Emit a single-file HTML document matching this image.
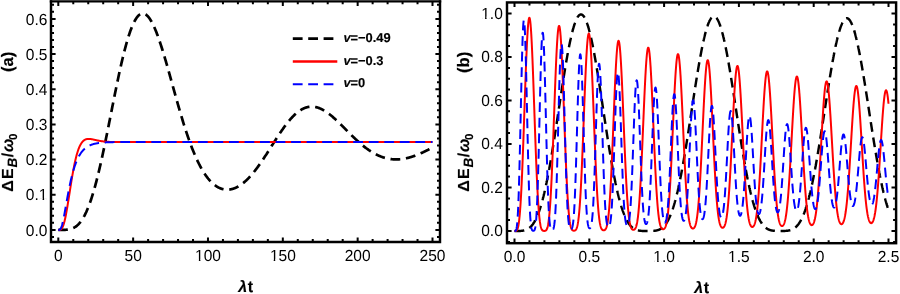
<!DOCTYPE html>
<html><head><meta charset="utf-8"><title>Figure</title>
<style>
html,body{margin:0;padding:0;background:#fff;}
body{width:900px;height:294px;overflow:hidden;}
svg{display:block;font-family:"Liberation Sans",sans-serif;will-change:transform;text-rendering:geometricPrecision;}
</style></head><body>
<svg width="900" height="294" viewBox="0 0 900 294">
<rect width="900" height="294" fill="#fff"/>
<defs><clipPath id="ca"><rect x="51" y="1.3" width="389" height="240.7"/></clipPath><clipPath id="cb"><rect x="507" y="2.45" width="389.1" height="240.75"/></clipPath></defs>
<g clip-path="url(#ca)" fill="none" stroke-linejoin="round"><path d="M58.30 229.90 L58.61 229.90 L58.92 229.90 L59.24 229.90 L59.55 229.90 L59.86 229.90 L60.17 229.90 L60.48 229.90 L60.80 229.90 L61.11 229.90 L61.42 229.90 L61.73 229.89 L62.05 229.89 L62.36 229.89 L62.67 229.88 L62.98 229.88 L63.29 229.87 L63.61 229.87 L63.92 229.86 L64.23 229.85 L64.54 229.84 L64.85 229.82 L65.17 229.81 L65.48 229.79 L65.79 229.77 L66.10 229.75 L66.41 229.72 L66.73 229.69 L67.04 229.66 L67.35 229.63 L67.66 229.59 L67.97 229.55 L68.29 229.50 L68.60 229.45 L68.91 229.40 L69.22 229.34 L69.54 229.27 L69.85 229.20 L70.16 229.13 L70.47 229.05 L70.78 228.96 L71.10 228.87 L71.41 228.77 L71.72 228.66 L72.03 228.55 L72.34 228.43 L72.66 228.30 L72.97 228.16 L73.28 228.02 L73.59 227.87 L73.90 227.71 L74.22 227.54 L74.53 227.36 L74.84 227.18 L75.15 226.98 L75.47 226.77 L75.78 226.56 L76.09 226.33 L76.40 226.09 L76.71 225.85 L77.03 225.59 L77.34 225.32 L77.65 225.04 L77.96 224.74 L78.27 224.44 L78.59 224.12 L78.90 223.79 L79.21 223.45 L79.52 223.10 L79.83 222.73 L80.15 222.35 L80.46 221.95 L80.77 221.54 L81.08 221.12 L81.39 220.69 L81.71 220.24 L82.02 219.77 L82.33 219.30 L82.64 218.80 L82.96 218.29 L83.27 217.77 L83.58 217.23 L83.89 216.68 L84.20 216.11 L84.52 215.53 L84.83 214.93 L85.14 214.31 L85.45 213.68 L85.76 213.03 L86.08 212.37 L86.39 211.69 L86.70 210.99 L87.01 210.28 L87.32 209.55 L87.64 208.81 L87.95 208.05 L88.26 207.27 L88.57 206.48 L88.89 205.67 L89.20 204.84 L89.51 204.00 L89.82 203.14 L90.13 202.26 L90.45 201.37 L90.76 200.46 L91.07 199.53 L91.38 198.59 L91.69 197.63 L92.01 196.66 L92.32 195.67 L92.63 194.66 L92.94 193.64 L93.25 192.60 L93.57 191.54 L93.88 190.47 L94.19 189.38 L94.50 188.28 L94.81 187.16 L95.13 186.03 L95.44 184.88 L95.75 183.72 L96.06 182.54 L96.38 181.35 L96.69 180.14 L97.00 178.92 L97.31 177.69 L97.62 176.44 L97.94 175.17 L98.25 173.90 L98.56 172.61 L98.87 171.30 L99.18 169.99 L99.50 168.66 L99.81 167.32 L100.12 165.97 L100.43 164.60 L100.74 163.23 L101.06 161.84 L101.37 160.44 L101.68 159.03 L101.99 157.61 L102.31 156.18 L102.62 154.74 L102.93 153.29 L103.24 151.83 L103.55 150.36 L103.87 148.89 L104.18 147.40 L104.49 145.91 L104.80 144.41 L105.11 142.90 L105.43 141.39 L105.74 139.87 L106.05 138.34 L106.36 136.81 L106.67 135.27 L106.99 133.73 L107.30 132.18 L107.61 130.62 L107.92 129.07 L108.23 127.51 L108.55 125.94 L108.86 124.38 L109.17 122.81 L109.48 121.23 L109.80 119.66 L110.11 118.09 L110.42 116.51 L110.73 114.93 L111.04 113.36 L111.36 111.78 L111.67 110.20 L111.98 108.63 L112.29 107.05 L112.60 105.48 L112.92 103.91 L113.23 102.35 L113.54 100.78 L113.85 99.22 L114.16 97.66 L114.48 96.11 L114.79 94.56 L115.10 93.02 L115.41 91.48 L115.73 89.95 L116.04 88.42 L116.35 86.90 L116.66 85.39 L116.97 83.88 L117.29 82.38 L117.60 80.89 L117.91 79.41 L118.22 77.94 L118.53 76.47 L118.85 75.02 L119.16 73.57 L119.47 72.14 L119.78 70.71 L120.09 69.30 L120.41 67.90 L120.72 66.51 L121.03 65.13 L121.34 63.77 L121.65 62.41 L121.97 61.07 L122.28 59.75 L122.59 58.44 L122.90 57.14 L123.22 55.85 L123.53 54.58 L123.84 53.33 L124.15 52.09 L124.46 50.87 L124.78 49.66 L125.09 48.47 L125.40 47.29 L125.71 46.13 L126.02 44.99 L126.34 43.87 L126.65 42.76 L126.96 41.67 L127.27 40.60 L127.58 39.54 L127.90 38.51 L128.21 37.49 L128.52 36.50 L128.83 35.52 L129.15 34.56 L129.46 33.62 L129.77 32.70 L130.08 31.80 L130.39 30.92 L130.71 30.06 L131.02 29.23 L131.33 28.41 L131.64 27.61 L131.95 26.83 L132.27 26.08 L132.58 25.34 L132.89 24.63 L133.20 23.94 L133.51 23.27 L133.83 22.62 L134.14 22.00 L134.45 21.39 L134.76 20.81 L135.07 20.25 L135.39 19.71 L135.70 19.20 L136.01 18.70 L136.32 18.23 L136.64 17.78 L136.95 17.36 L137.26 16.95 L137.57 16.57 L137.88 16.21 L138.20 15.87 L138.51 15.56 L138.82 15.27 L139.13 15.00 L139.44 14.75 L139.76 14.53 L140.07 14.33 L140.38 14.15 L140.69 13.99 L141.00 13.85 L141.32 13.74 L141.63 13.65 L141.94 13.58 L142.25 13.54 L142.57 13.51 L142.88 13.51 L143.19 13.53 L143.50 13.57 L143.81 13.63 L144.13 13.72 L144.44 13.82 L144.75 13.95 L145.06 14.10 L145.37 14.27 L145.69 14.46 L146.00 14.67 L146.31 14.90 L146.62 15.15 L146.93 15.42 L147.25 15.71 L147.56 16.02 L147.87 16.36 L148.18 16.71 L148.49 17.08 L148.81 17.47 L149.12 17.88 L149.43 18.30 L149.74 18.75 L150.06 19.21 L150.37 19.70 L150.68 20.20 L150.99 20.72 L151.30 21.25 L151.62 21.81 L151.93 22.38 L152.24 22.97 L152.55 23.57 L152.86 24.19 L153.18 24.83 L153.49 25.48 L153.80 26.15 L154.11 26.84 L154.42 27.54 L154.74 28.25 L155.05 28.98 L155.36 29.72 L155.67 30.48 L155.99 31.26 L156.30 32.04 L156.61 32.84 L156.92 33.65 L157.23 34.48 L157.55 35.32 L157.86 36.17 L158.17 37.03 L158.48 37.91 L158.79 38.79 L159.11 39.69 L159.42 40.60 L159.73 41.52 L160.04 42.45 L160.35 43.39 L160.67 44.34 L160.98 45.30 L161.29 46.27 L161.60 47.24 L161.92 48.23 L162.23 49.23 L162.54 50.23 L162.85 51.24 L163.16 52.26 L163.48 53.29 L163.79 54.32 L164.10 55.36 L164.41 56.41 L164.72 57.46 L165.04 58.52 L165.35 59.59 L165.66 60.66 L165.97 61.74 L166.28 62.82 L166.60 63.90 L166.91 64.99 L167.22 66.09 L167.53 67.19 L167.84 68.29 L168.16 69.40 L168.47 70.51 L168.78 71.62 L169.09 72.73 L169.41 73.85 L169.72 74.97 L170.03 76.09 L170.34 77.21 L170.65 78.34 L170.97 79.46 L171.28 80.59 L171.59 81.72 L171.90 82.84 L172.21 83.97 L172.53 85.10 L172.84 86.23 L173.15 87.35 L173.46 88.48 L173.77 89.61 L174.09 90.73 L174.40 91.85 L174.71 92.98 L175.02 94.10 L175.34 95.22 L175.65 96.33 L175.96 97.45 L176.27 98.56 L176.58 99.67 L176.90 100.77 L177.21 101.87 L177.52 102.97 L177.83 104.07 L178.14 105.16 L178.46 106.25 L178.77 107.34 L179.08 108.42 L179.39 109.49 L179.70 110.57 L180.02 111.63 L180.33 112.70 L180.64 113.75 L180.95 114.81 L181.26 115.86 L181.58 116.90 L181.89 117.94 L182.20 118.97 L182.51 119.99 L182.83 121.01 L183.14 122.03 L183.45 123.04 L183.76 124.04 L184.07 125.03 L184.39 126.02 L184.70 127.01 L185.01 127.98 L185.32 128.95 L185.63 129.92 L185.95 130.87 L186.26 131.82 L186.57 132.76 L186.88 133.70 L187.19 134.63 L187.51 135.55 L187.82 136.46 L188.13 137.37 L188.44 138.26 L188.76 139.15 L189.07 140.04 L189.38 140.91 L189.69 141.78 L190.00 142.64 L190.32 143.49 L190.63 144.33 L190.94 145.17 L191.25 146.00 L191.56 146.82 L191.88 147.63 L192.19 148.43 L192.50 149.23 L192.81 150.02 L193.12 150.80 L193.44 151.57 L193.75 152.33 L194.06 153.08 L194.37 153.83 L194.68 154.57 L195.00 155.30 L195.31 156.02 L195.62 156.73 L195.93 157.44 L196.25 158.13 L196.56 158.82 L196.87 159.50 L197.18 160.17 L197.49 160.83 L197.81 161.49 L198.12 162.13 L198.43 162.77 L198.74 163.40 L199.05 164.02 L199.37 164.64 L199.68 165.24 L199.99 165.84 L200.30 166.42 L200.61 167.00 L200.93 167.58 L201.24 168.14 L201.55 168.69 L201.86 169.24 L202.18 169.78 L202.49 170.31 L202.80 170.83 L203.11 171.35 L203.42 171.85 L203.74 172.35 L204.05 172.84 L204.36 173.33 L204.67 173.80 L204.98 174.27 L205.30 174.73 L205.61 175.18 L205.92 175.62 L206.23 176.06 L206.54 176.48 L206.86 176.91 L207.17 177.32 L207.48 177.72 L207.79 178.12 L208.10 178.51 L208.42 178.89 L208.73 179.27 L209.04 179.64 L209.35 180.00 L209.67 180.35 L209.98 180.70 L210.29 181.03 L210.60 181.37 L210.91 181.69 L211.23 182.01 L211.54 182.32 L211.85 182.62 L212.16 182.92 L212.47 183.21 L212.79 183.49 L213.10 183.76 L213.41 184.03 L213.72 184.29 L214.03 184.55 L214.35 184.80 L214.66 185.04 L214.97 185.27 L215.28 185.50 L215.60 185.73 L215.91 185.94 L216.22 186.15 L216.53 186.35 L216.84 186.55 L217.16 186.74 L217.47 186.92 L217.78 187.10 L218.09 187.27 L218.40 187.43 L218.72 187.59 L219.03 187.75 L219.34 187.89 L219.65 188.03 L219.96 188.17 L220.28 188.30 L220.59 188.42 L220.90 188.53 L221.21 188.64 L221.52 188.75 L221.84 188.85 L222.15 188.94 L222.46 189.03 L222.77 189.11 L223.09 189.19 L223.40 189.26 L223.71 189.32 L224.02 189.38 L224.33 189.43 L224.65 189.48 L224.96 189.52 L225.27 189.56 L225.58 189.59 L225.89 189.62 L226.21 189.64 L226.52 189.65 L226.83 189.66 L227.14 189.66 L227.45 189.66 L227.77 189.65 L228.08 189.64 L228.39 189.63 L228.70 189.60 L229.02 189.57 L229.33 189.54 L229.64 189.50 L229.95 189.46 L230.26 189.41 L230.58 189.36 L230.89 189.30 L231.20 189.23 L231.51 189.16 L231.82 189.09 L232.14 189.01 L232.45 188.93 L232.76 188.84 L233.07 188.74 L233.38 188.64 L233.70 188.54 L234.01 188.43 L234.32 188.31 L234.63 188.20 L234.94 188.07 L235.26 187.94 L235.57 187.81 L235.88 187.67 L236.19 187.53 L236.51 187.38 L236.82 187.22 L237.13 187.07 L237.44 186.90 L237.75 186.73 L238.07 186.56 L238.38 186.38 L238.69 186.20 L239.00 186.02 L239.31 185.82 L239.63 185.63 L239.94 185.43 L240.25 185.22 L240.56 185.01 L240.87 184.80 L241.19 184.58 L241.50 184.36 L241.81 184.13 L242.12 183.89 L242.44 183.66 L242.75 183.42 L243.06 183.17 L243.37 182.92 L243.68 182.66 L244.00 182.40 L244.31 182.14 L244.62 181.87 L244.93 181.60 L245.24 181.32 L245.56 181.04 L245.87 180.75 L246.18 180.46 L246.49 180.17 L246.80 179.87 L247.12 179.57 L247.43 179.26 L247.74 178.95 L248.05 178.64 L248.36 178.32 L248.68 177.99 L248.99 177.67 L249.30 177.34 L249.61 177.00 L249.93 176.66 L250.24 176.32 L250.55 175.97 L250.86 175.62 L251.17 175.27 L251.49 174.91 L251.80 174.55 L252.11 174.18 L252.42 173.81 L252.73 173.44 L253.05 173.06 L253.36 172.68 L253.67 172.30 L253.98 171.91 L254.29 171.52 L254.61 171.13 L254.92 170.73 L255.23 170.33 L255.54 169.93 L255.86 169.52 L256.17 169.11 L256.48 168.70 L256.79 168.28 L257.10 167.87 L257.42 167.44 L257.73 167.02 L258.04 166.59 L258.35 166.16 L258.66 165.73 L258.98 165.29 L259.29 164.85 L259.60 164.41 L259.91 163.97 L260.22 163.52 L260.54 163.07 L260.85 162.62 L261.16 162.17 L261.47 161.71 L261.78 161.25 L262.10 160.79 L262.41 160.33 L262.72 159.87 L263.03 159.40 L263.35 158.93 L263.66 158.47 L263.97 157.99 L264.28 157.52 L264.59 157.05 L264.91 156.57 L265.22 156.09 L265.53 155.61 L265.84 155.13 L266.15 154.65 L266.47 154.17 L266.78 153.68 L267.09 153.20 L267.40 152.71 L267.71 152.22 L268.03 151.73 L268.34 151.25 L268.65 150.76 L268.96 150.26 L269.28 149.77 L269.59 149.28 L269.90 148.79 L270.21 148.30 L270.52 147.80 L270.84 147.31 L271.15 146.82 L271.46 146.33 L271.77 145.83 L272.08 145.34 L272.40 144.85 L272.71 144.35 L273.02 143.86 L273.33 143.37 L273.64 142.88 L273.96 142.39 L274.27 141.90 L274.58 141.41 L274.89 140.92 L275.20 140.43 L275.52 139.94 L275.83 139.46 L276.14 138.97 L276.45 138.49 L276.77 138.00 L277.08 137.52 L277.39 137.04 L277.70 136.56 L278.01 136.09 L278.33 135.61 L278.64 135.14 L278.95 134.67 L279.26 134.20 L279.57 133.73 L279.89 133.26 L280.20 132.80 L280.51 132.34 L280.82 131.88 L281.13 131.42 L281.45 130.96 L281.76 130.51 L282.07 130.06 L282.38 129.61 L282.70 129.17 L283.01 128.72 L283.32 128.28 L283.63 127.85 L283.94 127.41 L284.26 126.98 L284.57 126.56 L284.88 126.13 L285.19 125.71 L285.50 125.29 L285.82 124.88 L286.13 124.47 L286.44 124.06 L286.75 123.65 L287.06 123.25 L287.38 122.85 L287.69 122.46 L288.00 122.07 L288.31 121.69 L288.62 121.30 L288.94 120.93 L289.25 120.55 L289.56 120.18 L289.87 119.82 L290.19 119.45 L290.50 119.10 L290.81 118.74 L291.12 118.39 L291.43 118.05 L291.75 117.71 L292.06 117.37 L292.37 117.04 L292.68 116.72 L292.99 116.40 L293.31 116.08 L293.62 115.77 L293.93 115.46 L294.24 115.15 L294.55 114.86 L294.87 114.56 L295.18 114.28 L295.49 113.99 L295.80 113.71 L296.12 113.44 L296.43 113.17 L296.74 112.91 L297.05 112.65 L297.36 112.40 L297.68 112.15 L297.99 111.91 L298.30 111.67 L298.61 111.44 L298.92 111.21 L299.24 110.99 L299.55 110.78 L299.86 110.56 L300.17 110.36 L300.48 110.16 L300.80 109.97 L301.11 109.78 L301.42 109.59 L301.73 109.41 L302.04 109.24 L302.36 109.08 L302.67 108.91 L302.98 108.76 L303.29 108.61 L303.61 108.46 L303.92 108.32 L304.23 108.19 L304.54 108.06 L304.85 107.94 L305.17 107.82 L305.48 107.71 L305.79 107.60 L306.10 107.50 L306.41 107.41 L306.73 107.32 L307.04 107.24 L307.35 107.16 L307.66 107.08 L307.97 107.02 L308.29 106.96 L308.60 106.90 L308.91 106.85 L309.22 106.80 L309.54 106.76 L309.85 106.73 L310.16 106.70 L310.47 106.68 L310.78 106.66 L311.10 106.65 L311.41 106.64 L311.72 106.64 L312.03 106.64 L312.34 106.65 L312.66 106.67 L312.97 106.68 L313.28 106.71 L313.59 106.74 L313.90 106.77 L314.22 106.81 L314.53 106.86 L314.84 106.91 L315.15 106.97 L315.46 107.03 L315.78 107.09 L316.09 107.16 L316.40 107.24 L316.71 107.32 L317.03 107.40 L317.34 107.49 L317.65 107.59 L317.96 107.69 L318.27 107.79 L318.59 107.90 L318.90 108.01 L319.21 108.13 L319.52 108.25 L319.83 108.38 L320.15 108.51 L320.46 108.65 L320.77 108.79 L321.08 108.93 L321.39 109.08 L321.71 109.23 L322.02 109.39 L322.33 109.55 L322.64 109.71 L322.96 109.88 L323.27 110.06 L323.58 110.23 L323.89 110.42 L324.20 110.60 L324.52 110.79 L324.83 110.98 L325.14 111.18 L325.45 111.38 L325.76 111.58 L326.08 111.79 L326.39 112.00 L326.70 112.21 L327.01 112.43 L327.32 112.65 L327.64 112.87 L327.95 113.10 L328.26 113.33 L328.57 113.56 L328.88 113.80 L329.20 114.03 L329.51 114.28 L329.82 114.52 L330.13 114.77 L330.45 115.02 L330.76 115.27 L331.07 115.53 L331.38 115.78 L331.69 116.04 L332.01 116.31 L332.32 116.57 L332.63 116.84 L332.94 117.11 L333.25 117.38 L333.57 117.66 L333.88 117.93 L334.19 118.21 L334.50 118.49 L334.81 118.77 L335.13 119.06 L335.44 119.34 L335.75 119.63 L336.06 119.92 L336.38 120.21 L336.69 120.51 L337.00 120.80 L337.31 121.10 L337.62 121.39 L337.94 121.69 L338.25 121.99 L338.56 122.29 L338.87 122.59 L339.18 122.90 L339.50 123.20 L339.81 123.51 L340.12 123.81 L340.43 124.12 L340.74 124.43 L341.06 124.74 L341.37 125.05 L341.68 125.36 L341.99 125.67 L342.31 125.98 L342.62 126.30 L342.93 126.61 L343.24 126.92 L343.55 127.23 L343.87 127.55 L344.18 127.86 L344.49 128.18 L344.80 128.49 L345.11 128.81 L345.43 129.12 L345.74 129.44 L346.05 129.75 L346.36 130.07 L346.67 130.38 L346.99 130.70 L347.30 131.01 L347.61 131.33 L347.92 131.64 L348.23 131.95 L348.55 132.27 L348.86 132.58 L349.17 132.89 L349.48 133.20 L349.80 133.52 L350.11 133.83 L350.42 134.14 L350.73 134.45 L351.04 134.75 L351.36 135.06 L351.67 135.37 L351.98 135.68 L352.29 135.98 L352.60 136.29 L352.92 136.59 L353.23 136.89 L353.54 137.19 L353.85 137.49 L354.16 137.79 L354.48 138.09 L354.79 138.39 L355.10 138.68 L355.41 138.98 L355.73 139.27 L356.04 139.56 L356.35 139.85 L356.66 140.14 L356.97 140.43 L357.29 140.72 L357.60 141.00 L357.91 141.29 L358.22 141.57 L358.53 141.85 L358.85 142.13 L359.16 142.40 L359.47 142.68 L359.78 142.95 L360.09 143.23 L360.41 143.50 L360.72 143.76 L361.03 144.03 L361.34 144.30 L361.65 144.56 L361.97 144.82 L362.28 145.08 L362.59 145.34 L362.90 145.59 L363.22 145.85 L363.53 146.10 L363.84 146.35 L364.15 146.60 L364.46 146.84 L364.78 147.09 L365.09 147.33 L365.40 147.57 L365.71 147.80 L366.02 148.04 L366.34 148.27 L366.65 148.50 L366.96 148.73 L367.27 148.96 L367.58 149.18 L367.90 149.41 L368.21 149.63 L368.52 149.84 L368.83 150.06 L369.15 150.27 L369.46 150.48 L369.77 150.69 L370.08 150.90 L370.39 151.10 L370.71 151.30 L371.02 151.50 L371.33 151.70 L371.64 151.89 L371.95 152.09 L372.27 152.28 L372.58 152.46 L372.89 152.65 L373.20 152.83 L373.51 153.01 L373.83 153.19 L374.14 153.36 L374.45 153.54 L374.76 153.71 L375.07 153.87 L375.39 154.04 L375.70 154.20 L376.01 154.36 L376.32 154.52 L376.64 154.68 L376.95 154.83 L377.26 154.98 L377.57 155.13 L377.88 155.27 L378.20 155.41 L378.51 155.55 L378.82 155.69 L379.13 155.83 L379.44 155.96 L379.76 156.09 L380.07 156.22 L380.38 156.34 L380.69 156.47 L381.00 156.59 L381.32 156.70 L381.63 156.82 L381.94 156.93 L382.25 157.04 L382.57 157.15 L382.88 157.25 L383.19 157.36 L383.50 157.46 L383.81 157.55 L384.13 157.65 L384.44 157.74 L384.75 157.83 L385.06 157.92 L385.37 158.00 L385.69 158.08 L386.00 158.16 L386.31 158.24 L386.62 158.32 L386.93 158.39 L387.25 158.46 L387.56 158.52 L387.87 158.59 L388.18 158.65 L388.49 158.71 L388.81 158.77 L389.12 158.82 L389.43 158.88 L389.74 158.93 L390.06 158.97 L390.37 159.02 L390.68 159.06 L390.99 159.10 L391.30 159.14 L391.62 159.17 L391.93 159.21 L392.24 159.24 L392.55 159.26 L392.86 159.29 L393.18 159.31 L393.49 159.33 L393.80 159.35 L394.11 159.37 L394.42 159.38 L394.74 159.39 L395.05 159.40 L395.36 159.41 L395.67 159.41 L395.99 159.42 L396.30 159.42 L396.61 159.41 L396.92 159.41 L397.23 159.40 L397.55 159.39 L397.86 159.38 L398.17 159.37 L398.48 159.35 L398.79 159.33 L399.11 159.31 L399.42 159.29 L399.73 159.27 L400.04 159.24 L400.35 159.21 L400.67 159.18 L400.98 159.15 L401.29 159.11 L401.60 159.07 L401.91 159.03 L402.23 158.99 L402.54 158.95 L402.85 158.90 L403.16 158.85 L403.48 158.80 L403.79 158.75 L404.10 158.70 L404.41 158.64 L404.72 158.58 L405.04 158.52 L405.35 158.46 L405.66 158.40 L405.97 158.33 L406.28 158.27 L406.60 158.20 L406.91 158.12 L407.22 158.05 L407.53 157.98 L407.84 157.90 L408.16 157.82 L408.47 157.74 L408.78 157.66 L409.09 157.57 L409.41 157.49 L409.72 157.40 L410.03 157.31 L410.34 157.22 L410.65 157.13 L410.97 157.03 L411.28 156.93 L411.59 156.84 L411.90 156.74 L412.21 156.64 L412.53 156.53 L412.84 156.43 L413.15 156.32 L413.46 156.22 L413.77 156.11 L414.09 156.00 L414.40 155.89 L414.71 155.77 L415.02 155.66 L415.33 155.54 L415.65 155.42 L415.96 155.30 L416.27 155.18 L416.58 155.06 L416.90 154.94 L417.21 154.81 L417.52 154.69 L417.83 154.56 L418.14 154.43 L418.46 154.30 L418.77 154.17 L419.08 154.04 L419.39 153.91 L419.70 153.77 L420.02 153.64 L420.33 153.50 L420.64 153.37 L420.95 153.23 L421.26 153.09 L421.58 152.95 L421.89 152.80 L422.20 152.66 L422.51 152.52 L422.83 152.37 L423.14 152.23 L423.45 152.08 L423.76 151.93 L424.07 151.79 L424.39 151.64 L424.70 151.49 L425.01 151.34 L425.32 151.18 L425.63 151.03 L425.95 150.88 L426.26 150.72 L426.57 150.57 L426.88 150.42 L427.19 150.26 L427.51 150.10 L427.82 149.95 L428.13 149.79 L428.44 149.63 L428.75 149.47 L429.07 149.31 L429.38 149.15 L429.69 148.99 L430.00 148.83 L430.32 148.67 L430.63 148.51 L430.94 148.35 L431.25 148.19 L431.56 148.02 L431.88 147.86 L432.19 147.70 L432.50 147.53" stroke="#000" stroke-width="2.7" stroke-dasharray="9.8 5.73" stroke-dashoffset="0.3"/><path d="M58.30 229.90 L58.61 229.90 L58.92 229.90 L59.24 229.89 L59.55 229.87 L59.86 229.82 L60.17 229.74 L60.48 229.62 L60.80 229.46 L61.11 229.23 L61.42 228.93 L61.73 228.56 L62.05 228.11 L62.36 227.57 L62.67 226.93 L62.98 226.21 L63.29 225.39 L63.61 224.47 L63.92 223.45 L64.23 222.34 L64.54 221.14 L64.85 219.84 L65.17 218.46 L65.48 217.00 L65.79 215.45 L66.10 213.84 L66.41 212.16 L66.73 210.41 L67.04 208.62 L67.35 206.77 L67.66 204.88 L67.97 202.96 L68.29 201.01 L68.60 199.04 L68.91 197.04 L69.22 195.04 L69.54 193.04 L69.85 191.03 L70.16 189.03 L70.47 187.05 L70.78 185.08 L71.10 183.13 L71.41 181.20 L71.72 179.30 L72.03 177.44 L72.34 175.61 L72.66 173.82 L72.97 172.07 L73.28 170.37 L73.59 168.70 L73.90 167.09 L74.22 165.53 L74.53 164.01 L74.84 162.54 L75.15 161.13 L75.47 159.77 L75.78 158.46 L76.09 157.20 L76.40 155.99 L76.71 154.84 L77.03 153.74 L77.34 152.68 L77.65 151.68 L77.96 150.73 L78.27 149.82 L78.59 148.96 L78.90 148.15 L79.21 147.39 L79.52 146.66 L79.83 145.98 L80.15 145.35 L80.46 144.75 L80.77 144.19 L81.08 143.67 L81.39 143.18 L81.71 142.73 L82.02 142.31 L82.33 141.92 L82.64 141.56 L82.96 141.24 L83.27 140.94 L83.58 140.66 L83.89 140.41 L84.20 140.19 L84.52 139.99 L84.83 139.80 L85.14 139.64 L85.45 139.50 L85.76 139.38 L86.08 139.27 L86.39 139.18 L86.70 139.10 L87.01 139.04 L87.32 138.99 L87.64 138.95 L87.95 138.93 L88.26 138.91 L88.57 138.90 L88.89 138.90 L89.20 138.92 L89.51 138.93 L89.82 138.96 L90.13 138.99 L90.45 139.02 L90.76 139.06 L91.07 139.11 L91.38 139.16 L91.69 139.21 L92.01 139.27 L92.32 139.33 L92.63 139.39 L92.94 139.45 L93.25 139.52 L93.57 139.59 L93.88 139.65 L94.19 139.72 L94.50 139.79 L94.81 139.86 L95.13 139.93 L95.44 140.00 L95.75 140.07 L96.06 140.14 L96.38 140.20 L96.69 140.27 L97.00 140.34 L97.31 140.40 L97.62 140.47 L97.94 140.53 L98.25 140.59 L98.56 140.65 L98.87 140.71 L99.18 140.77 L99.50 140.83 L99.81 140.88 L100.12 140.94 L100.43 140.99 L100.74 141.04 L101.06 141.09 L101.37 141.14 L101.68 141.18 L101.99 141.23 L102.31 141.27 L102.62 141.31 L102.93 141.35 L103.24 141.39 L103.55 141.43 L103.87 141.46 L104.18 141.49 L104.49 141.53 L104.80 141.56 L105.11 141.59 L105.43 141.62 L105.74 141.64 L106.05 141.67 L106.36 141.69 L106.67 141.72 L106.99 141.74 L107.30 141.76 L107.61 141.78 L107.92 141.80 L108.23 141.81 L108.55 141.83 L108.86 141.85 L109.17 141.86 L109.48 141.88 L109.80 141.89 L110.11 141.90 L110.42 141.91 L110.73 141.92 L111.04 141.93 L111.36 141.94 L111.67 141.95 L111.98 141.96 L112.29 141.97 L112.60 141.97 L112.92 141.98 L113.23 141.99 L113.54 141.99 L113.85 142.00 L114.16 142.00 L114.48 142.00 L114.79 142.01 L115.10 142.01 L115.41 142.01 L115.73 142.02 L116.04 142.02 L116.35 142.02 L116.66 142.02 L116.97 142.02 L117.29 142.03 L117.60 142.03 L117.91 142.03 L118.22 142.03 L118.53 142.03 L118.85 142.03 L119.16 142.03 L119.47 142.03 L119.78 142.03 L120.09 142.03 L120.41 142.03 L120.72 142.03 L121.03 142.03 L121.34 142.02 L121.65 142.02 L121.97 142.02 L122.28 142.02 L122.59 142.02 L122.90 142.02 L123.22 142.02 L123.53 142.02 L123.84 142.02 L124.15 142.02 L124.46 142.01 L124.78 142.01 L125.09 142.01 L125.40 142.01 L125.71 142.01 L126.02 142.01 L126.34 142.01 L126.65 142.01 L126.96 142.00 L127.27 142.00 L127.58 142.00 L127.90 142.00 L128.21 142.00 L128.52 142.00 L128.83 142.00 L129.15 142.00 L129.46 142.00 L129.77 142.00 L130.08 141.99 L130.39 141.99 L130.71 141.99 L131.02 141.99 L131.33 141.99 L131.64 141.99 L131.95 141.99 L132.27 141.99 L132.58 141.99 L132.89 141.99 L133.20 141.99 L133.51 141.99 L133.83 141.98 L134.14 141.98 L134.45 141.98 L134.76 141.98 L135.07 141.98 L135.39 141.98 L135.70 141.98 L136.01 141.98 L136.32 141.98 L136.64 141.98 L136.95 141.98 L137.26 141.98 L137.57 141.98 L137.88 141.98 L138.20 141.98 L138.51 141.98 L138.82 141.98 L139.13 141.98 L139.44 141.98 L139.76 141.98 L140.07 141.98 L140.38 141.98 L140.69 141.98 L141.00 141.98 L141.32 141.98 L141.63 141.98 L141.94 141.98 L142.25 141.98 L142.57 141.98 L142.88 141.98 L143.19 141.97 L143.50 141.97 L143.81 141.97 L144.13 141.97 L144.44 141.97 L144.75 141.97 L145.06 141.97 L145.37 141.97 L145.69 141.97 L146.00 141.97 L146.31 141.97 L146.62 141.97 L146.93 141.97 L147.25 141.97 L147.56 141.97 L147.87 141.97 L148.18 141.97 L148.49 141.97 L148.81 141.97 L149.12 141.97 L149.43 141.97 L149.74 141.97 L150.06 141.97 L150.37 141.97 L150.68 141.97 L150.99 141.97 L151.30 141.97 L151.62 141.97 L151.93 141.97 L152.24 141.97 L152.55 141.97 L152.86 141.97 L153.18 141.97 L153.49 141.97 L153.80 141.97 L154.11 141.97 L154.42 141.97 L154.74 141.97 L155.05 141.97 L155.36 141.97 L155.67 141.97 L155.99 141.97 L156.30 141.97 L156.61 141.97 L156.92 141.97 L157.23 141.97 L157.55 141.97 L157.86 141.97 L158.17 141.97 L158.48 141.97 L158.79 141.97 L159.11 141.97 L159.42 141.97 L159.73 141.97 L160.04 141.97 L160.35 141.97 L160.67 141.97 L160.98 141.97 L161.29 141.97 L161.60 141.97 L161.92 141.97 L162.23 141.97 L162.54 141.97 L162.85 141.97 L163.16 141.97 L163.48 141.97 L163.79 141.97 L164.10 141.97 L164.41 141.97 L164.72 141.97 L165.04 141.97 L165.35 141.97 L165.66 141.97 L165.97 141.97 L166.28 141.97 L166.60 141.97 L166.91 141.97 L167.22 141.97 L167.53 141.97 L167.84 141.97 L168.16 141.97 L168.47 141.97 L168.78 141.97 L169.09 141.97 L169.41 141.97 L169.72 141.97 L170.03 141.97 L170.34 141.97 L170.65 141.97 L170.97 141.97 L171.28 141.97 L171.59 141.97 L171.90 141.97 L172.21 141.97 L172.53 141.97 L172.84 141.97 L173.15 141.97 L173.46 141.98 L173.77 141.98 L174.09 141.98 L174.40 141.98 L174.71 141.98 L175.02 141.98 L175.34 141.98 L175.65 141.98 L175.96 141.98 L176.27 141.98 L176.58 141.98 L176.90 141.98 L177.21 141.98 L177.52 141.98 L177.83 141.98 L178.14 141.98 L178.46 141.98 L178.77 141.98 L179.08 141.98 L179.39 141.98 L179.70 141.98 L180.02 141.98 L180.33 141.98 L180.64 141.98 L180.95 141.98 L181.26 141.98 L181.58 141.98 L181.89 141.98 L182.20 141.98 L182.51 141.98 L182.83 141.98 L183.14 141.98 L183.45 141.98 L183.76 141.98 L184.07 141.98 L184.39 141.98 L184.70 141.98 L185.01 141.98 L185.32 141.98 L185.63 141.98 L185.95 141.98 L186.26 141.98 L186.57 141.98 L186.88 141.98 L187.19 141.98 L187.51 141.98 L187.82 141.98 L188.13 141.98 L188.44 141.98 L188.76 141.98 L189.07 141.98 L189.38 141.98 L189.69 141.98 L190.00 141.98 L190.32 141.98 L190.63 141.98 L190.94 141.98 L191.25 141.98 L191.56 141.98 L191.88 141.98 L192.19 141.98 L192.50 141.98 L192.81 141.98 L193.12 141.98 L193.44 141.98 L193.75 141.98 L194.06 141.98 L194.37 141.98 L194.68 141.98 L195.00 141.98 L195.31 141.98 L195.62 141.98 L195.93 141.98 L196.25 141.98 L196.56 141.98 L196.87 141.98 L197.18 141.98 L197.49 141.98 L197.81 141.98 L198.12 141.98 L198.43 141.98 L198.74 141.98 L199.05 141.98 L199.37 141.98 L199.68 141.98 L199.99 141.98 L200.30 141.98 L200.61 141.98 L200.93 141.98 L201.24 141.98 L201.55 141.98 L201.86 141.98 L202.18 141.98 L202.49 141.98 L202.80 141.98 L203.11 141.98 L203.42 141.98 L203.74 141.97 L204.05 141.97 L204.36 141.97 L204.67 141.97 L204.98 141.97 L205.30 141.97 L205.61 141.97 L205.92 141.97 L206.23 141.97 L206.54 141.97 L206.86 141.97 L207.17 141.97 L207.48 141.97 L207.79 141.97 L208.10 141.97 L208.42 141.97 L208.73 141.97 L209.04 141.97 L209.35 141.97 L209.67 141.97 L209.98 141.97 L210.29 141.97 L210.60 141.97 L210.91 141.97 L211.23 141.97 L211.54 141.97 L211.85 141.97 L212.16 141.97 L212.47 141.97 L212.79 141.97 L213.10 141.97 L213.41 141.97 L213.72 141.97 L214.03 141.97 L214.35 141.97 L214.66 141.97 L214.97 141.97 L215.28 141.97 L215.60 141.97 L215.91 141.97 L216.22 141.97 L216.53 141.97 L216.84 141.97 L217.16 141.97 L217.47 141.97 L217.78 141.97 L218.09 141.97 L218.40 141.97 L218.72 141.97 L219.03 141.97 L219.34 141.97 L219.65 141.97 L219.96 141.97 L220.28 141.97 L220.59 141.97 L220.90 141.97 L221.21 141.97 L221.52 141.97 L221.84 141.97 L222.15 141.97 L222.46 141.97 L222.77 141.97 L223.09 141.97 L223.40 141.97 L223.71 141.97 L224.02 141.97 L224.33 141.97 L224.65 141.97 L224.96 141.97 L225.27 141.97 L225.58 141.97 L225.89 141.97 L226.21 141.97 L226.52 141.97 L226.83 141.97 L227.14 141.97 L227.45 141.97 L227.77 141.97 L228.08 141.97 L228.39 141.97 L228.70 141.97 L229.02 141.97 L229.33 141.97 L229.64 141.97 L229.95 141.97 L230.26 141.97 L230.58 141.97 L230.89 141.97 L231.20 141.97 L231.51 141.97 L231.82 141.97 L232.14 141.97 L232.45 141.97 L232.76 141.97 L233.07 141.97 L233.38 141.97 L233.70 141.97 L234.01 141.97 L234.32 141.98 L234.63 141.98 L234.94 141.98 L235.26 141.98 L235.57 141.98 L235.88 141.98 L236.19 141.98 L236.51 141.98 L236.82 141.98 L237.13 141.98 L237.44 141.98 L237.75 141.98 L238.07 141.98 L238.38 141.98 L238.69 141.98 L239.00 141.98 L239.31 141.98 L239.63 141.98 L239.94 141.98 L240.25 141.98 L240.56 141.98 L240.87 141.98 L241.19 141.98 L241.50 141.98 L241.81 141.98 L242.12 141.98 L242.44 141.98 L242.75 141.98 L243.06 141.98 L243.37 141.98 L243.68 141.98 L244.00 141.98 L244.31 141.98 L244.62 141.98 L244.93 141.98 L245.24 141.98 L245.56 141.98 L245.87 141.98 L246.18 141.98 L246.49 141.98 L246.80 141.98 L247.12 141.98 L247.43 141.98 L247.74 141.98 L248.05 141.98 L248.36 141.98 L248.68 141.98 L248.99 141.98 L249.30 141.98 L249.61 141.98 L249.93 141.98 L250.24 141.98 L250.55 141.98 L250.86 141.98 L251.17 141.98 L251.49 141.98 L251.80 141.98 L252.11 141.98 L252.42 141.98 L252.73 141.98 L253.05 141.98 L253.36 141.98 L253.67 141.98 L253.98 141.98 L254.29 141.98 L254.61 141.98 L254.92 141.98 L255.23 141.98 L255.54 141.98 L255.86 141.98 L256.17 141.98 L256.48 141.98 L256.79 141.98 L257.10 141.98 L257.42 141.98 L257.73 141.98 L258.04 141.98 L258.35 141.98 L258.66 141.98 L258.98 141.98 L259.29 141.98 L259.60 141.98 L259.91 141.98 L260.22 141.98 L260.54 141.98 L260.85 141.98 L261.16 141.98 L261.47 141.98 L261.78 141.98 L262.10 141.98 L262.41 141.98 L262.72 141.98 L263.03 141.98 L263.35 141.98 L263.66 141.98 L263.97 141.98 L264.28 141.98 L264.59 141.97 L264.91 141.97 L265.22 141.97 L265.53 141.97 L265.84 141.97 L266.15 141.97 L266.47 141.97 L266.78 141.97 L267.09 141.97 L267.40 141.97 L267.71 141.97 L268.03 141.97 L268.34 141.97 L268.65 141.97 L268.96 141.97 L269.28 141.97 L269.59 141.97 L269.90 141.97 L270.21 141.97 L270.52 141.97 L270.84 141.97 L271.15 141.97 L271.46 141.97 L271.77 141.97 L272.08 141.97 L272.40 141.97 L272.71 141.97 L273.02 141.97 L273.33 141.97 L273.64 141.97 L273.96 141.97 L274.27 141.97 L274.58 141.97 L274.89 141.97 L275.20 141.97 L275.52 141.97 L275.83 141.97 L276.14 141.97 L276.45 141.97 L276.77 141.97 L277.08 141.97 L277.39 141.97 L277.70 141.97 L278.01 141.97 L278.33 141.97 L278.64 141.97 L278.95 141.97 L279.26 141.97 L279.57 141.97 L279.89 141.97 L280.20 141.97 L280.51 141.97 L280.82 141.97 L281.13 141.97 L281.45 141.97 L281.76 141.97 L282.07 141.97 L282.38 141.97 L282.70 141.97 L283.01 141.97 L283.32 141.97 L283.63 141.97 L283.94 141.97 L284.26 141.97 L284.57 141.97 L284.88 141.97 L285.19 141.97 L285.50 141.97 L285.82 141.97 L286.13 141.97 L286.44 141.97 L286.75 141.97 L287.06 141.97 L287.38 141.97 L287.69 141.97 L288.00 141.97 L288.31 141.97 L288.62 141.97 L288.94 141.97 L289.25 141.97 L289.56 141.97 L289.87 141.97 L290.19 141.97 L290.50 141.97 L290.81 141.97 L291.12 141.97 L291.43 141.97 L291.75 141.97 L292.06 141.97 L292.37 141.97 L292.68 141.97 L292.99 141.97 L293.31 141.97 L293.62 141.97 L293.93 141.97 L294.24 141.97 L294.55 141.97 L294.87 141.98 L295.18 141.98 L295.49 141.98 L295.80 141.98 L296.12 141.98 L296.43 141.98 L296.74 141.98 L297.05 141.98 L297.36 141.98 L297.68 141.98 L297.99 141.98 L298.30 141.98 L298.61 141.98 L298.92 141.98 L299.24 141.98 L299.55 141.98 L299.86 141.98 L300.17 141.98 L300.48 141.98 L300.80 141.98 L301.11 141.98 L301.42 141.98 L301.73 141.98 L302.04 141.98 L302.36 141.98 L302.67 141.98 L302.98 141.98 L303.29 141.98 L303.61 141.98 L303.92 141.98 L304.23 141.98 L304.54 141.98 L304.85 141.98 L305.17 141.98 L305.48 141.98 L305.79 141.98 L306.10 141.98 L306.41 141.98 L306.73 141.98 L307.04 141.98 L307.35 141.98 L307.66 141.98 L307.97 141.98 L308.29 141.98 L308.60 141.98 L308.91 141.98 L309.22 141.98 L309.54 141.98 L309.85 141.98 L310.16 141.98 L310.47 141.98 L310.78 141.98 L311.10 141.98 L311.41 141.98 L311.72 141.98 L312.03 141.98 L312.34 141.98 L312.66 141.98 L312.97 141.98 L313.28 141.98 L313.59 141.98 L313.90 141.98 L314.22 141.98 L314.53 141.98 L314.84 141.98 L315.15 141.98 L315.46 141.98 L315.78 141.98 L316.09 141.98 L316.40 141.98 L316.71 141.98 L317.03 141.98 L317.34 141.98 L317.65 141.98 L317.96 141.98 L318.27 141.98 L318.59 141.98 L318.90 141.98 L319.21 141.98 L319.52 141.98 L319.83 141.98 L320.15 141.98 L320.46 141.98 L320.77 141.98 L321.08 141.98 L321.39 141.98 L321.71 141.98 L322.02 141.98 L322.33 141.98 L322.64 141.98 L322.96 141.98 L323.27 141.98 L323.58 141.98 L323.89 141.98 L324.20 141.98 L324.52 141.98 L324.83 141.98 L325.14 141.98 L325.45 141.98 L325.76 141.98 L326.08 141.98 L326.39 141.98 L326.70 141.98 L327.01 141.98 L327.32 141.98 L327.64 141.98 L327.95 141.98 L328.26 141.97 L328.57 141.97 L328.88 141.97 L329.20 141.97 L329.51 141.97 L329.82 141.97 L330.13 141.97 L330.45 141.97 L330.76 141.97 L331.07 141.97 L331.38 141.97 L331.69 141.97 L332.01 141.97 L332.32 141.97 L332.63 141.97 L332.94 141.97 L333.25 141.97 L333.57 141.97 L333.88 141.97 L334.19 141.97 L334.50 141.97 L334.81 141.97 L335.13 141.97 L335.44 141.97 L335.75 141.97 L336.06 141.97 L336.38 141.98 L336.69 141.98 L337.00 141.98 L337.31 141.98 L337.62 141.98 L337.94 141.98 L338.25 141.98 L338.56 141.98 L338.87 141.98 L339.18 141.98 L339.50 141.98 L339.81 141.98 L340.12 141.98 L340.43 141.98 L340.74 141.98 L341.06 141.98 L341.37 141.98 L341.68 141.98 L341.99 141.98 L342.31 141.98 L342.62 141.98 L342.93 141.98 L343.24 141.98 L343.55 141.98 L343.87 141.98 L344.18 141.98 L344.49 141.98 L344.80 141.98 L345.11 141.98 L345.43 141.98 L345.74 141.98 L346.05 141.98 L346.36 141.98 L346.67 141.98 L346.99 141.98 L347.30 141.98 L347.61 141.98 L347.92 141.98 L348.23 141.98 L348.55 141.98 L348.86 141.98 L349.17 141.98 L349.48 141.98 L349.80 141.98 L350.11 141.98 L350.42 141.98 L350.73 141.98 L351.04 141.98 L351.36 141.98 L351.67 141.98 L351.98 141.98 L352.29 141.98 L352.60 141.98 L352.92 141.98 L353.23 141.98 L353.54 141.98 L353.85 141.98 L354.16 141.98 L354.48 141.98 L354.79 141.98 L355.10 141.98 L355.41 141.98 L355.73 141.98 L356.04 141.98 L356.35 141.98 L356.66 141.98 L356.97 141.98 L357.29 141.98 L357.60 141.98 L357.91 141.98 L358.22 141.98 L358.53 141.98 L358.85 141.98 L359.16 141.98 L359.47 141.98 L359.78 141.98 L360.09 141.98 L360.41 141.98 L360.72 141.98 L361.03 141.98 L361.34 141.98 L361.65 141.98 L361.97 141.98 L362.28 141.98 L362.59 141.98 L362.90 141.98 L363.22 141.98 L363.53 141.98 L363.84 141.98 L364.15 141.98 L364.46 141.98 L364.78 141.98 L365.09 141.98 L365.40 141.98 L365.71 141.98 L366.02 141.98 L366.34 141.98 L366.65 141.98 L366.96 141.98 L367.27 141.98 L367.58 141.98 L367.90 141.98 L368.21 141.98 L368.52 141.98 L368.83 141.98 L369.15 141.98 L369.46 141.98 L369.77 141.98 L370.08 141.98 L370.39 141.98 L370.71 141.98 L371.02 141.98 L371.33 141.98 L371.64 141.98 L371.95 141.98 L372.27 141.98 L372.58 141.98 L372.89 141.98 L373.20 141.98 L373.51 141.98 L373.83 141.98 L374.14 141.98 L374.45 141.98 L374.76 141.98 L375.07 141.98 L375.39 141.98 L375.70 141.98 L376.01 141.98 L376.32 141.98 L376.64 141.98 L376.95 141.98 L377.26 141.98 L377.57 141.98 L377.88 141.98 L378.20 141.98 L378.51 141.98 L378.82 141.98 L379.13 141.98 L379.44 141.98 L379.76 141.98 L380.07 141.98 L380.38 141.98 L380.69 141.98 L381.00 141.98 L381.32 141.98 L381.63 141.98 L381.94 141.98 L382.25 141.98 L382.57 141.98 L382.88 141.98 L383.19 141.98 L383.50 141.98 L383.81 141.98 L384.13 141.98 L384.44 141.98 L384.75 141.98 L385.06 141.98 L385.37 141.98 L385.69 141.98 L386.00 141.98 L386.31 141.98 L386.62 141.98 L386.93 141.98 L387.25 141.98 L387.56 141.98 L387.87 141.98 L388.18 141.98 L388.49 141.98 L388.81 141.98 L389.12 141.98 L389.43 141.98 L389.74 141.98 L390.06 141.98 L390.37 141.98 L390.68 141.98 L390.99 141.98 L391.30 141.98 L391.62 141.98 L391.93 141.98 L392.24 141.98 L392.55 141.98 L392.86 141.98 L393.18 141.98 L393.49 141.98 L393.80 141.98 L394.11 141.98 L394.42 141.98 L394.74 141.98 L395.05 141.98 L395.36 141.98 L395.67 141.98 L395.99 141.98 L396.30 141.98 L396.61 141.98 L396.92 141.98 L397.23 141.98 L397.55 141.98 L397.86 141.98 L398.17 141.98 L398.48 141.98 L398.79 141.98 L399.11 141.98 L399.42 141.98 L399.73 141.98 L400.04 141.98 L400.35 141.98 L400.67 141.98 L400.98 141.98 L401.29 141.98 L401.60 141.98 L401.91 141.98 L402.23 141.98 L402.54 141.98 L402.85 141.98 L403.16 141.98 L403.48 141.98 L403.79 141.98 L404.10 141.98 L404.41 141.98 L404.72 141.98 L405.04 141.98 L405.35 141.98 L405.66 141.98 L405.97 141.98 L406.28 141.98 L406.60 141.98 L406.91 141.98 L407.22 141.98 L407.53 141.98 L407.84 141.98 L408.16 141.98 L408.47 141.98 L408.78 141.98 L409.09 141.98 L409.41 141.98 L409.72 141.98 L410.03 141.98 L410.34 141.98 L410.65 141.98 L410.97 141.98 L411.28 141.98 L411.59 141.98 L411.90 141.98 L412.21 141.98 L412.53 141.98 L412.84 141.98 L413.15 141.98 L413.46 141.98 L413.77 141.98 L414.09 141.98 L414.40 141.98 L414.71 141.98 L415.02 141.98 L415.33 141.98 L415.65 141.98 L415.96 141.98 L416.27 141.98 L416.58 141.98 L416.90 141.98 L417.21 141.98 L417.52 141.98 L417.83 141.98 L418.14 141.98 L418.46 141.98 L418.77 141.98 L419.08 141.98 L419.39 141.98 L419.70 141.98 L420.02 141.98 L420.33 141.98 L420.64 141.98 L420.95 141.98 L421.26 141.98 L421.58 141.98 L421.89 141.98 L422.20 141.98 L422.51 141.98 L422.83 141.98 L423.14 141.98 L423.45 141.98 L423.76 141.98 L424.07 141.98 L424.39 141.98 L424.70 141.98 L425.01 141.98 L425.32 141.98 L425.63 141.98 L425.95 141.98 L426.26 141.98 L426.57 141.98 L426.88 141.98 L427.19 141.98 L427.51 141.98 L427.82 141.98 L428.13 141.98 L428.44 141.98 L428.75 141.98 L429.07 141.98 L429.38 141.98 L429.69 141.98 L430.00 141.98 L430.32 141.98 L430.63 141.98 L430.94 141.98 L431.25 141.98 L431.56 141.98 L431.88 141.98 L432.19 141.98 L432.50 141.98" stroke="#f00" stroke-width="2.0"/><path d="M58.30 229.90 L58.61 229.90 L58.92 229.89 L59.24 229.84 L59.55 229.74 L59.86 229.56 L60.17 229.27 L60.48 228.88 L60.80 228.35 L61.11 227.70 L61.42 226.92 L61.73 226.01 L62.05 224.98 L62.36 223.83 L62.67 222.58 L62.98 221.23 L63.29 219.80 L63.61 218.29 L63.92 216.72 L64.23 215.10 L64.54 213.43 L64.85 211.73 L65.17 210.00 L65.48 208.25 L65.79 206.49 L66.10 204.73 L66.41 202.97 L66.73 201.21 L67.04 199.47 L67.35 197.74 L67.66 196.03 L67.97 194.35 L68.29 192.69 L68.60 191.06 L68.91 189.46 L69.22 187.90 L69.54 186.36 L69.85 184.86 L70.16 183.40 L70.47 181.97 L70.78 180.58 L71.10 179.23 L71.41 177.91 L71.72 176.63 L72.03 175.39 L72.34 174.19 L72.66 173.02 L72.97 171.88 L73.28 170.78 L73.59 169.72 L73.90 168.69 L74.22 167.70 L74.53 166.73 L74.84 165.80 L75.15 164.91 L75.47 164.04 L75.78 163.20 L76.09 162.39 L76.40 161.61 L76.71 160.86 L77.03 160.13 L77.34 159.43 L77.65 158.75 L77.96 158.10 L78.27 157.48 L78.59 156.87 L78.90 156.29 L79.21 155.73 L79.52 155.19 L79.83 154.68 L80.15 154.18 L80.46 153.70 L80.77 153.23 L81.08 152.79 L81.39 152.36 L81.71 151.95 L82.02 151.55 L82.33 151.17 L82.64 150.81 L82.96 150.46 L83.27 150.12 L83.58 149.79 L83.89 149.48 L84.20 149.18 L84.52 148.89 L84.83 148.62 L85.14 148.35 L85.45 148.09 L85.76 147.85 L86.08 147.61 L86.39 147.39 L86.70 147.17 L87.01 146.96 L87.32 146.76 L87.64 146.57 L87.95 146.38 L88.26 146.20 L88.57 146.03 L88.89 145.87 L89.20 145.71 L89.51 145.56 L89.82 145.42 L90.13 145.28 L90.45 145.14 L90.76 145.01 L91.07 144.89 L91.38 144.77 L91.69 144.66 L92.01 144.55 L92.32 144.45 L92.63 144.35 L92.94 144.25 L93.25 144.16 L93.57 144.07 L93.88 143.98 L94.19 143.90 L94.50 143.82 L94.81 143.75 L95.13 143.68 L95.44 143.61 L95.75 143.54 L96.06 143.48 L96.38 143.42 L96.69 143.36 L97.00 143.30 L97.31 143.25 L97.62 143.20 L97.94 143.15 L98.25 143.10 L98.56 143.05 L98.87 143.01 L99.18 142.97 L99.50 142.93 L99.81 142.89 L100.12 142.85 L100.43 142.81 L100.74 142.78 L101.06 142.75 L101.37 142.72 L101.68 142.69 L101.99 142.66 L102.31 142.63 L102.62 142.60 L102.93 142.58 L103.24 142.55 L103.55 142.53 L103.87 142.51 L104.18 142.48 L104.49 142.46 L104.80 142.44 L105.11 142.42 L105.43 142.41 L105.74 142.39 L106.05 142.37 L106.36 142.36 L106.67 142.34 L106.99 142.33 L107.30 142.31 L107.61 142.30 L107.92 142.28 L108.23 142.27 L108.55 142.26 L108.86 142.25 L109.17 142.24 L109.48 142.23 L109.80 142.22 L110.11 142.21 L110.42 142.20 L110.73 142.19 L111.04 142.18 L111.36 142.17 L111.67 142.16 L111.98 142.15 L112.29 142.15 L112.60 142.14 L112.92 142.13 L113.23 142.13 L113.54 142.12 L113.85 142.12 L114.16 142.11 L114.48 142.10 L114.79 142.10 L115.10 142.09 L115.41 142.09 L115.73 142.08 L116.04 142.08 L116.35 142.08 L116.66 142.07 L116.97 142.07 L117.29 142.06 L117.60 142.06 L117.91 142.06 L118.22 142.05 L118.53 142.05 L118.85 142.05 L119.16 142.04 L119.47 142.04 L119.78 142.04 L120.09 142.04 L120.41 142.03 L120.72 142.03 L121.03 142.03 L121.34 142.03 L121.65 142.02 L121.97 142.02 L122.28 142.02 L122.59 142.02 L122.90 142.02 L123.22 142.02 L123.53 142.01 L123.84 142.01 L124.15 142.01 L124.46 142.01 L124.78 142.01 L125.09 142.01 L125.40 142.00 L125.71 142.00 L126.02 142.00 L126.34 142.00 L126.65 142.00 L126.96 142.00 L127.27 142.00 L127.58 142.00 L127.90 142.00 L128.21 142.00 L128.52 141.99 L128.83 141.99 L129.15 141.99 L129.46 141.99 L129.77 141.99 L130.08 141.99 L130.39 141.99 L130.71 141.99 L131.02 141.99 L131.33 141.99 L131.64 141.99 L131.95 141.99 L132.27 141.99 L132.58 141.99 L132.89 141.99 L133.20 141.99 L133.51 141.99 L133.83 141.98 L134.14 141.98 L134.45 141.98 L134.76 141.98 L135.07 141.98 L135.39 141.98 L135.70 141.98 L136.01 141.98 L136.32 141.98 L136.64 141.98 L136.95 141.98 L137.26 141.98 L137.57 141.98 L137.88 141.98 L138.20 141.98 L138.51 141.98 L138.82 141.98 L139.13 141.98 L139.44 141.98 L139.76 141.98 L140.07 141.98 L140.38 141.98 L140.69 141.98 L141.00 141.98 L141.32 141.98 L141.63 141.98 L141.94 141.98 L142.25 141.98 L142.57 141.98 L142.88 141.98 L143.19 141.98 L143.50 141.98 L143.81 141.98 L144.13 141.98 L144.44 141.98 L144.75 141.98 L145.06 141.98 L145.37 141.98 L145.69 141.98 L146.00 141.98 L146.31 141.98 L146.62 141.98 L146.93 141.98 L147.25 141.98 L147.56 141.98 L147.87 141.98 L148.18 141.98 L148.49 141.98 L148.81 141.98 L149.12 141.98 L149.43 141.98 L149.74 141.98 L150.06 141.98 L150.37 141.98 L150.68 141.98 L150.99 141.98 L151.30 141.98 L151.62 141.98 L151.93 141.98 L152.24 141.98 L152.55 141.98 L152.86 141.98 L153.18 141.98 L153.49 141.98 L153.80 141.98 L154.11 141.98 L154.42 141.98 L154.74 141.98 L155.05 141.98 L155.36 141.98 L155.67 141.98 L155.99 141.98 L156.30 141.98 L156.61 141.98 L156.92 141.98 L157.23 141.98 L157.55 141.98 L157.86 141.98 L158.17 141.98 L158.48 141.98 L158.79 141.98 L159.11 141.98 L159.42 141.98 L159.73 141.98 L160.04 141.98 L160.35 141.98 L160.67 141.98 L160.98 141.98 L161.29 141.98 L161.60 141.98 L161.92 141.98 L162.23 141.98 L162.54 141.98 L162.85 141.98 L163.16 141.98 L163.48 141.98 L163.79 141.98 L164.10 141.98 L164.41 141.98 L164.72 141.98 L165.04 141.98 L165.35 141.98 L165.66 141.98 L165.97 141.98 L166.28 141.98 L166.60 141.98 L166.91 141.98 L167.22 141.98 L167.53 141.98 L167.84 141.98 L168.16 141.98 L168.47 141.98 L168.78 141.98 L169.09 141.98 L169.41 141.98 L169.72 141.98 L170.03 141.98 L170.34 141.98 L170.65 141.98 L170.97 141.98 L171.28 141.98 L171.59 141.98 L171.90 141.98 L172.21 141.98 L172.53 141.98 L172.84 141.98 L173.15 141.98 L173.46 141.98 L173.77 141.98 L174.09 141.98 L174.40 141.98 L174.71 141.98 L175.02 141.98 L175.34 141.98 L175.65 141.98 L175.96 141.98 L176.27 141.98 L176.58 141.98 L176.90 141.98 L177.21 141.98 L177.52 141.98 L177.83 141.98 L178.14 141.98 L178.46 141.98 L178.77 141.98 L179.08 141.98 L179.39 141.98 L179.70 141.98 L180.02 141.98 L180.33 141.98 L180.64 141.98 L180.95 141.98 L181.26 141.98 L181.58 141.98 L181.89 141.98 L182.20 141.98 L182.51 141.98 L182.83 141.98 L183.14 141.98 L183.45 141.98 L183.76 141.98 L184.07 141.98 L184.39 141.98 L184.70 141.98 L185.01 141.98 L185.32 141.98 L185.63 141.98 L185.95 141.98 L186.26 141.98 L186.57 141.98 L186.88 141.98 L187.19 141.98 L187.51 141.98 L187.82 141.98 L188.13 141.98 L188.44 141.98 L188.76 141.98 L189.07 141.98 L189.38 141.98 L189.69 141.98 L190.00 141.98 L190.32 141.98 L190.63 141.98 L190.94 141.98 L191.25 141.98 L191.56 141.98 L191.88 141.98 L192.19 141.98 L192.50 141.98 L192.81 141.98 L193.12 141.98 L193.44 141.98 L193.75 141.98 L194.06 141.98 L194.37 141.98 L194.68 141.98 L195.00 141.98 L195.31 141.98 L195.62 141.98 L195.93 141.98 L196.25 141.98 L196.56 141.98 L196.87 141.98 L197.18 141.98 L197.49 141.98 L197.81 141.98 L198.12 141.98 L198.43 141.98 L198.74 141.98 L199.05 141.98 L199.37 141.98 L199.68 141.98 L199.99 141.98 L200.30 141.98 L200.61 141.98 L200.93 141.98 L201.24 141.98 L201.55 141.98 L201.86 141.98 L202.18 141.98 L202.49 141.98 L202.80 141.98 L203.11 141.98 L203.42 141.98 L203.74 141.98 L204.05 141.98 L204.36 141.98 L204.67 141.98 L204.98 141.98 L205.30 141.98 L205.61 141.98 L205.92 141.98 L206.23 141.98 L206.54 141.98 L206.86 141.98 L207.17 141.98 L207.48 141.98 L207.79 141.98 L208.10 141.98 L208.42 141.98 L208.73 141.98 L209.04 141.98 L209.35 141.98 L209.67 141.98 L209.98 141.98 L210.29 141.98 L210.60 141.98 L210.91 141.98 L211.23 141.98 L211.54 141.98 L211.85 141.98 L212.16 141.98 L212.47 141.98 L212.79 141.98 L213.10 141.98 L213.41 141.98 L213.72 141.98 L214.03 141.98 L214.35 141.98 L214.66 141.98 L214.97 141.98 L215.28 141.98 L215.60 141.98 L215.91 141.98 L216.22 141.98 L216.53 141.98 L216.84 141.98 L217.16 141.98 L217.47 141.98 L217.78 141.98 L218.09 141.98 L218.40 141.98 L218.72 141.98 L219.03 141.98 L219.34 141.98 L219.65 141.98 L219.96 141.98 L220.28 141.98 L220.59 141.98 L220.90 141.98 L221.21 141.98 L221.52 141.98 L221.84 141.98 L222.15 141.98 L222.46 141.98 L222.77 141.98 L223.09 141.98 L223.40 141.98 L223.71 141.98 L224.02 141.98 L224.33 141.98 L224.65 141.98 L224.96 141.98 L225.27 141.98 L225.58 141.98 L225.89 141.98 L226.21 141.98 L226.52 141.98 L226.83 141.98 L227.14 141.98 L227.45 141.98 L227.77 141.98 L228.08 141.98 L228.39 141.98 L228.70 141.98 L229.02 141.98 L229.33 141.98 L229.64 141.98 L229.95 141.98 L230.26 141.98 L230.58 141.98 L230.89 141.98 L231.20 141.98 L231.51 141.98 L231.82 141.98 L232.14 141.98 L232.45 141.98 L232.76 141.98 L233.07 141.98 L233.38 141.98 L233.70 141.98 L234.01 141.98 L234.32 141.98 L234.63 141.98 L234.94 141.98 L235.26 141.98 L235.57 141.98 L235.88 141.98 L236.19 141.98 L236.51 141.98 L236.82 141.98 L237.13 141.98 L237.44 141.98 L237.75 141.98 L238.07 141.98 L238.38 141.98 L238.69 141.98 L239.00 141.98 L239.31 141.98 L239.63 141.98 L239.94 141.98 L240.25 141.98 L240.56 141.98 L240.87 141.98 L241.19 141.98 L241.50 141.98 L241.81 141.98 L242.12 141.98 L242.44 141.98 L242.75 141.98 L243.06 141.98 L243.37 141.98 L243.68 141.98 L244.00 141.98 L244.31 141.98 L244.62 141.98 L244.93 141.98 L245.24 141.98 L245.56 141.98 L245.87 141.98 L246.18 141.98 L246.49 141.98 L246.80 141.98 L247.12 141.98 L247.43 141.98 L247.74 141.98 L248.05 141.98 L248.36 141.98 L248.68 141.98 L248.99 141.98 L249.30 141.98 L249.61 141.98 L249.93 141.98 L250.24 141.98 L250.55 141.98 L250.86 141.98 L251.17 141.98 L251.49 141.98 L251.80 141.98 L252.11 141.98 L252.42 141.98 L252.73 141.98 L253.05 141.98 L253.36 141.98 L253.67 141.98 L253.98 141.98 L254.29 141.98 L254.61 141.98 L254.92 141.98 L255.23 141.98 L255.54 141.98 L255.86 141.98 L256.17 141.98 L256.48 141.98 L256.79 141.98 L257.10 141.98 L257.42 141.98 L257.73 141.98 L258.04 141.98 L258.35 141.98 L258.66 141.98 L258.98 141.98 L259.29 141.98 L259.60 141.98 L259.91 141.98 L260.22 141.98 L260.54 141.98 L260.85 141.98 L261.16 141.98 L261.47 141.98 L261.78 141.98 L262.10 141.98 L262.41 141.98 L262.72 141.98 L263.03 141.98 L263.35 141.98 L263.66 141.98 L263.97 141.98 L264.28 141.98 L264.59 141.98 L264.91 141.98 L265.22 141.98 L265.53 141.98 L265.84 141.98 L266.15 141.98 L266.47 141.98 L266.78 141.98 L267.09 141.98 L267.40 141.98 L267.71 141.98 L268.03 141.98 L268.34 141.98 L268.65 141.98 L268.96 141.98 L269.28 141.98 L269.59 141.98 L269.90 141.98 L270.21 141.98 L270.52 141.98 L270.84 141.98 L271.15 141.98 L271.46 141.98 L271.77 141.98 L272.08 141.98 L272.40 141.98 L272.71 141.98 L273.02 141.98 L273.33 141.98 L273.64 141.98 L273.96 141.98 L274.27 141.98 L274.58 141.98 L274.89 141.98 L275.20 141.98 L275.52 141.98 L275.83 141.98 L276.14 141.98 L276.45 141.98 L276.77 141.98 L277.08 141.98 L277.39 141.98 L277.70 141.98 L278.01 141.98 L278.33 141.98 L278.64 141.98 L278.95 141.98 L279.26 141.98 L279.57 141.98 L279.89 141.98 L280.20 141.98 L280.51 141.98 L280.82 141.98 L281.13 141.98 L281.45 141.98 L281.76 141.98 L282.07 141.98 L282.38 141.98 L282.70 141.98 L283.01 141.98 L283.32 141.98 L283.63 141.98 L283.94 141.98 L284.26 141.98 L284.57 141.98 L284.88 141.98 L285.19 141.98 L285.50 141.98 L285.82 141.98 L286.13 141.98 L286.44 141.98 L286.75 141.98 L287.06 141.98 L287.38 141.98 L287.69 141.98 L288.00 141.98 L288.31 141.98 L288.62 141.98 L288.94 141.98 L289.25 141.98 L289.56 141.98 L289.87 141.98 L290.19 141.98 L290.50 141.98 L290.81 141.98 L291.12 141.98 L291.43 141.98 L291.75 141.98 L292.06 141.98 L292.37 141.98 L292.68 141.98 L292.99 141.98 L293.31 141.98 L293.62 141.98 L293.93 141.98 L294.24 141.98 L294.55 141.98 L294.87 141.98 L295.18 141.98 L295.49 141.98 L295.80 141.98 L296.12 141.98 L296.43 141.98 L296.74 141.98 L297.05 141.98 L297.36 141.98 L297.68 141.98 L297.99 141.98 L298.30 141.98 L298.61 141.98 L298.92 141.98 L299.24 141.98 L299.55 141.98 L299.86 141.98 L300.17 141.98 L300.48 141.98 L300.80 141.98 L301.11 141.98 L301.42 141.98 L301.73 141.98 L302.04 141.98 L302.36 141.98 L302.67 141.98 L302.98 141.98 L303.29 141.98 L303.61 141.98 L303.92 141.98 L304.23 141.98 L304.54 141.98 L304.85 141.98 L305.17 141.98 L305.48 141.98 L305.79 141.98 L306.10 141.98 L306.41 141.98 L306.73 141.98 L307.04 141.98 L307.35 141.98 L307.66 141.98 L307.97 141.98 L308.29 141.98 L308.60 141.98 L308.91 141.98 L309.22 141.98 L309.54 141.98 L309.85 141.98 L310.16 141.98 L310.47 141.98 L310.78 141.98 L311.10 141.98 L311.41 141.98 L311.72 141.98 L312.03 141.98 L312.34 141.98 L312.66 141.98 L312.97 141.98 L313.28 141.98 L313.59 141.98 L313.90 141.98 L314.22 141.98 L314.53 141.98 L314.84 141.98 L315.15 141.98 L315.46 141.98 L315.78 141.98 L316.09 141.98 L316.40 141.98 L316.71 141.98 L317.03 141.98 L317.34 141.98 L317.65 141.98 L317.96 141.98 L318.27 141.98 L318.59 141.98 L318.90 141.98 L319.21 141.98 L319.52 141.98 L319.83 141.98 L320.15 141.98 L320.46 141.98 L320.77 141.98 L321.08 141.98 L321.39 141.98 L321.71 141.98 L322.02 141.98 L322.33 141.98 L322.64 141.98 L322.96 141.98 L323.27 141.98 L323.58 141.98 L323.89 141.98 L324.20 141.98 L324.52 141.98 L324.83 141.98 L325.14 141.98 L325.45 141.98 L325.76 141.98 L326.08 141.98 L326.39 141.98 L326.70 141.98 L327.01 141.98 L327.32 141.98 L327.64 141.98 L327.95 141.98 L328.26 141.98 L328.57 141.98 L328.88 141.98 L329.20 141.98 L329.51 141.98 L329.82 141.98 L330.13 141.98 L330.45 141.98 L330.76 141.98 L331.07 141.98 L331.38 141.98 L331.69 141.98 L332.01 141.98 L332.32 141.98 L332.63 141.98 L332.94 141.98 L333.25 141.98 L333.57 141.98 L333.88 141.98 L334.19 141.98 L334.50 141.98 L334.81 141.98 L335.13 141.98 L335.44 141.98 L335.75 141.98 L336.06 141.98 L336.38 141.98 L336.69 141.98 L337.00 141.98 L337.31 141.98 L337.62 141.98 L337.94 141.98 L338.25 141.98 L338.56 141.98 L338.87 141.98 L339.18 141.98 L339.50 141.98 L339.81 141.98 L340.12 141.98 L340.43 141.98 L340.74 141.98 L341.06 141.98 L341.37 141.98 L341.68 141.98 L341.99 141.98 L342.31 141.98 L342.62 141.98 L342.93 141.98 L343.24 141.98 L343.55 141.98 L343.87 141.98 L344.18 141.98 L344.49 141.98 L344.80 141.98 L345.11 141.98 L345.43 141.98 L345.74 141.98 L346.05 141.98 L346.36 141.98 L346.67 141.98 L346.99 141.98 L347.30 141.98 L347.61 141.98 L347.92 141.98 L348.23 141.98 L348.55 141.98 L348.86 141.98 L349.17 141.98 L349.48 141.98 L349.80 141.98 L350.11 141.98 L350.42 141.98 L350.73 141.98 L351.04 141.98 L351.36 141.98 L351.67 141.98 L351.98 141.98 L352.29 141.98 L352.60 141.98 L352.92 141.98 L353.23 141.98 L353.54 141.98 L353.85 141.98 L354.16 141.98 L354.48 141.98 L354.79 141.98 L355.10 141.98 L355.41 141.98 L355.73 141.98 L356.04 141.98 L356.35 141.98 L356.66 141.98 L356.97 141.98 L357.29 141.98 L357.60 141.98 L357.91 141.98 L358.22 141.98 L358.53 141.98 L358.85 141.98 L359.16 141.98 L359.47 141.98 L359.78 141.98 L360.09 141.98 L360.41 141.98 L360.72 141.98 L361.03 141.98 L361.34 141.98 L361.65 141.98 L361.97 141.98 L362.28 141.98 L362.59 141.98 L362.90 141.98 L363.22 141.98 L363.53 141.98 L363.84 141.98 L364.15 141.98 L364.46 141.98 L364.78 141.98 L365.09 141.98 L365.40 141.98 L365.71 141.98 L366.02 141.98 L366.34 141.98 L366.65 141.98 L366.96 141.98 L367.27 141.98 L367.58 141.98 L367.90 141.98 L368.21 141.98 L368.52 141.98 L368.83 141.98 L369.15 141.98 L369.46 141.98 L369.77 141.98 L370.08 141.98 L370.39 141.98 L370.71 141.98 L371.02 141.98 L371.33 141.98 L371.64 141.98 L371.95 141.98 L372.27 141.98 L372.58 141.98 L372.89 141.98 L373.20 141.98 L373.51 141.98 L373.83 141.98 L374.14 141.98 L374.45 141.98 L374.76 141.98 L375.07 141.98 L375.39 141.98 L375.70 141.98 L376.01 141.98 L376.32 141.98 L376.64 141.98 L376.95 141.98 L377.26 141.98 L377.57 141.98 L377.88 141.98 L378.20 141.98 L378.51 141.98 L378.82 141.98 L379.13 141.98 L379.44 141.98 L379.76 141.98 L380.07 141.98 L380.38 141.98 L380.69 141.98 L381.00 141.98 L381.32 141.98 L381.63 141.98 L381.94 141.98 L382.25 141.98 L382.57 141.98 L382.88 141.98 L383.19 141.98 L383.50 141.98 L383.81 141.98 L384.13 141.98 L384.44 141.98 L384.75 141.98 L385.06 141.98 L385.37 141.98 L385.69 141.98 L386.00 141.98 L386.31 141.98 L386.62 141.98 L386.93 141.98 L387.25 141.98 L387.56 141.98 L387.87 141.98 L388.18 141.98 L388.49 141.98 L388.81 141.98 L389.12 141.98 L389.43 141.98 L389.74 141.98 L390.06 141.98 L390.37 141.98 L390.68 141.98 L390.99 141.98 L391.30 141.98 L391.62 141.98 L391.93 141.98 L392.24 141.98 L392.55 141.98 L392.86 141.98 L393.18 141.98 L393.49 141.98 L393.80 141.98 L394.11 141.98 L394.42 141.98 L394.74 141.98 L395.05 141.98 L395.36 141.98 L395.67 141.98 L395.99 141.98 L396.30 141.98 L396.61 141.98 L396.92 141.98 L397.23 141.98 L397.55 141.98 L397.86 141.98 L398.17 141.98 L398.48 141.98 L398.79 141.98 L399.11 141.98 L399.42 141.98 L399.73 141.98 L400.04 141.98 L400.35 141.98 L400.67 141.98 L400.98 141.98 L401.29 141.98 L401.60 141.98 L401.91 141.98 L402.23 141.98 L402.54 141.98 L402.85 141.98 L403.16 141.98 L403.48 141.98 L403.79 141.98 L404.10 141.98 L404.41 141.98 L404.72 141.98 L405.04 141.98 L405.35 141.98 L405.66 141.98 L405.97 141.98 L406.28 141.98 L406.60 141.98 L406.91 141.98 L407.22 141.98 L407.53 141.98 L407.84 141.98 L408.16 141.98 L408.47 141.98 L408.78 141.98 L409.09 141.98 L409.41 141.98 L409.72 141.98 L410.03 141.98 L410.34 141.98 L410.65 141.98 L410.97 141.98 L411.28 141.98 L411.59 141.98 L411.90 141.98 L412.21 141.98 L412.53 141.98 L412.84 141.98 L413.15 141.98 L413.46 141.98 L413.77 141.98 L414.09 141.98 L414.40 141.98 L414.71 141.98 L415.02 141.98 L415.33 141.98 L415.65 141.98 L415.96 141.98 L416.27 141.98 L416.58 141.98 L416.90 141.98 L417.21 141.98 L417.52 141.98 L417.83 141.98 L418.14 141.98 L418.46 141.98 L418.77 141.98 L419.08 141.98 L419.39 141.98 L419.70 141.98 L420.02 141.98 L420.33 141.98 L420.64 141.98 L420.95 141.98 L421.26 141.98 L421.58 141.98 L421.89 141.98 L422.20 141.98 L422.51 141.98 L422.83 141.98 L423.14 141.98 L423.45 141.98 L423.76 141.98 L424.07 141.98 L424.39 141.98 L424.70 141.98 L425.01 141.98 L425.32 141.98 L425.63 141.98 L425.95 141.98 L426.26 141.98 L426.57 141.98 L426.88 141.98 L427.19 141.98 L427.51 141.98 L427.82 141.98 L428.13 141.98 L428.44 141.98 L428.75 141.98 L429.07 141.98 L429.38 141.98 L429.69 141.98 L430.00 141.98 L430.32 141.98 L430.63 141.98 L430.94 141.98 L431.25 141.98 L431.56 141.98 L431.88 141.98 L432.19 141.98 L432.50 141.98" stroke="#00f" stroke-width="2.0" stroke-dasharray="9.8 5.73"/></g>
<g clip-path="url(#cb)" fill="none" stroke-linejoin="round"><path d="M514.50 231.00 L514.59 231.00 L514.69 231.00 L514.78 231.00 L514.87 231.00 L514.97 231.00 L515.06 231.00 L515.15 231.00 L515.25 231.00 L515.34 231.00 L515.44 231.00 L515.53 231.00 L515.62 231.00 L515.72 231.00 L515.81 231.00 L515.90 231.00 L516.00 231.00 L516.09 231.00 L516.18 231.00 L516.28 231.00 L516.37 231.00 L516.46 231.00 L516.56 231.00 L516.65 231.00 L516.74 231.00 L516.84 231.00 L516.93 231.00 L517.03 231.00 L517.12 231.00 L517.21 231.00 L517.31 231.00 L517.40 231.00 L517.49 230.99 L517.59 230.99 L517.68 230.99 L517.77 230.99 L517.87 230.99 L517.96 230.99 L518.05 230.99 L518.15 230.99 L518.24 230.99 L518.33 230.99 L518.43 230.98 L518.52 230.98 L518.62 230.98 L518.71 230.98 L518.80 230.98 L518.90 230.97 L518.99 230.97 L519.08 230.97 L519.18 230.97 L519.27 230.97 L519.36 230.96 L519.46 230.96 L519.55 230.96 L519.64 230.95 L519.74 230.95 L519.83 230.95 L519.92 230.94 L520.02 230.94 L520.11 230.93 L520.20 230.93 L520.30 230.92 L520.39 230.92 L520.49 230.91 L520.58 230.91 L520.67 230.90 L520.77 230.90 L520.86 230.89 L520.95 230.88 L521.05 230.88 L521.14 230.87 L521.23 230.86 L521.33 230.86 L521.42 230.85 L521.51 230.84 L521.61 230.83 L521.70 230.82 L521.79 230.81 L521.89 230.80 L521.98 230.79 L522.08 230.78 L522.17 230.77 L522.26 230.76 L522.36 230.75 L522.45 230.74 L522.54 230.72 L522.64 230.71 L522.73 230.70 L522.82 230.68 L522.92 230.67 L523.01 230.65 L523.10 230.64 L523.20 230.62 L523.29 230.61 L523.38 230.59 L523.48 230.57 L523.57 230.55 L523.67 230.54 L523.76 230.52 L523.85 230.50 L523.95 230.48 L524.04 230.46 L524.13 230.44 L524.23 230.41 L524.32 230.39 L524.41 230.37 L524.51 230.35 L524.60 230.32 L524.69 230.30 L524.79 230.27 L524.88 230.24 L524.97 230.22 L525.07 230.19 L525.16 230.16 L525.26 230.13 L525.35 230.10 L525.44 230.07 L525.54 230.04 L525.63 230.01 L525.72 229.97 L525.82 229.94 L525.91 229.91 L526.00 229.87 L526.10 229.83 L526.19 229.80 L526.28 229.76 L526.38 229.72 L526.47 229.68 L526.56 229.64 L526.66 229.60 L526.75 229.56 L526.85 229.51 L526.94 229.47 L527.03 229.42 L527.13 229.38 L527.22 229.33 L527.31 229.28 L527.41 229.23 L527.50 229.18 L527.59 229.13 L527.69 229.08 L527.78 229.03 L527.87 228.97 L527.97 228.92 L528.06 228.86 L528.15 228.80 L528.25 228.74 L528.34 228.68 L528.43 228.62 L528.53 228.56 L528.62 228.50 L528.72 228.43 L528.81 228.37 L528.90 228.30 L529.00 228.23 L529.09 228.16 L529.18 228.09 L529.28 228.02 L529.37 227.95 L529.46 227.88 L529.56 227.80 L529.65 227.72 L529.74 227.65 L529.84 227.57 L529.93 227.49 L530.02 227.40 L530.12 227.32 L530.21 227.24 L530.31 227.15 L530.40 227.06 L530.49 226.97 L530.59 226.88 L530.68 226.79 L530.77 226.70 L530.87 226.60 L530.96 226.51 L531.05 226.41 L531.15 226.31 L531.24 226.21 L531.33 226.11 L531.43 226.00 L531.52 225.90 L531.61 225.79 L531.71 225.68 L531.80 225.57 L531.90 225.46 L531.99 225.35 L532.08 225.23 L532.18 225.12 L532.27 225.00 L532.36 224.88 L532.46 224.76 L532.55 224.64 L532.64 224.51 L532.74 224.38 L532.83 224.26 L532.92 224.13 L533.02 224.00 L533.11 223.86 L533.20 223.73 L533.30 223.59 L533.39 223.45 L533.49 223.31 L533.58 223.17 L533.67 223.03 L533.77 222.88 L533.86 222.73 L533.95 222.58 L534.05 222.43 L534.14 222.28 L534.23 222.12 L534.33 221.97 L534.42 221.81 L534.51 221.65 L534.61 221.49 L534.70 221.32 L534.79 221.16 L534.89 220.99 L534.98 220.82 L535.08 220.65 L535.17 220.47 L535.26 220.30 L535.36 220.12 L535.45 219.94 L535.54 219.76 L535.64 219.57 L535.73 219.38 L535.82 219.20 L535.92 219.01 L536.01 218.81 L536.10 218.62 L536.20 218.42 L536.29 218.23 L536.38 218.02 L536.48 217.82 L536.57 217.62 L536.67 217.41 L536.76 217.20 L536.85 216.99 L536.95 216.78 L537.04 216.56 L537.13 216.34 L537.23 216.12 L537.32 215.90 L537.41 215.68 L537.51 215.45 L537.60 215.22 L537.69 214.99 L537.79 214.76 L537.88 214.53 L537.97 214.29 L538.07 214.05 L538.16 213.81 L538.25 213.56 L538.35 213.32 L538.44 213.07 L538.54 212.82 L538.63 212.57 L538.72 212.31 L538.82 212.05 L538.91 211.79 L539.00 211.53 L539.10 211.27 L539.19 211.00 L539.28 210.73 L539.38 210.46 L539.47 210.19 L539.56 209.91 L539.66 209.63 L539.75 209.35 L539.84 209.07 L539.94 208.79 L540.03 208.50 L540.13 208.21 L540.22 207.92 L540.31 207.62 L540.41 207.33 L540.50 207.03 L540.59 206.73 L540.69 206.42 L540.78 206.12 L540.87 205.81 L540.97 205.50 L541.06 205.18 L541.15 204.87 L541.25 204.55 L541.34 204.23 L541.43 203.91 L541.53 203.58 L541.62 203.26 L541.72 202.93 L541.81 202.59 L541.90 202.26 L542.00 201.92 L542.09 201.58 L542.18 201.24 L542.28 200.90 L542.37 200.55 L542.46 200.20 L542.56 199.85 L542.65 199.50 L542.74 199.14 L542.84 198.78 L542.93 198.42 L543.02 198.06 L543.12 197.69 L543.21 197.33 L543.31 196.96 L543.40 196.58 L543.49 196.21 L543.59 195.83 L543.68 195.45 L543.77 195.07 L543.87 194.68 L543.96 194.30 L544.05 193.91 L544.15 193.52 L544.24 193.12 L544.33 192.73 L544.43 192.33 L544.52 191.93 L544.61 191.53 L544.71 191.12 L544.80 190.71 L544.90 190.30 L544.99 189.89 L545.08 189.47 L545.18 189.06 L545.27 188.64 L545.36 188.22 L545.46 187.79 L545.55 187.37 L545.64 186.94 L545.74 186.51 L545.83 186.07 L545.92 185.64 L546.02 185.20 L546.11 184.76 L546.20 184.32 L546.30 183.87 L546.39 183.43 L546.48 182.98 L546.58 182.53 L546.67 182.07 L546.77 181.62 L546.86 181.16 L546.95 180.70 L547.05 180.24 L547.14 179.77 L547.23 179.31 L547.33 178.84 L547.42 178.37 L547.51 177.89 L547.61 177.42 L547.70 176.94 L547.79 176.46 L547.89 175.98 L547.98 175.50 L548.07 175.01 L548.17 174.52 L548.26 174.03 L548.36 173.54 L548.45 173.05 L548.54 172.55 L548.64 172.06 L548.73 171.56 L548.82 171.05 L548.92 170.55 L549.01 170.04 L549.10 169.54 L549.20 169.03 L549.29 168.51 L549.38 168.00 L549.48 167.48 L549.57 166.97 L549.66 166.45 L549.76 165.93 L549.85 165.40 L549.95 164.88 L550.04 164.35 L550.13 163.82 L550.23 163.29 L550.32 162.76 L550.41 162.23 L550.51 161.69 L550.60 161.15 L550.69 160.61 L550.79 160.07 L550.88 159.53 L550.97 158.98 L551.07 158.44 L551.16 157.89 L551.25 157.34 L551.35 156.79 L551.44 156.24 L551.54 155.68 L551.63 155.13 L551.72 154.57 L551.82 154.01 L551.91 153.45 L552.00 152.89 L552.10 152.32 L552.19 151.76 L552.28 151.19 L552.38 150.62 L552.47 150.05 L552.56 149.48 L552.66 148.91 L552.75 148.33 L552.84 147.76 L552.94 147.18 L553.03 146.60 L553.13 146.02 L553.22 145.44 L553.31 144.86 L553.41 144.28 L553.50 143.69 L553.59 143.11 L553.69 142.52 L553.78 141.93 L553.87 141.34 L553.97 140.75 L554.06 140.16 L554.15 139.57 L554.25 138.97 L554.34 138.38 L554.43 137.78 L554.53 137.19 L554.62 136.59 L554.72 135.99 L554.81 135.39 L554.90 134.79 L555.00 134.19 L555.09 133.58 L555.18 132.98 L555.28 132.38 L555.37 131.77 L555.46 131.16 L555.56 130.56 L555.65 129.95 L555.74 129.34 L555.84 128.73 L555.93 128.12 L556.02 127.51 L556.12 126.90 L556.21 126.29 L556.30 125.67 L556.40 125.06 L556.49 124.44 L556.59 123.83 L556.68 123.21 L556.77 122.60 L556.87 121.98 L556.96 121.37 L557.05 120.75 L557.15 120.13 L557.24 119.51 L557.33 118.89 L557.43 118.28 L557.52 117.66 L557.61 117.04 L557.71 116.42 L557.80 115.80 L557.89 115.18 L557.99 114.56 L558.08 113.94 L558.18 113.31 L558.27 112.69 L558.36 112.07 L558.46 111.45 L558.55 110.83 L558.64 110.21 L558.74 109.59 L558.83 108.97 L558.92 108.34 L559.02 107.72 L559.11 107.10 L559.20 106.48 L559.30 105.86 L559.39 105.24 L559.48 104.62 L559.58 104.00 L559.67 103.38 L559.77 102.75 L559.86 102.13 L559.95 101.52 L560.05 100.90 L560.14 100.28 L560.23 99.66 L560.33 99.04 L560.42 98.42 L560.51 97.80 L560.61 97.19 L560.70 96.57 L560.79 95.95 L560.89 95.34 L560.98 94.72 L561.07 94.11 L561.17 93.49 L561.26 92.88 L561.36 92.27 L561.45 91.66 L561.54 91.05 L561.64 90.44 L561.73 89.83 L561.82 89.22 L561.92 88.61 L562.01 88.00 L562.10 87.40 L562.20 86.79 L562.29 86.19 L562.38 85.58 L562.48 84.98 L562.57 84.38 L562.66 83.78 L562.76 83.18 L562.85 82.58 L562.95 81.98 L563.04 81.39 L563.13 80.79 L563.23 80.20 L563.32 79.60 L563.41 79.01 L563.51 78.42 L563.60 77.83 L563.69 77.24 L563.79 76.66 L563.88 76.07 L563.97 75.49 L564.07 74.91 L564.16 74.33 L564.25 73.75 L564.35 73.17 L564.44 72.59 L564.54 72.02 L564.63 71.44 L564.72 70.87 L564.82 70.30 L564.91 69.73 L565.00 69.17 L565.10 68.60 L565.19 68.04 L565.28 67.48 L565.38 66.91 L565.47 66.36 L565.56 65.80 L565.66 65.25 L565.75 64.69 L565.84 64.14 L565.94 63.59 L566.03 63.05 L566.12 62.50 L566.22 61.96 L566.31 61.42 L566.41 60.88 L566.50 60.34 L566.59 59.80 L566.69 59.27 L566.78 58.74 L566.87 58.21 L566.97 57.68 L567.06 57.16 L567.15 56.64 L567.25 56.12 L567.34 55.60 L567.43 55.08 L567.53 54.57 L567.62 54.06 L567.71 53.55 L567.81 53.05 L567.90 52.54 L568.00 52.04 L568.09 51.54 L568.18 51.05 L568.28 50.55 L568.37 50.06 L568.46 49.57 L568.56 49.09 L568.65 48.60 L568.74 48.12 L568.84 47.64 L568.93 47.17 L569.02 46.69 L569.12 46.22 L569.21 45.76 L569.30 45.29 L569.40 44.83 L569.49 44.37 L569.59 43.91 L569.68 43.46 L569.77 43.01 L569.87 42.56 L569.96 42.12 L570.05 41.67 L570.15 41.23 L570.24 40.80 L570.33 40.36 L570.43 39.93 L570.52 39.51 L570.61 39.08 L570.71 38.66 L570.80 38.24 L570.89 37.83 L570.99 37.41 L571.08 37.01 L571.18 36.60 L571.27 36.20 L571.36 35.80 L571.46 35.40 L571.55 35.01 L571.64 34.62 L571.74 34.23 L571.83 33.85 L571.92 33.47 L572.02 33.09 L572.11 32.72 L572.20 32.35 L572.30 31.98 L572.39 31.62 L572.48 31.26 L572.58 30.90 L572.67 30.55 L572.77 30.20 L572.86 29.85 L572.95 29.51 L573.05 29.17 L573.14 28.84 L573.23 28.50 L573.33 28.18 L573.42 27.85 L573.51 27.53 L573.61 27.21 L573.70 26.90 L573.79 26.59 L573.89 26.28 L573.98 25.98 L574.07 25.68 L574.17 25.38 L574.26 25.09 L574.35 24.80 L574.45 24.52 L574.54 24.24 L574.64 23.96 L574.73 23.68 L574.82 23.41 L574.92 23.15 L575.01 22.89 L575.10 22.63 L575.20 22.37 L575.29 22.12 L575.38 21.88 L575.48 21.63 L575.57 21.39 L575.66 21.16 L575.76 20.93 L575.85 20.70 L575.94 20.48 L576.04 20.26 L576.13 20.04 L576.23 19.83 L576.32 19.62 L576.41 19.42 L576.51 19.22 L576.60 19.02 L576.69 18.83 L576.79 18.64 L576.88 18.46 L576.97 18.28 L577.07 18.11 L577.16 17.93 L577.25 17.77 L577.35 17.60 L577.44 17.44 L577.53 17.29 L577.63 17.14 L577.72 16.99 L577.82 16.85 L577.91 16.71 L578.00 16.57 L578.10 16.44 L578.19 16.32 L578.28 16.19 L578.38 16.08 L578.47 15.96 L578.56 15.85 L578.66 15.75 L578.75 15.64 L578.84 15.55 L578.94 15.45 L579.03 15.36 L579.12 15.28 L579.22 15.20 L579.31 15.12 L579.41 15.05 L579.50 14.98 L579.59 14.92 L579.69 14.86 L579.78 14.80 L579.87 14.75 L579.97 14.70 L580.06 14.66 L580.15 14.62 L580.25 14.59 L580.34 14.56 L580.43 14.53 L580.53 14.51 L580.62 14.49 L580.71 14.48 L580.81 14.47 L580.90 14.46 L581.00 14.46 L581.09 14.47 L581.18 14.47 L581.28 14.49 L581.37 14.50 L581.46 14.52 L581.56 14.55 L581.65 14.58 L581.74 14.61 L581.84 14.65 L581.93 14.69 L582.02 14.73 L582.12 14.78 L582.21 14.84 L582.30 14.90 L582.40 14.96 L582.49 15.02 L582.59 15.10 L582.68 15.17 L582.77 15.25 L582.87 15.33 L582.96 15.42 L583.05 15.51 L583.15 15.61 L583.24 15.71 L583.33 15.81 L583.43 15.92 L583.52 16.03 L583.61 16.15 L583.71 16.27 L583.80 16.40 L583.89 16.52 L583.99 16.66 L584.08 16.80 L584.17 16.94 L584.27 17.08 L584.36 17.23 L584.46 17.39 L584.55 17.54 L584.64 17.71 L584.74 17.87 L584.83 18.04 L584.92 18.22 L585.02 18.39 L585.11 18.58 L585.20 18.76 L585.30 18.95 L585.39 19.15 L585.48 19.34 L585.58 19.55 L585.67 19.75 L585.76 19.96 L585.86 20.18 L585.95 20.39 L586.05 20.62 L586.14 20.84 L586.23 21.07 L586.33 21.30 L586.42 21.54 L586.51 21.78 L586.61 22.03 L586.70 22.28 L586.79 22.53 L586.89 22.79 L586.98 23.05 L587.07 23.31 L587.17 23.58 L587.26 23.85 L587.35 24.13 L587.45 24.41 L587.54 24.69 L587.64 24.98 L587.73 25.27 L587.82 25.56 L587.92 25.86 L588.01 26.16 L588.10 26.47 L588.20 26.78 L588.29 27.09 L588.38 27.40 L588.48 27.72 L588.57 28.05 L588.66 28.37 L588.76 28.70 L588.85 29.04 L588.94 29.38 L589.04 29.72 L589.13 30.06 L589.23 30.41 L589.32 30.76 L589.41 31.12 L589.51 31.47 L589.60 31.84 L589.69 32.20 L589.79 32.57 L589.88 32.94 L589.97 33.32 L590.07 33.69 L590.16 34.08 L590.25 34.46 L590.35 34.85 L590.44 35.24 L590.53 35.63 L590.63 36.03 L590.72 36.43 L590.82 36.84 L590.91 37.24 L591.00 37.65 L591.10 38.07 L591.19 38.48 L591.28 38.90 L591.38 39.33 L591.47 39.75 L591.56 40.18 L591.66 40.61 L591.75 41.05 L591.84 41.49 L591.94 41.93 L592.03 42.37 L592.12 42.82 L592.22 43.27 L592.31 43.72 L592.40 44.17 L592.50 44.63 L592.59 45.09 L592.69 45.55 L592.78 46.02 L592.87 46.49 L592.97 46.96 L593.06 47.43 L593.15 47.91 L593.25 48.39 L593.34 48.87 L593.43 49.36 L593.53 49.84 L593.62 50.33 L593.71 50.83 L593.81 51.32 L593.90 51.82 L593.99 52.32 L594.09 52.82 L594.18 53.32 L594.28 53.83 L594.37 54.34 L594.46 54.85 L594.56 55.36 L594.65 55.88 L594.74 56.40 L594.84 56.92 L594.93 57.44 L595.02 57.97 L595.12 58.49 L595.21 59.02 L595.30 59.55 L595.40 60.09 L595.49 60.62 L595.58 61.16 L595.68 61.70 L595.77 62.24 L595.87 62.78 L595.96 63.33 L596.05 63.88 L596.15 64.43 L596.24 64.98 L596.33 65.53 L596.43 66.09 L596.52 66.64 L596.61 67.20 L596.71 67.76 L596.80 68.32 L596.89 68.89 L596.99 69.45 L597.08 70.02 L597.17 70.59 L597.27 71.16 L597.36 71.73 L597.46 72.30 L597.55 72.88 L597.64 73.45 L597.74 74.03 L597.83 74.61 L597.92 75.19 L598.02 75.77 L598.11 76.36 L598.20 76.94 L598.30 77.53 L598.39 78.11 L598.48 78.70 L598.58 79.29 L598.67 79.88 L598.76 80.48 L598.86 81.07 L598.95 81.67 L599.05 82.26 L599.14 82.86 L599.23 83.46 L599.33 84.05 L599.42 84.65 L599.51 85.26 L599.61 85.86 L599.70 86.46 L599.79 87.06 L599.89 87.67 L599.98 88.27 L600.07 88.88 L600.17 89.49 L600.26 90.10 L600.35 90.71 L600.45 91.31 L600.54 91.93 L600.64 92.54 L600.73 93.15 L600.82 93.76 L600.92 94.37 L601.01 94.99 L601.10 95.60 L601.20 96.21 L601.29 96.83 L601.38 97.45 L601.48 98.06 L601.57 98.68 L601.66 99.29 L601.76 99.91 L601.85 100.53 L601.94 101.15 L602.04 101.77 L602.13 102.38 L602.22 103.00 L602.32 103.62 L602.41 104.24 L602.51 104.86 L602.60 105.48 L602.69 106.10 L602.79 106.72 L602.88 107.34 L602.97 107.96 L603.07 108.58 L603.16 109.20 L603.25 109.82 L603.35 110.44 L603.44 111.06 L603.53 111.68 L603.63 112.30 L603.72 112.92 L603.81 113.54 L603.91 114.16 L604.00 114.78 L604.10 115.40 L604.19 116.02 L604.28 116.63 L604.38 117.25 L604.47 117.87 L604.56 118.49 L604.66 119.10 L604.75 119.72 L604.84 120.34 L604.94 120.95 L605.03 121.57 L605.12 122.18 L605.22 122.80 L605.31 123.41 L605.40 124.03 L605.50 124.64 L605.59 125.25 L605.69 125.86 L605.78 126.47 L605.87 127.08 L605.97 127.69 L606.06 128.30 L606.15 128.91 L606.25 129.52 L606.34 130.13 L606.43 130.73 L606.53 131.34 L606.62 131.94 L606.71 132.54 L606.81 133.15 L606.90 133.75 L606.99 134.35 L607.09 134.95 L607.18 135.55 L607.28 136.15 L607.37 136.74 L607.46 137.34 L607.56 137.93 L607.65 138.53 L607.74 139.12 L607.84 139.71 L607.93 140.30 L608.02 140.89 L608.12 141.48 L608.21 142.07 L608.30 142.66 L608.40 143.24 L608.49 143.82 L608.58 144.41 L608.68 144.99 L608.77 145.57 L608.87 146.15 L608.96 146.72 L609.05 147.30 L609.15 147.87 L609.24 148.45 L609.33 149.02 L609.43 149.59 L609.52 150.16 L609.61 150.73 L609.71 151.29 L609.80 151.86 L609.89 152.42 L609.99 152.98 L610.08 153.54 L610.17 154.10 L610.27 154.66 L610.36 155.21 L610.45 155.77 L610.55 156.32 L610.64 156.87 L610.74 157.42 L610.83 157.97 L610.92 158.51 L611.02 159.05 L611.11 159.60 L611.20 160.14 L611.30 160.68 L611.39 161.21 L611.48 161.75 L611.58 162.28 L611.67 162.82 L611.76 163.35 L611.86 163.87 L611.95 164.40 L612.04 164.92 L612.14 165.45 L612.23 165.97 L612.33 166.49 L612.42 167.00 L612.51 167.52 L612.61 168.03 L612.70 168.55 L612.79 169.05 L612.89 169.56 L612.98 170.07 L613.07 170.57 L613.17 171.07 L613.26 171.57 L613.35 172.07 L613.45 172.57 L613.54 173.06 L613.63 173.55 L613.73 174.04 L613.82 174.53 L613.92 175.02 L614.01 175.50 L614.10 175.98 L614.20 176.46 L614.29 176.94 L614.38 177.41 L614.48 177.88 L614.57 178.36 L614.66 178.82 L614.76 179.29 L614.85 179.76 L614.94 180.22 L615.04 180.68 L615.13 181.14 L615.22 181.59 L615.32 182.04 L615.41 182.50 L615.51 182.95 L615.60 183.39 L615.69 183.84 L615.79 184.28 L615.88 184.72 L615.97 185.16 L616.07 185.59 L616.16 186.03 L616.25 186.46 L616.35 186.89 L616.44 187.31 L616.53 187.74 L616.63 188.16 L616.72 188.58 L616.81 189.00 L616.91 189.41 L617.00 189.83 L617.10 190.24 L617.19 190.65 L617.28 191.05 L617.38 191.46 L617.47 191.86 L617.56 192.26 L617.66 192.65 L617.75 193.05 L617.84 193.44 L617.94 193.83 L618.03 194.22 L618.12 194.60 L618.22 194.98 L618.31 195.36 L618.40 195.74 L618.50 196.12 L618.59 196.49 L618.69 196.86 L618.78 197.23 L618.87 197.60 L618.97 197.96 L619.06 198.32 L619.15 198.68 L619.25 199.04 L619.34 199.39 L619.43 199.75 L619.53 200.09 L619.62 200.44 L619.71 200.79 L619.81 201.13 L619.90 201.47 L619.99 201.81 L620.09 202.14 L620.18 202.48 L620.27 202.81 L620.37 203.14 L620.46 203.46 L620.56 203.79 L620.65 204.11 L620.74 204.43 L620.84 204.74 L620.93 205.06 L621.02 205.37 L621.12 205.68 L621.21 205.99 L621.30 206.29 L621.40 206.59 L621.49 206.89 L621.58 207.19 L621.68 207.49 L621.77 207.78 L621.86 208.07 L621.96 208.36 L622.05 208.65 L622.15 208.93 L622.24 209.21 L622.33 209.49 L622.43 209.77 L622.52 210.04 L622.61 210.32 L622.71 210.59 L622.80 210.85 L622.89 211.12 L622.99 211.38 L623.08 211.64 L623.17 211.90 L623.27 212.16 L623.36 212.41 L623.45 212.67 L623.55 212.92 L623.64 213.16 L623.74 213.41 L623.83 213.65 L623.92 213.89 L624.02 214.13 L624.11 214.37 L624.20 214.60 L624.30 214.84 L624.39 215.07 L624.48 215.29 L624.58 215.52 L624.67 215.74 L624.76 215.96 L624.86 216.18 L624.95 216.40 L625.04 216.62 L625.14 216.83 L625.23 217.04 L625.33 217.25 L625.42 217.45 L625.51 217.66 L625.61 217.86 L625.70 218.06 L625.79 218.26 L625.89 218.46 L625.98 218.65 L626.07 218.84 L626.17 219.03 L626.26 219.22 L626.35 219.41 L626.45 219.59 L626.54 219.77 L626.63 219.95 L626.73 220.13 L626.82 220.31 L626.92 220.48 L627.01 220.65 L627.10 220.82 L627.20 220.99 L627.29 221.16 L627.38 221.32 L627.48 221.48 L627.57 221.64 L627.66 221.80 L627.76 221.96 L627.85 222.11 L627.94 222.27 L628.04 222.42 L628.13 222.57 L628.22 222.72 L628.32 222.86 L628.41 223.01 L628.51 223.15 L628.60 223.29 L628.69 223.43 L628.79 223.56 L628.88 223.70 L628.97 223.83 L629.07 223.97 L629.16 224.10 L629.25 224.22 L629.35 224.35 L629.44 224.48 L629.53 224.60 L629.63 224.72 L629.72 224.84 L629.81 224.96 L629.91 225.08 L630.00 225.19 L630.09 225.30 L630.19 225.42 L630.28 225.53 L630.38 225.64 L630.47 225.74 L630.56 225.85 L630.66 225.95 L630.75 226.06 L630.84 226.16 L630.94 226.26 L631.03 226.36 L631.12 226.45 L631.22 226.55 L631.31 226.64 L631.40 226.73 L631.50 226.83 L631.59 226.92 L631.68 227.00 L631.78 227.09 L631.87 227.18 L631.97 227.26 L632.06 227.34 L632.15 227.42 L632.25 227.50 L632.34 227.58 L632.43 227.66 L632.53 227.74 L632.62 227.81 L632.71 227.89 L632.81 227.96 L632.90 228.03 L632.99 228.10 L633.09 228.17 L633.18 228.24 L633.27 228.30 L633.37 228.37 L633.46 228.43 L633.56 228.50 L633.65 228.56 L633.74 228.62 L633.84 228.68 L633.93 228.74 L634.02 228.79 L634.12 228.85 L634.21 228.91 L634.30 228.96 L634.40 229.01 L634.49 229.06 L634.58 229.12 L634.68 229.17 L634.77 229.22 L634.86 229.26 L634.96 229.31 L635.05 229.36 L635.15 229.40 L635.24 229.45 L635.33 229.49 L635.43 229.53 L635.52 229.57 L635.61 229.62 L635.71 229.66 L635.80 229.69 L635.89 229.73 L635.99 229.77 L636.08 229.81 L636.17 229.84 L636.27 229.88 L636.36 229.91 L636.45 229.94 L636.55 229.98 L636.64 230.01 L636.74 230.04 L636.83 230.07 L636.92 230.10 L637.02 230.13 L637.11 230.16 L637.20 230.18 L637.30 230.21 L637.39 230.24 L637.48 230.26 L637.58 230.29 L637.67 230.31 L637.76 230.34 L637.86 230.36 L637.95 230.38 L638.04 230.40 L638.14 230.42 L638.23 230.44 L638.32 230.46 L638.42 230.48 L638.51 230.50 L638.61 230.52 L638.70 230.54 L638.79 230.56 L638.89 230.57 L638.98 230.59 L639.07 230.61 L639.17 230.62 L639.26 230.64 L639.35 230.65 L639.45 230.66 L639.54 230.68 L639.63 230.69 L639.73 230.70 L639.82 230.72 L639.91 230.73 L640.01 230.74 L640.10 230.75 L640.20 230.76 L640.29 230.77 L640.38 230.78 L640.48 230.79 L640.57 230.80 L640.66 230.81 L640.76 230.82 L640.85 230.83 L640.94 230.83 L641.04 230.84 L641.13 230.85 L641.22 230.86 L641.32 230.86 L641.41 230.87 L641.50 230.88 L641.60 230.88 L641.69 230.89 L641.79 230.90 L641.88 230.90 L641.97 230.91 L642.07 230.91 L642.16 230.92 L642.25 230.92 L642.35 230.92 L642.44 230.93 L642.53 230.93 L642.63 230.94 L642.72 230.94 L642.81 230.94 L642.91 230.95 L643.00 230.95 L643.09 230.95 L643.19 230.96 L643.28 230.96 L643.38 230.96 L643.47 230.96 L643.56 230.96 L643.66 230.97 L643.75 230.97 L643.84 230.97 L643.94 230.97 L644.03 230.97 L644.12 230.98 L644.22 230.98 L644.31 230.98 L644.40 230.98 L644.50 230.98 L644.59 230.98 L644.68 230.98 L644.78 230.98 L644.87 230.99 L644.97 230.99 L645.06 230.99 L645.15 230.99 L645.25 230.99 L645.34 230.99 L645.43 230.99 L645.53 230.99 L645.62 230.99 L645.71 230.99 L645.81 230.99 L645.90 230.99 L645.99 230.99 L646.09 230.99 L646.18 230.99 L646.27 230.99 L646.37 230.99 L646.46 230.99 L646.56 230.99 L646.65 231.00 L646.74 231.00 L646.84 231.00 L646.93 231.00 L647.02 231.00 L647.12 231.00 L647.21 231.00 L647.30 231.00 L647.40 231.00 L647.49 231.00 L647.58 231.00 L647.68 231.00 L647.77 231.00 L647.86 231.00 L647.96 231.00 L648.05 231.00 L648.14 231.00 L648.24 231.00 L648.33 230.99 L648.43 230.99 L648.52 230.99 L648.61 230.99 L648.71 230.99 L648.80 230.99 L648.89 230.99 L648.99 230.99 L649.08 230.99 L649.17 230.99 L649.27 230.99 L649.36 230.99 L649.45 230.99 L649.55 230.99 L649.64 230.99 L649.73 230.99 L649.83 230.99 L649.92 230.99 L650.02 230.99 L650.11 230.98 L650.20 230.98 L650.30 230.98 L650.39 230.98 L650.48 230.98 L650.58 230.98 L650.67 230.98 L650.76 230.98 L650.86 230.97 L650.95 230.97 L651.04 230.97 L651.14 230.97 L651.23 230.97 L651.32 230.96 L651.42 230.96 L651.51 230.96 L651.61 230.96 L651.70 230.95 L651.79 230.95 L651.89 230.95 L651.98 230.95 L652.07 230.94 L652.17 230.94 L652.26 230.94 L652.35 230.93 L652.45 230.93 L652.54 230.92 L652.63 230.92 L652.73 230.91 L652.82 230.91 L652.91 230.90 L653.01 230.90 L653.10 230.89 L653.20 230.89 L653.29 230.88 L653.38 230.88 L653.48 230.87 L653.57 230.86 L653.66 230.86 L653.76 230.85 L653.85 230.84 L653.94 230.83 L654.04 230.82 L654.13 230.82 L654.22 230.81 L654.32 230.80 L654.41 230.79 L654.50 230.78 L654.60 230.77 L654.69 230.76 L654.79 230.75 L654.88 230.74 L654.97 230.72 L655.07 230.71 L655.16 230.70 L655.25 230.69 L655.35 230.67 L655.44 230.66 L655.53 230.65 L655.63 230.63 L655.72 230.62 L655.81 230.60 L655.91 230.59 L656.00 230.57 L656.09 230.55 L656.19 230.53 L656.28 230.52 L656.37 230.50 L656.47 230.48 L656.56 230.46 L656.66 230.44 L656.75 230.42 L656.84 230.40 L656.94 230.38 L657.03 230.35 L657.12 230.33 L657.22 230.31 L657.31 230.28 L657.40 230.26 L657.50 230.23 L657.59 230.21 L657.68 230.18 L657.78 230.15 L657.87 230.12 L657.96 230.09 L658.06 230.06 L658.15 230.03 L658.25 230.00 L658.34 229.97 L658.43 229.94 L658.53 229.90 L658.62 229.87 L658.71 229.83 L658.81 229.80 L658.90 229.76 L658.99 229.72 L659.09 229.69 L659.18 229.65 L659.27 229.61 L659.37 229.57 L659.46 229.52 L659.55 229.48 L659.65 229.44 L659.74 229.39 L659.84 229.35 L659.93 229.30 L660.02 229.25 L660.12 229.21 L660.21 229.16 L660.30 229.11 L660.40 229.06 L660.49 229.00 L660.58 228.95 L660.68 228.90 L660.77 228.84 L660.86 228.78 L660.96 228.73 L661.05 228.67 L661.14 228.61 L661.24 228.55 L661.33 228.48 L661.43 228.42 L661.52 228.36 L661.61 228.29 L661.71 228.23 L661.80 228.16 L661.89 228.09 L661.99 228.02 L662.08 227.95 L662.17 227.87 L662.27 227.80 L662.36 227.73 L662.45 227.65 L662.55 227.57 L662.64 227.49 L662.73 227.41 L662.83 227.33 L662.92 227.25 L663.02 227.16 L663.11 227.08 L663.20 226.99 L663.30 226.90 L663.39 226.81 L663.48 226.72 L663.58 226.63 L663.67 226.54 L663.76 226.44 L663.86 226.34 L663.95 226.24 L664.04 226.14 L664.14 226.04 L664.23 225.94 L664.32 225.84 L664.42 225.73 L664.51 225.62 L664.61 225.51 L664.70 225.40 L664.79 225.29 L664.89 225.18 L664.98 225.06 L665.07 224.95 L665.17 224.83 L665.26 224.71 L665.35 224.59 L665.45 224.46 L665.54 224.34 L665.63 224.21 L665.73 224.08 L665.82 223.95 L665.91 223.82 L666.01 223.69 L666.10 223.55 L666.19 223.42 L666.29 223.28 L666.38 223.14 L666.48 222.99 L666.57 222.85 L666.66 222.71 L666.76 222.56 L666.85 222.41 L666.94 222.26 L667.04 222.10 L667.13 221.95 L667.22 221.79 L667.32 221.63 L667.41 221.47 L667.50 221.31 L667.60 221.15 L667.69 220.98 L667.78 220.81 L667.88 220.64 L667.97 220.47 L668.07 220.30 L668.16 220.12 L668.25 219.94 L668.35 219.76 L668.44 219.58 L668.53 219.40 L668.63 219.21 L668.72 219.03 L668.81 218.84 L668.91 218.64 L669.00 218.45 L669.09 218.26 L669.19 218.06 L669.28 217.86 L669.37 217.66 L669.47 217.45 L669.56 217.25 L669.66 217.04 L669.75 216.83 L669.84 216.61 L669.94 216.40 L670.03 216.18 L670.12 215.97 L670.22 215.74 L670.31 215.52 L670.40 215.30 L670.50 215.07 L670.59 214.84 L670.68 214.61 L670.78 214.37 L670.87 214.14 L670.96 213.90 L671.06 213.66 L671.15 213.42 L671.25 213.17 L671.34 212.93 L671.43 212.68 L671.53 212.42 L671.62 212.17 L671.71 211.92 L671.81 211.66 L671.90 211.40 L671.99 211.13 L672.09 210.87 L672.18 210.60 L672.27 210.33 L672.37 210.06 L672.46 209.79 L672.55 209.51 L672.65 209.23 L672.74 208.95 L672.84 208.67 L672.93 208.38 L673.02 208.10 L673.12 207.81 L673.21 207.51 L673.30 207.22 L673.40 206.92 L673.49 206.62 L673.58 206.32 L673.68 206.02 L673.77 205.71 L673.86 205.40 L673.96 205.09 L674.05 204.78 L674.14 204.46 L674.24 204.15 L674.33 203.83 L674.42 203.50 L674.52 203.18 L674.61 202.85 L674.71 202.52 L674.80 202.19 L674.89 201.86 L674.99 201.52 L675.08 201.18 L675.17 200.84 L675.27 200.50 L675.36 200.15 L675.45 199.80 L675.55 199.45 L675.64 199.10 L675.73 198.74 L675.83 198.39 L675.92 198.03 L676.01 197.66 L676.11 197.30 L676.20 196.93 L676.30 196.56 L676.39 196.19 L676.48 195.82 L676.58 195.44 L676.67 195.06 L676.76 194.68 L676.86 194.30 L676.95 193.91 L677.04 193.53 L677.14 193.14 L677.23 192.74 L677.32 192.35 L677.42 191.95 L677.51 191.55 L677.60 191.15 L677.70 190.75 L677.79 190.34 L677.89 189.93 L677.98 189.52 L678.07 189.11 L678.17 188.69 L678.26 188.27 L678.35 187.85 L678.45 187.43 L678.54 187.01 L678.63 186.58 L678.73 186.15 L678.82 185.72 L678.91 185.29 L679.01 184.85 L679.10 184.41 L679.19 183.97 L679.29 183.53 L679.38 183.09 L679.48 182.64 L679.57 182.19 L679.66 181.74 L679.76 181.29 L679.85 180.83 L679.94 180.38 L680.04 179.92 L680.13 179.45 L680.22 178.99 L680.32 178.52 L680.41 178.06 L680.50 177.59 L680.60 177.11 L680.69 176.64 L680.78 176.16 L680.88 175.68 L680.97 175.20 L681.07 174.72 L681.16 174.24 L681.25 173.75 L681.35 173.26 L681.44 172.77 L681.53 172.28 L681.63 171.78 L681.72 171.29 L681.81 170.79 L681.91 170.29 L682.00 169.79 L682.09 169.28 L682.19 168.78 L682.28 168.27 L682.37 167.76 L682.47 167.25 L682.56 166.73 L682.66 166.22 L682.75 165.70 L682.84 165.18 L682.94 164.66 L683.03 164.13 L683.12 163.61 L683.22 163.08 L683.31 162.56 L683.40 162.03 L683.50 161.49 L683.59 160.96 L683.68 160.43 L683.78 159.89 L683.87 159.35 L683.96 158.81 L684.06 158.27 L684.15 157.72 L684.24 157.18 L684.34 156.63 L684.43 156.08 L684.53 155.53 L684.62 154.98 L684.71 154.43 L684.81 153.88 L684.90 153.32 L684.99 152.76 L685.09 152.20 L685.18 151.64 L685.27 151.08 L685.37 150.52 L685.46 149.95 L685.55 149.39 L685.65 148.82 L685.74 148.25 L685.83 147.68 L685.93 147.11 L686.02 146.54 L686.12 145.96 L686.21 145.39 L686.30 144.81 L686.40 144.23 L686.49 143.65 L686.58 143.07 L686.68 142.49 L686.77 141.91 L686.86 141.32 L686.96 140.74 L687.05 140.15 L687.14 139.57 L687.24 138.98 L687.33 138.39 L687.42 137.80 L687.52 137.21 L687.61 136.62 L687.71 136.02 L687.80 135.43 L687.89 134.83 L687.99 134.24 L688.08 133.64 L688.17 133.04 L688.27 132.45 L688.36 131.85 L688.45 131.25 L688.55 130.65 L688.64 130.04 L688.73 129.44 L688.83 128.84 L688.92 128.23 L689.01 127.63 L689.11 127.03 L689.20 126.42 L689.30 125.81 L689.39 125.21 L689.48 124.60 L689.58 123.99 L689.67 123.38 L689.76 122.77 L689.86 122.16 L689.95 121.55 L690.04 120.94 L690.14 120.33 L690.23 119.72 L690.32 119.11 L690.42 118.50 L690.51 117.89 L690.60 117.27 L690.70 116.66 L690.79 116.05 L690.89 115.43 L690.98 114.82 L691.07 114.21 L691.17 113.59 L691.26 112.98 L691.35 112.37 L691.45 111.75 L691.54 111.14 L691.63 110.52 L691.73 109.91 L691.82 109.29 L691.91 108.68 L692.01 108.07 L692.10 107.45 L692.19 106.84 L692.29 106.22 L692.38 105.61 L692.47 105.00 L692.57 104.38 L692.66 103.77 L692.76 103.16 L692.85 102.55 L692.94 101.93 L693.04 101.32 L693.13 100.71 L693.22 100.10 L693.32 99.49 L693.41 98.88 L693.50 98.27 L693.60 97.66 L693.69 97.05 L693.78 96.44 L693.88 95.83 L693.97 95.23 L694.06 94.62 L694.16 94.01 L694.25 93.41 L694.35 92.80 L694.44 92.20 L694.53 91.60 L694.63 90.99 L694.72 90.39 L694.81 89.79 L694.91 89.19 L695.00 88.59 L695.09 87.99 L695.19 87.40 L695.28 86.80 L695.37 86.20 L695.47 85.61 L695.56 85.02 L695.65 84.42 L695.75 83.83 L695.84 83.24 L695.94 82.65 L696.03 82.06 L696.12 81.48 L696.22 80.89 L696.31 80.31 L696.40 79.72 L696.50 79.14 L696.59 78.56 L696.68 77.98 L696.78 77.40 L696.87 76.82 L696.96 76.25 L697.06 75.67 L697.15 75.10 L697.24 74.53 L697.34 73.96 L697.43 73.39 L697.53 72.82 L697.62 72.26 L697.71 71.70 L697.81 71.13 L697.90 70.57 L697.99 70.01 L698.09 69.46 L698.18 68.90 L698.27 68.35 L698.37 67.80 L698.46 67.25 L698.55 66.70 L698.65 66.15 L698.74 65.61 L698.83 65.06 L698.93 64.52 L699.02 63.98 L699.12 63.45 L699.21 62.91 L699.30 62.38 L699.40 61.85 L699.49 61.32 L699.58 60.79 L699.68 60.27 L699.77 59.74 L699.86 59.22 L699.96 58.70 L700.05 58.19 L700.14 57.67 L700.24 57.16 L700.33 56.65 L700.42 56.14 L700.52 55.64 L700.61 55.14 L700.71 54.64 L700.80 54.14 L700.89 53.64 L700.99 53.15 L701.08 52.66 L701.17 52.17 L701.27 51.68 L701.36 51.20 L701.45 50.72 L701.55 50.24 L701.64 49.76 L701.73 49.29 L701.83 48.82 L701.92 48.35 L702.01 47.89 L702.11 47.43 L702.20 46.97 L702.29 46.51 L702.39 46.05 L702.48 45.60 L702.58 45.15 L702.67 44.71 L702.76 44.26 L702.86 43.82 L702.95 43.39 L703.04 42.95 L703.14 42.52 L703.23 42.09 L703.32 41.66 L703.42 41.24 L703.51 40.82 L703.60 40.40 L703.70 39.99 L703.79 39.58 L703.88 39.17 L703.98 38.77 L704.07 38.36 L704.17 37.97 L704.26 37.57 L704.35 37.18 L704.45 36.79 L704.54 36.40 L704.63 36.02 L704.73 35.64 L704.82 35.26 L704.91 34.89 L705.01 34.52 L705.10 34.16 L705.19 33.79 L705.29 33.43 L705.38 33.08 L705.47 32.72 L705.57 32.37 L705.66 32.03 L705.76 31.68 L705.85 31.35 L705.94 31.01 L706.04 30.68 L706.13 30.35 L706.22 30.02 L706.32 29.70 L706.41 29.38 L706.50 29.07 L706.60 28.76 L706.69 28.45 L706.78 28.14 L706.88 27.84 L706.97 27.55 L707.06 27.25 L707.16 26.96 L707.25 26.68 L707.35 26.39 L707.44 26.12 L707.53 25.84 L707.63 25.57 L707.72 25.30 L707.81 25.04 L707.91 24.78 L708.00 24.52 L708.09 24.27 L708.19 24.02 L708.28 23.78 L708.37 23.53 L708.47 23.30 L708.56 23.06 L708.65 22.83 L708.75 22.61 L708.84 22.39 L708.94 22.17 L709.03 21.95 L709.12 21.74 L709.22 21.54 L709.31 21.33 L709.40 21.14 L709.50 20.94 L709.59 20.75 L709.68 20.56 L709.78 20.38 L709.87 20.20 L709.96 20.03 L710.06 19.86 L710.15 19.69 L710.24 19.53 L710.34 19.37 L710.43 19.21 L710.53 19.06 L710.62 18.92 L710.71 18.77 L710.81 18.64 L710.90 18.50 L710.99 18.37 L711.09 18.24 L711.18 18.12 L711.27 18.00 L711.37 17.89 L711.46 17.78 L711.55 17.67 L711.65 17.57 L711.74 17.47 L711.83 17.38 L711.93 17.29 L712.02 17.21 L712.11 17.13 L712.21 17.05 L712.30 16.98 L712.40 16.91 L712.49 16.84 L712.58 16.78 L712.68 16.72 L712.77 16.67 L712.86 16.62 L712.96 16.58 L713.05 16.54 L713.14 16.51 L713.24 16.47 L713.33 16.45 L713.42 16.42 L713.52 16.40 L713.61 16.39 L713.70 16.38 L713.80 16.37 L713.89 16.37 L713.99 16.37 L714.08 16.38 L714.17 16.39 L714.27 16.40 L714.36 16.42 L714.45 16.44 L714.55 16.47 L714.64 16.50 L714.73 16.54 L714.83 16.58 L714.92 16.62 L715.01 16.67 L715.11 16.72 L715.20 16.78 L715.29 16.84 L715.39 16.90 L715.48 16.97 L715.58 17.04 L715.67 17.12 L715.76 17.20 L715.86 17.28 L715.95 17.37 L716.04 17.46 L716.14 17.56 L716.23 17.66 L716.32 17.77 L716.42 17.88 L716.51 17.99 L716.60 18.11 L716.70 18.23 L716.79 18.36 L716.88 18.49 L716.98 18.62 L717.07 18.76 L717.17 18.90 L717.26 19.05 L717.35 19.20 L717.45 19.35 L717.54 19.51 L717.63 19.67 L717.73 19.84 L717.82 20.01 L717.91 20.18 L718.01 20.36 L718.10 20.54 L718.19 20.73 L718.29 20.92 L718.38 21.11 L718.47 21.31 L718.57 21.51 L718.66 21.72 L718.76 21.93 L718.85 22.14 L718.94 22.36 L719.04 22.58 L719.13 22.81 L719.22 23.04 L719.32 23.27 L719.41 23.51 L719.50 23.75 L719.60 23.99 L719.69 24.24 L719.78 24.49 L719.88 24.75 L719.97 25.01 L720.06 25.27 L720.16 25.54 L720.25 25.81 L720.34 26.08 L720.44 26.36 L720.53 26.64 L720.63 26.93 L720.72 27.22 L720.81 27.51 L720.91 27.80 L721.00 28.10 L721.09 28.41 L721.19 28.71 L721.28 29.03 L721.37 29.34 L721.47 29.66 L721.56 29.98 L721.65 30.30 L721.75 30.63 L721.84 30.96 L721.93 31.30 L722.03 31.64 L722.12 31.98 L722.22 32.33 L722.31 32.67 L722.40 33.03 L722.50 33.38 L722.59 33.74 L722.68 34.10 L722.78 34.47 L722.87 34.84 L722.96 35.21 L723.06 35.59 L723.15 35.96 L723.24 36.35 L723.34 36.73 L723.43 37.12 L723.52 37.51 L723.62 37.91 L723.71 38.30 L723.81 38.70 L723.90 39.11 L723.99 39.52 L724.09 39.93 L724.18 40.34 L724.27 40.75 L724.37 41.17 L724.46 41.60 L724.55 42.02 L724.65 42.45 L724.74 42.88 L724.83 43.31 L724.93 43.75 L725.02 44.19 L725.11 44.63 L725.21 45.08 L725.30 45.53 L725.40 45.98 L725.49 46.43 L725.58 46.89 L725.68 47.35 L725.77 47.81 L725.86 48.27 L725.96 48.74 L726.05 49.21 L726.14 49.68 L726.24 50.15 L726.33 50.63 L726.42 51.11 L726.52 51.59 L726.61 52.08 L726.70 52.57 L726.80 53.06 L726.89 53.55 L726.99 54.04 L727.08 54.54 L727.17 55.04 L727.27 55.54 L727.36 56.05 L727.45 56.55 L727.55 57.06 L727.64 57.57 L727.73 58.08 L727.83 58.60 L727.92 59.12 L728.01 59.64 L728.11 60.16 L728.20 60.68 L728.29 61.21 L728.39 61.74 L728.48 62.27 L728.58 62.80 L728.67 63.33 L728.76 63.87 L728.86 64.41 L728.95 64.95 L729.04 65.49 L729.14 66.03 L729.23 66.58 L729.32 67.12 L729.42 67.67 L729.51 68.22 L729.60 68.78 L729.70 69.33 L729.79 69.89 L729.88 70.44 L729.98 71.00 L730.07 71.56 L730.16 72.13 L730.26 72.69 L730.35 73.26 L730.45 73.82 L730.54 74.39 L730.63 74.96 L730.73 75.53 L730.82 76.11 L730.91 76.68 L731.01 77.26 L731.10 77.83 L731.19 78.41 L731.29 78.99 L731.38 79.57 L731.47 80.15 L731.57 80.74 L731.66 81.32 L731.75 81.91 L731.85 82.49 L731.94 83.08 L732.04 83.67 L732.13 84.26 L732.22 84.85 L732.32 85.45 L732.41 86.04 L732.50 86.63 L732.60 87.23 L732.69 87.82 L732.78 88.42 L732.88 89.02 L732.97 89.62 L733.06 90.22 L733.16 90.82 L733.25 91.42 L733.34 92.02 L733.44 92.62 L733.53 93.23 L733.63 93.83 L733.72 94.44 L733.81 95.04 L733.91 95.65 L734.00 96.25 L734.09 96.86 L734.19 97.47 L734.28 98.08 L734.37 98.68 L734.47 99.29 L734.56 99.90 L734.65 100.51 L734.75 101.12 L734.84 101.73 L734.93 102.34 L735.03 102.95 L735.12 103.57 L735.22 104.18 L735.31 104.79 L735.40 105.40 L735.50 106.01 L735.59 106.63 L735.68 107.24 L735.78 107.85 L735.87 108.46 L735.96 109.08 L736.06 109.69 L736.15 110.30 L736.24 110.91 L736.34 111.53 L736.43 112.14 L736.52 112.75 L736.62 113.36 L736.71 113.98 L736.81 114.59 L736.90 115.20 L736.99 115.81 L737.09 116.42 L737.18 117.04 L737.27 117.65 L737.37 118.26 L737.46 118.87 L737.55 119.48 L737.65 120.09 L737.74 120.70 L737.83 121.31 L737.93 121.92 L738.02 122.52 L738.11 123.13 L738.21 123.74 L738.30 124.34 L738.39 124.95 L738.49 125.56 L738.58 126.16 L738.68 126.77 L738.77 127.37 L738.86 127.97 L738.96 128.57 L739.05 129.18 L739.14 129.78 L739.24 130.38 L739.33 130.98 L739.42 131.58 L739.52 132.17 L739.61 132.77 L739.70 133.37 L739.80 133.96 L739.89 134.56 L739.98 135.15 L740.08 135.74 L740.17 136.34 L740.27 136.93 L740.36 137.52 L740.45 138.11 L740.55 138.69 L740.64 139.28 L740.73 139.87 L740.83 140.45 L740.92 141.03 L741.01 141.62 L741.11 142.20 L741.20 142.78 L741.29 143.36 L741.39 143.93 L741.48 144.51 L741.57 145.09 L741.67 145.66 L741.76 146.23 L741.86 146.81 L741.95 147.38 L742.04 147.94 L742.14 148.51 L742.23 149.08 L742.32 149.64 L742.42 150.21 L742.51 150.77 L742.60 151.33 L742.70 151.89 L742.79 152.45 L742.88 153.00 L742.98 153.56 L743.07 154.11 L743.16 154.66 L743.26 155.21 L743.35 155.76 L743.45 156.31 L743.54 156.86 L743.63 157.40 L743.73 157.94 L743.82 158.48 L743.91 159.02 L744.01 159.56 L744.10 160.10 L744.19 160.63 L744.29 161.16 L744.38 161.69 L744.47 162.22 L744.57 162.75 L744.66 163.28 L744.75 163.80 L744.85 164.32 L744.94 164.84 L745.04 165.36 L745.13 165.88 L745.22 166.39 L745.32 166.90 L745.41 167.42 L745.50 167.93 L745.60 168.43 L745.69 168.94 L745.78 169.44 L745.88 169.94 L745.97 170.44 L746.06 170.94 L746.16 171.44 L746.25 171.93 L746.34 172.42 L746.44 172.91 L746.53 173.40 L746.63 173.89 L746.72 174.37 L746.81 174.85 L746.91 175.33 L747.00 175.81 L747.09 176.29 L747.19 176.76 L747.28 177.23 L747.37 177.70 L747.47 178.17 L747.56 178.63 L747.65 179.10 L747.75 179.56 L747.84 180.02 L747.93 180.47 L748.03 180.93 L748.12 181.38 L748.21 181.83 L748.31 182.28 L748.40 182.73 L748.50 183.17 L748.59 183.61 L748.68 184.05 L748.78 184.49 L748.87 184.93 L748.96 185.36 L749.06 185.79 L749.15 186.22 L749.24 186.64 L749.34 187.07 L749.43 187.49 L749.52 187.91 L749.62 188.33 L749.71 188.74 L749.80 189.16 L749.90 189.57 L749.99 189.98 L750.09 190.38 L750.18 190.79 L750.27 191.19 L750.37 191.59 L750.46 191.98 L750.55 192.38 L750.65 192.77 L750.74 193.16 L750.83 193.55 L750.93 193.93 L751.02 194.32 L751.11 194.70 L751.21 195.08 L751.30 195.45 L751.39 195.83 L751.49 196.20 L751.58 196.57 L751.68 196.94 L751.77 197.30 L751.86 197.66 L751.96 198.02 L752.05 198.38 L752.14 198.74 L752.24 199.09 L752.33 199.44 L752.42 199.79 L752.52 200.13 L752.61 200.48 L752.70 200.82 L752.80 201.16 L752.89 201.50 L752.98 201.83 L753.08 202.16 L753.17 202.49 L753.27 202.82 L753.36 203.14 L753.45 203.47 L753.55 203.79 L753.64 204.11 L753.73 204.42 L753.83 204.74 L753.92 205.05 L754.01 205.36 L754.11 205.66 L754.20 205.97 L754.29 206.27 L754.39 206.57 L754.48 206.87 L754.57 207.16 L754.67 207.46 L754.76 207.75 L754.86 208.03 L754.95 208.32 L755.04 208.60 L755.14 208.89 L755.23 209.16 L755.32 209.44 L755.42 209.72 L755.51 209.99 L755.60 210.26 L755.70 210.53 L755.79 210.79 L755.88 211.06 L755.98 211.32 L756.07 211.58 L756.16 211.83 L756.26 212.09 L756.35 212.34 L756.44 212.59 L756.54 212.84 L756.63 213.08 L756.73 213.33 L756.82 213.57 L756.91 213.81 L757.01 214.04 L757.10 214.28 L757.19 214.51 L757.29 214.74 L757.38 214.97 L757.47 215.20 L757.57 215.42 L757.66 215.64 L757.75 215.86 L757.85 216.08 L757.94 216.30 L758.03 216.51 L758.13 216.72 L758.22 216.93 L758.32 217.14 L758.41 217.34 L758.50 217.55 L758.60 217.75 L758.69 217.95 L758.78 218.14 L758.88 218.34 L758.97 218.53 L759.06 218.72 L759.16 218.91 L759.25 219.10 L759.34 219.28 L759.44 219.46 L759.53 219.65 L759.62 219.82 L759.72 220.00 L759.81 220.18 L759.91 220.35 L760.00 220.52 L760.09 220.69 L760.19 220.86 L760.28 221.02 L760.37 221.19 L760.47 221.35 L760.56 221.51 L760.65 221.67 L760.75 221.82 L760.84 221.98 L760.93 222.13 L761.03 222.28 L761.12 222.43 L761.21 222.58 L761.31 222.72 L761.40 222.87 L761.50 223.01 L761.59 223.15 L761.68 223.29 L761.78 223.42 L761.87 223.56 L761.96 223.69 L762.06 223.82 L762.15 223.95 L762.24 224.08 L762.34 224.21 L762.43 224.33 L762.52 224.46 L762.62 224.58 L762.71 224.70 L762.80 224.82 L762.90 224.93 L762.99 225.05 L763.09 225.16 L763.18 225.28 L763.27 225.39 L763.37 225.50 L763.46 225.60 L763.55 225.71 L763.65 225.81 L763.74 225.92 L763.83 226.02 L763.93 226.12 L764.02 226.22 L764.11 226.31 L764.21 226.41 L764.30 226.50 L764.39 226.60 L764.49 226.69 L764.58 226.78 L764.68 226.87 L764.77 226.95 L764.86 227.04 L764.96 227.12 L765.05 227.21 L765.14 227.29 L765.24 227.37 L765.33 227.45 L765.42 227.53 L765.52 227.61 L765.61 227.68 L765.70 227.76 L765.80 227.83 L765.89 227.90 L765.98 227.97 L766.08 228.04 L766.17 228.11 L766.26 228.18 L766.36 228.24 L766.45 228.31 L766.55 228.37 L766.64 228.43 L766.73 228.49 L766.83 228.56 L766.92 228.61 L767.01 228.67 L767.11 228.73 L767.20 228.79 L767.29 228.84 L767.39 228.90 L767.48 228.95 L767.57 229.00 L767.67 229.05 L767.76 229.10 L767.85 229.15 L767.95 229.20 L768.04 229.25 L768.14 229.29 L768.23 229.34 L768.32 229.38 L768.42 229.42 L768.51 229.47 L768.60 229.51 L768.70 229.55 L768.79 229.59 L768.88 229.63 L768.98 229.67 L769.07 229.71 L769.16 229.74 L769.26 229.78 L769.35 229.81 L769.44 229.85 L769.54 229.88 L769.63 229.91 L769.73 229.95 L769.82 229.98 L769.91 230.01 L770.01 230.04 L770.10 230.07 L770.19 230.10 L770.29 230.12 L770.38 230.15 L770.47 230.18 L770.57 230.20 L770.66 230.23 L770.75 230.25 L770.85 230.28 L770.94 230.30 L771.03 230.32 L771.13 230.35 L771.22 230.37 L771.32 230.39 L771.41 230.41 L771.50 230.43 L771.60 230.45 L771.69 230.47 L771.78 230.48 L771.88 230.50 L771.97 230.52 L772.06 230.54 L772.16 230.55 L772.25 230.57 L772.34 230.59 L772.44 230.60 L772.53 230.61 L772.62 230.63 L772.72 230.64 L772.81 230.66 L772.91 230.67 L773.00 230.68 L773.09 230.69 L773.19 230.71 L773.28 230.72 L773.37 230.73 L773.47 230.74 L773.56 230.75 L773.65 230.76 L773.75 230.77 L773.84 230.78 L773.93 230.79 L774.03 230.80 L774.12 230.80 L774.21 230.81 L774.31 230.82 L774.40 230.83 L774.49 230.83 L774.59 230.84 L774.68 230.85 L774.78 230.85 L774.87 230.86 L774.96 230.87 L775.06 230.87 L775.15 230.88 L775.24 230.88 L775.34 230.89 L775.43 230.89 L775.52 230.90 L775.62 230.90 L775.71 230.91 L775.80 230.91 L775.90 230.92 L775.99 230.92 L776.08 230.92 L776.18 230.93 L776.27 230.93 L776.37 230.93 L776.46 230.94 L776.55 230.94 L776.65 230.94 L776.74 230.94 L776.83 230.95 L776.93 230.95 L777.02 230.95 L777.11 230.95 L777.21 230.96 L777.30 230.96 L777.39 230.96 L777.49 230.96 L777.58 230.96 L777.67 230.96 L777.77 230.97 L777.86 230.97 L777.96 230.97 L778.05 230.97 L778.14 230.97 L778.24 230.97 L778.33 230.97 L778.42 230.97 L778.52 230.98 L778.61 230.98 L778.70 230.98 L778.80 230.98 L778.89 230.98 L778.98 230.98 L779.08 230.98 L779.17 230.98 L779.26 230.98 L779.36 230.98 L779.45 230.98 L779.55 230.98 L779.64 230.98 L779.73 230.98 L779.83 230.98 L779.92 230.98 L780.01 230.98 L780.11 230.98 L780.20 230.98 L780.29 230.98 L780.39 230.98 L780.48 230.98 L780.57 230.98 L780.67 230.98 L780.76 230.98 L780.85 230.98 L780.95 230.98 L781.04 230.98 L781.14 230.98 L781.23 230.98 L781.32 230.98 L781.42 230.98 L781.51 230.98 L781.60 230.98 L781.70 230.98 L781.79 230.98 L781.88 230.98 L781.98 230.98 L782.07 230.98 L782.16 230.98 L782.26 230.97 L782.35 230.97 L782.44 230.97 L782.54 230.97 L782.63 230.97 L782.73 230.97 L782.82 230.97 L782.91 230.97 L783.01 230.97 L783.10 230.96 L783.19 230.96 L783.29 230.96 L783.38 230.96 L783.47 230.96 L783.57 230.95 L783.66 230.95 L783.75 230.95 L783.85 230.95 L783.94 230.95 L784.03 230.94 L784.13 230.94 L784.22 230.94 L784.31 230.93 L784.41 230.93 L784.50 230.93 L784.60 230.92 L784.69 230.92 L784.78 230.92 L784.88 230.91 L784.97 230.91 L785.06 230.91 L785.16 230.90 L785.25 230.90 L785.34 230.89 L785.44 230.89 L785.53 230.88 L785.62 230.88 L785.72 230.87 L785.81 230.86 L785.90 230.86 L786.00 230.85 L786.09 230.84 L786.19 230.84 L786.28 230.83 L786.37 230.82 L786.47 230.82 L786.56 230.81 L786.65 230.80 L786.75 230.79 L786.84 230.78 L786.93 230.77 L787.03 230.76 L787.12 230.75 L787.21 230.74 L787.31 230.73 L787.40 230.72 L787.49 230.71 L787.59 230.70 L787.68 230.69 L787.78 230.68 L787.87 230.66 L787.96 230.65 L788.06 230.64 L788.15 230.62 L788.24 230.61 L788.34 230.59 L788.43 230.58 L788.52 230.56 L788.62 230.55 L788.71 230.53 L788.80 230.51 L788.90 230.49 L788.99 230.48 L789.08 230.46 L789.18 230.44 L789.27 230.42 L789.37 230.40 L789.46 230.38 L789.55 230.36 L789.65 230.33 L789.74 230.31 L789.83 230.29 L789.93 230.27 L790.02 230.24 L790.11 230.22 L790.21 230.19 L790.30 230.16 L790.39 230.14 L790.49 230.11 L790.58 230.08 L790.67 230.05 L790.77 230.02 L790.86 229.99 L790.96 229.96 L791.05 229.93 L791.14 229.90 L791.24 229.87 L791.33 229.83 L791.42 229.80 L791.52 229.76 L791.61 229.72 L791.70 229.69 L791.80 229.65 L791.89 229.61 L791.98 229.57 L792.08 229.53 L792.17 229.49 L792.26 229.45 L792.36 229.41 L792.45 229.36 L792.55 229.32 L792.64 229.27 L792.73 229.22 L792.83 229.18 L792.92 229.13 L793.01 229.08 L793.11 229.03 L793.20 228.98 L793.29 228.92 L793.39 228.87 L793.48 228.82 L793.57 228.76 L793.67 228.70 L793.76 228.65 L793.85 228.59 L793.95 228.53 L794.04 228.47 L794.13 228.41 L794.23 228.34 L794.32 228.28 L794.42 228.21 L794.51 228.15 L794.60 228.08 L794.70 228.01 L794.79 227.94 L794.88 227.87 L794.98 227.80 L795.07 227.72 L795.16 227.65 L795.26 227.57 L795.35 227.50 L795.44 227.42 L795.54 227.34 L795.63 227.26 L795.72 227.17 L795.82 227.09 L795.91 227.01 L796.01 226.92 L796.10 226.83 L796.19 226.74 L796.29 226.65 L796.38 226.56 L796.47 226.47 L796.57 226.37 L796.66 226.28 L796.75 226.18 L796.85 226.08 L796.94 225.98 L797.03 225.88 L797.13 225.77 L797.22 225.67 L797.31 225.56 L797.41 225.45 L797.50 225.34 L797.60 225.23 L797.69 225.12 L797.78 225.01 L797.88 224.89 L797.97 224.77 L798.06 224.66 L798.16 224.53 L798.25 224.41 L798.34 224.29 L798.44 224.16 L798.53 224.04 L798.62 223.91 L798.72 223.78 L798.81 223.65 L798.90 223.51 L799.00 223.38 L799.09 223.24 L799.19 223.10 L799.28 222.96 L799.37 222.82 L799.47 222.67 L799.56 222.53 L799.65 222.38 L799.75 222.23 L799.84 222.08 L799.93 221.93 L800.03 221.77 L800.12 221.62 L800.21 221.46 L800.31 221.30 L800.40 221.14 L800.49 220.97 L800.59 220.81 L800.68 220.64 L800.78 220.47 L800.87 220.30 L800.96 220.12 L801.06 219.95 L801.15 219.77 L801.24 219.59 L801.34 219.41 L801.43 219.23 L801.52 219.04 L801.62 218.85 L801.71 218.67 L801.80 218.47 L801.90 218.28 L801.99 218.09 L802.08 217.89 L802.18 217.69 L802.27 217.49 L802.36 217.29 L802.46 217.08 L802.55 216.87 L802.65 216.66 L802.74 216.45 L802.83 216.24 L802.93 216.02 L803.02 215.81 L803.11 215.59 L803.21 215.36 L803.30 215.14 L803.39 214.91 L803.49 214.68 L803.58 214.45 L803.67 214.22 L803.77 213.99 L803.86 213.75 L803.95 213.51 L804.05 213.27 L804.14 213.03 L804.24 212.78 L804.33 212.53 L804.42 212.28 L804.52 212.03 L804.61 211.78 L804.70 211.52 L804.80 211.26 L804.89 211.00 L804.98 210.74 L805.08 210.47 L805.17 210.20 L805.26 209.93 L805.36 209.66 L805.45 209.39 L805.54 209.11 L805.64 208.83 L805.73 208.55 L805.83 208.27 L805.92 207.98 L806.01 207.69 L806.11 207.40 L806.20 207.11 L806.29 206.82 L806.39 206.52 L806.48 206.22 L806.57 205.92 L806.67 205.62 L806.76 205.31 L806.85 205.00 L806.95 204.69 L807.04 204.38 L807.13 204.06 L807.23 203.74 L807.32 203.42 L807.42 203.10 L807.51 202.78 L807.60 202.45 L807.70 202.12 L807.79 201.79 L807.88 201.46 L807.98 201.12 L808.07 200.78 L808.16 200.44 L808.26 200.10 L808.35 199.75 L808.44 199.41 L808.54 199.06 L808.63 198.70 L808.72 198.35 L808.82 197.99 L808.91 197.63 L809.01 197.27 L809.10 196.91 L809.19 196.54 L809.29 196.17 L809.38 195.80 L809.47 195.43 L809.57 195.06 L809.66 194.68 L809.75 194.30 L809.85 193.92 L809.94 193.53 L810.03 193.15 L810.13 192.76 L810.22 192.37 L810.31 191.97 L810.41 191.58 L810.50 191.18 L810.60 190.78 L810.69 190.38 L810.78 189.97 L810.88 189.56 L810.97 189.16 L811.06 188.74 L811.16 188.33 L811.25 187.91 L811.34 187.50 L811.44 187.08 L811.53 186.65 L811.62 186.23 L811.72 185.80 L811.81 185.37 L811.90 184.94 L812.00 184.51 L812.09 184.07 L812.18 183.63 L812.28 183.19 L812.37 182.75 L812.47 182.31 L812.56 181.86 L812.65 181.41 L812.75 180.96 L812.84 180.51 L812.93 180.06 L813.03 179.60 L813.12 179.14 L813.21 178.68 L813.31 178.21 L813.40 177.75 L813.49 177.28 L813.59 176.81 L813.68 176.34 L813.77 175.87 L813.87 175.39 L813.96 174.92 L814.06 174.44 L814.15 173.95 L814.24 173.47 L814.34 172.99 L814.43 172.50 L814.52 172.01 L814.62 171.52 L814.71 171.02 L814.80 170.53 L814.90 170.03 L814.99 169.53 L815.08 169.03 L815.18 168.53 L815.27 168.02 L815.36 167.52 L815.46 167.01 L815.55 166.50 L815.65 165.99 L815.74 165.47 L815.83 164.96 L815.93 164.44 L816.02 163.92 L816.11 163.40 L816.21 162.88 L816.30 162.36 L816.39 161.83 L816.49 161.30 L816.58 160.77 L816.67 160.24 L816.77 159.71 L816.86 159.18 L816.95 158.64 L817.05 158.10 L817.14 157.56 L817.24 157.02 L817.33 156.48 L817.42 155.94 L817.52 155.39 L817.61 154.84 L817.70 154.30 L817.80 153.75 L817.89 153.20 L817.98 152.64 L818.08 152.09 L818.17 151.53 L818.26 150.98 L818.36 150.42 L818.45 149.86 L818.54 149.30 L818.64 148.73 L818.73 148.17 L818.83 147.61 L818.92 147.04 L819.01 146.47 L819.11 145.90 L819.20 145.33 L819.29 144.76 L819.39 144.19 L819.48 143.62 L819.57 143.04 L819.67 142.47 L819.76 141.89 L819.85 141.31 L819.95 140.73 L820.04 140.15 L820.13 139.57 L820.23 138.99 L820.32 138.40 L820.41 137.82 L820.51 137.23 L820.60 136.65 L820.70 136.06 L820.79 135.47 L820.88 134.88 L820.98 134.29 L821.07 133.70 L821.16 133.11 L821.26 132.52 L821.35 131.93 L821.44 131.33 L821.54 130.74 L821.63 130.14 L821.72 129.55 L821.82 128.95 L821.91 128.35 L822.00 127.75 L822.10 127.16 L822.19 126.56 L822.29 125.96 L822.38 125.36 L822.47 124.76 L822.57 124.15 L822.66 123.55 L822.75 122.95 L822.85 122.35 L822.94 121.74 L823.03 121.14 L823.13 120.54 L823.22 119.93 L823.31 119.33 L823.41 118.72 L823.50 118.12 L823.59 117.51 L823.69 116.90 L823.78 116.30 L823.88 115.69 L823.97 115.09 L824.06 114.48 L824.16 113.87 L824.25 113.27 L824.34 112.66 L824.44 112.05 L824.53 111.45 L824.62 110.84 L824.72 110.23 L824.81 109.62 L824.90 109.02 L825.00 108.41 L825.09 107.80 L825.18 107.20 L825.28 106.59 L825.37 105.98 L825.47 105.38 L825.56 104.77 L825.65 104.17 L825.75 103.56 L825.84 102.96 L825.93 102.35 L826.03 101.75 L826.12 101.14 L826.21 100.54 L826.31 99.94 L826.40 99.33 L826.49 98.73 L826.59 98.13 L826.68 97.53 L826.77 96.93 L826.87 96.33 L826.96 95.73 L827.06 95.13 L827.15 94.53 L827.24 93.93 L827.34 93.34 L827.43 92.74 L827.52 92.15 L827.62 91.55 L827.71 90.96 L827.80 90.36 L827.90 89.77 L827.99 89.18 L828.08 88.59 L828.18 88.00 L828.27 87.41 L828.36 86.82 L828.46 86.24 L828.55 85.65 L828.65 85.07 L828.74 84.48 L828.83 83.90 L828.93 83.32 L829.02 82.74 L829.11 82.16 L829.21 81.58 L829.30 81.00 L829.39 80.43 L829.49 79.85 L829.58 79.28 L829.67 78.71 L829.77 78.14 L829.86 77.57 L829.95 77.00 L830.05 76.44 L830.14 75.87 L830.23 75.31 L830.33 74.75 L830.42 74.19 L830.52 73.63 L830.61 73.07 L830.70 72.51 L830.80 71.96 L830.89 71.41 L830.98 70.86 L831.08 70.31 L831.17 69.76 L831.26 69.22 L831.36 68.67 L831.45 68.13 L831.54 67.59 L831.64 67.05 L831.73 66.51 L831.82 65.98 L831.92 65.45 L832.01 64.91 L832.11 64.39 L832.20 63.86 L832.29 63.33 L832.39 62.81 L832.48 62.29 L832.57 61.77 L832.67 61.25 L832.76 60.74 L832.85 60.23 L832.95 59.71 L833.04 59.21 L833.13 58.70 L833.23 58.20 L833.32 57.69 L833.41 57.19 L833.51 56.70 L833.60 56.20 L833.70 55.71 L833.79 55.22 L833.88 54.73 L833.98 54.25 L834.07 53.76 L834.16 53.28 L834.26 52.80 L834.35 52.33 L834.44 51.86 L834.54 51.38 L834.63 50.92 L834.72 50.45 L834.82 49.99 L834.91 49.53 L835.00 49.07 L835.10 48.62 L835.19 48.16 L835.29 47.71 L835.38 47.27 L835.47 46.82 L835.57 46.38 L835.66 45.94 L835.75 45.51 L835.85 45.07 L835.94 44.64 L836.03 44.22 L836.13 43.79 L836.22 43.37 L836.31 42.95 L836.41 42.54 L836.50 42.12 L836.59 41.71 L836.69 41.31 L836.78 40.90 L836.88 40.50 L836.97 40.10 L837.06 39.71 L837.16 39.32 L837.25 38.93 L837.34 38.54 L837.44 38.16 L837.53 37.78 L837.62 37.41 L837.72 37.04 L837.81 36.67 L837.90 36.30 L838.00 35.94 L838.09 35.58 L838.18 35.22 L838.28 34.87 L838.37 34.52 L838.46 34.17 L838.56 33.83 L838.65 33.49 L838.75 33.15 L838.84 32.82 L838.93 32.49 L839.03 32.17 L839.12 31.84 L839.21 31.52 L839.31 31.21 L839.40 30.90 L839.49 30.59 L839.59 30.28 L839.68 29.98 L839.77 29.68 L839.87 29.39 L839.96 29.10 L840.05 28.81 L840.15 28.53 L840.24 28.25 L840.34 27.97 L840.43 27.70 L840.52 27.43 L840.62 27.16 L840.71 26.90 L840.80 26.64 L840.90 26.39 L840.99 26.14 L841.08 25.89 L841.18 25.65 L841.27 25.41 L841.36 25.17 L841.46 24.94 L841.55 24.71 L841.64 24.49 L841.74 24.27 L841.83 24.05 L841.93 23.84 L842.02 23.63 L842.11 23.43 L842.21 23.22 L842.30 23.03 L842.39 22.83 L842.49 22.64 L842.58 22.46 L842.67 22.28 L842.77 22.10 L842.86 21.93 L842.95 21.76 L843.05 21.59 L843.14 21.43 L843.23 21.27 L843.33 21.11 L843.42 20.96 L843.52 20.82 L843.61 20.68 L843.70 20.54 L843.80 20.40 L843.89 20.27 L843.98 20.15 L844.08 20.03 L844.17 19.91 L844.26 19.79 L844.36 19.68 L844.45 19.58 L844.54 19.48 L844.64 19.38 L844.73 19.28 L844.82 19.19 L844.92 19.11 L845.01 19.03 L845.11 18.95 L845.20 18.88 L845.29 18.81 L845.39 18.74 L845.48 18.68 L845.57 18.62 L845.67 18.57 L845.76 18.52 L845.85 18.48 L845.95 18.43 L846.04 18.40 L846.13 18.37 L846.23 18.34 L846.32 18.31 L846.41 18.29 L846.51 18.28 L846.60 18.26 L846.70 18.26 L846.79 18.25 L846.88 18.25 L846.98 18.26 L847.07 18.27 L847.16 18.28 L847.26 18.30 L847.35 18.32 L847.44 18.34 L847.54 18.37 L847.63 18.40 L847.72 18.44 L847.82 18.48 L847.91 18.53 L848.00 18.58 L848.10 18.63 L848.19 18.69 L848.28 18.75 L848.38 18.82 L848.47 18.89 L848.57 18.96 L848.66 19.04 L848.75 19.12 L848.85 19.21 L848.94 19.30 L849.03 19.39 L849.13 19.49 L849.22 19.59 L849.31 19.70 L849.41 19.81 L849.50 19.93 L849.59 20.04 L849.69 20.17 L849.78 20.29 L849.87 20.42 L849.97 20.56 L850.06 20.70 L850.16 20.84 L850.25 20.99 L850.34 21.14 L850.44 21.29 L850.53 21.45 L850.62 21.61 L850.72 21.78 L850.81 21.95 L850.90 22.13 L851.00 22.30 L851.09 22.49 L851.18 22.67 L851.28 22.86 L851.37 23.06 L851.46 23.25 L851.56 23.46 L851.65 23.66 L851.75 23.87 L851.84 24.08 L851.93 24.30 L852.03 24.52 L852.12 24.75 L852.21 24.97 L852.31 25.21 L852.40 25.44 L852.49 25.68 L852.59 25.93 L852.68 26.17 L852.77 26.42 L852.87 26.68 L852.96 26.94 L853.05 27.20 L853.15 27.47 L853.24 27.73 L853.34 28.01 L853.43 28.28 L853.52 28.57 L853.62 28.85 L853.71 29.14 L853.80 29.43 L853.90 29.72 L853.99 30.02 L854.08 30.32 L854.18 30.63 L854.27 30.94 L854.36 31.25 L854.46 31.56 L854.55 31.88 L854.64 32.21 L854.74 32.53 L854.83 32.86 L854.93 33.20 L855.02 33.53 L855.11 33.87 L855.21 34.22 L855.30 34.56 L855.39 34.91 L855.49 35.26 L855.58 35.62 L855.67 35.98 L855.77 36.34 L855.86 36.71 L855.95 37.08 L856.05 37.45 L856.14 37.83 L856.23 38.21 L856.33 38.59 L856.42 38.97 L856.52 39.36 L856.61 39.75 L856.70 40.15 L856.80 40.55 L856.89 40.95 L856.98 41.35 L857.08 41.76 L857.17 42.17 L857.26 42.58 L857.36 42.99 L857.45 43.41 L857.54 43.83 L857.64 44.26 L857.73 44.69 L857.82 45.12 L857.92 45.55 L858.01 45.98 L858.10 46.42 L858.20 46.86 L858.29 47.31 L858.39 47.75 L858.48 48.20 L858.57 48.66 L858.67 49.11 L858.76 49.57 L858.85 50.03 L858.95 50.49 L859.04 50.96 L859.13 51.42 L859.23 51.89 L859.32 52.37 L859.41 52.84 L859.51 53.32 L859.60 53.80 L859.69 54.28 L859.79 54.77 L859.88 55.26 L859.98 55.75 L860.07 56.24 L860.16 56.73 L860.26 57.23 L860.35 57.73 L860.44 58.23 L860.54 58.73 L860.63 59.24 L860.72 59.75 L860.82 60.26 L860.91 60.77 L861.00 61.28 L861.10 61.80 L861.19 62.32 L861.28 62.84 L861.38 63.36 L861.47 63.89 L861.57 64.41 L861.66 64.94 L861.75 65.47 L861.85 66.00 L861.94 66.54 L862.03 67.07 L862.13 67.61 L862.22 68.15 L862.31 68.69 L862.41 69.24 L862.50 69.78 L862.59 70.33 L862.69 70.88 L862.78 71.43 L862.87 71.98 L862.97 72.53 L863.06 73.09 L863.16 73.64 L863.25 74.20 L863.34 74.76 L863.44 75.32 L863.53 75.88 L863.62 76.45 L863.72 77.01 L863.81 77.58 L863.90 78.15 L864.00 78.72 L864.09 79.29 L864.18 79.86 L864.28 80.43 L864.37 81.01 L864.46 81.58 L864.56 82.16 L864.65 82.74 L864.75 83.32 L864.84 83.90 L864.93 84.48 L865.03 85.06 L865.12 85.64 L865.21 86.23 L865.31 86.81 L865.40 87.40 L865.49 87.99 L865.59 88.58 L865.68 89.17 L865.77 89.76 L865.87 90.35 L865.96 90.94 L866.05 91.53 L866.15 92.13 L866.24 92.72 L866.33 93.32 L866.43 93.91 L866.52 94.51 L866.62 95.11 L866.71 95.70 L866.80 96.30 L866.90 96.90 L866.99 97.50 L867.08 98.10 L867.18 98.70 L867.27 99.30 L867.36 99.90 L867.46 100.50 L867.55 101.11 L867.64 101.71 L867.74 102.31 L867.83 102.92 L867.92 103.52 L868.02 104.12 L868.11 104.73 L868.21 105.33 L868.30 105.94 L868.39 106.54 L868.49 107.15 L868.58 107.75 L868.67 108.36 L868.77 108.96 L868.86 109.57 L868.95 110.17 L869.05 110.78 L869.14 111.38 L869.23 111.99 L869.33 112.60 L869.42 113.20 L869.51 113.81 L869.61 114.41 L869.70 115.02 L869.80 115.62 L869.89 116.23 L869.98 116.83 L870.08 117.44 L870.17 118.04 L870.26 118.64 L870.36 119.25 L870.45 119.85 L870.54 120.45 L870.64 121.06 L870.73 121.66 L870.82 122.26 L870.92 122.86 L871.01 123.46 L871.10 124.06 L871.20 124.66 L871.29 125.26 L871.39 125.86 L871.48 126.46 L871.57 127.06 L871.67 127.65 L871.76 128.25 L871.85 128.85 L871.95 129.44 L872.04 130.04 L872.13 130.63 L872.23 131.22 L872.32 131.82 L872.41 132.41 L872.51 133.00 L872.60 133.59 L872.69 134.18 L872.79 134.77 L872.88 135.35 L872.98 135.94 L873.07 136.53 L873.16 137.11 L873.26 137.69 L873.35 138.28 L873.44 138.86 L873.54 139.44 L873.63 140.02 L873.72 140.60 L873.82 141.18 L873.91 141.75 L874.00 142.33 L874.10 142.90 L874.19 143.47 L874.28 144.05 L874.38 144.62 L874.47 145.19 L874.57 145.76 L874.66 146.32 L874.75 146.89 L874.85 147.45 L874.94 148.02 L875.03 148.58 L875.13 149.14 L875.22 149.70 L875.31 150.26 L875.41 150.82 L875.50 151.37 L875.59 151.92 L875.69 152.48 L875.78 153.03 L875.87 153.58 L875.97 154.13 L876.06 154.67 L876.15 155.22 L876.25 155.76 L876.34 156.30 L876.44 156.85 L876.53 157.38 L876.62 157.92 L876.72 158.46 L876.81 158.99 L876.90 159.53 L877.00 160.06 L877.09 160.59 L877.18 161.11 L877.28 161.64 L877.37 162.16 L877.46 162.69 L877.56 163.21 L877.65 163.73 L877.74 164.25 L877.84 164.76 L877.93 165.28 L878.03 165.79 L878.12 166.30 L878.21 166.81 L878.31 167.31 L878.40 167.82 L878.49 168.32 L878.59 168.82 L878.68 169.32 L878.77 169.82 L878.87 170.32 L878.96 170.81 L879.05 171.30 L879.15 171.79 L879.24 172.28 L879.33 172.77 L879.43 173.25 L879.52 173.73 L879.62 174.21 L879.71 174.69 L879.80 175.17 L879.90 175.64 L879.99 176.12 L880.08 176.59 L880.18 177.05 L880.27 177.52 L880.36 177.98 L880.46 178.45 L880.55 178.91 L880.64 179.36 L880.74 179.82 L880.83 180.27 L880.92 180.73 L881.02 181.18 L881.11 181.62 L881.21 182.07 L881.30 182.51 L881.39 182.95 L881.49 183.39 L881.58 183.83 L881.67 184.26 L881.77 184.70 L881.86 185.13 L881.95 185.55 L882.05 185.98 L882.14 186.40 L882.23 186.83 L882.33 187.25 L882.42 187.66 L882.51 188.08 L882.61 188.49 L882.70 188.90 L882.80 189.31 L882.89 189.72 L882.98 190.12 L883.08 190.52 L883.17 190.92 L883.26 191.32 L883.36 191.71 L883.45 192.11 L883.54 192.50 L883.64 192.88 L883.73 193.27 L883.82 193.65 L883.92 194.04 L884.01 194.42 L884.10 194.79 L884.20 195.17 L884.29 195.54 L884.38 195.91 L884.48 196.28 L884.57 196.64 L884.67 197.01 L884.76 197.37 L884.85 197.73 L884.95 198.08 L885.04 198.44 L885.13 198.79 L885.23 199.14 L885.32 199.48 L885.41 199.83 L885.51 200.17 L885.60 200.51 L885.69 200.85 L885.79 201.19 L885.88 201.52 L885.97 201.85 L886.07 202.18 L886.16 202.51 L886.26 202.83 L886.35 203.15 L886.44 203.47 L886.54 203.79 L886.63 204.10 L886.72 204.42 L886.82 204.73 L886.91 205.04 L887.00 205.34 L887.10 205.65 L887.19 205.95 L887.28 206.25 L887.38 206.54 L887.47 206.84 L887.56 207.13 L887.66 207.42 L887.75 207.71 L887.85 207.99 L887.94 208.28 L888.03 208.56 L888.13 208.84 L888.22 209.12 L888.31 209.39 L888.41 209.66 L888.50 209.93" stroke="#000" stroke-width="2.45" stroke-dasharray="9.8 5.73" stroke-dashoffset="0.0"/><path d="M514.50 231.00 L514.59 231.00 L514.69 231.00 L514.78 231.00 L514.87 231.00 L514.97 231.00 L515.06 231.00 L515.15 231.00 L515.25 230.99 L515.34 230.99 L515.44 230.98 L515.53 230.97 L515.62 230.96 L515.72 230.94 L515.81 230.92 L515.90 230.90 L516.00 230.87 L516.09 230.83 L516.18 230.79 L516.28 230.74 L516.37 230.68 L516.46 230.61 L516.56 230.53 L516.65 230.44 L516.74 230.34 L516.84 230.22 L516.93 230.10 L517.03 229.95 L517.12 229.79 L517.21 229.62 L517.31 229.42 L517.40 229.21 L517.49 228.97 L517.59 228.72 L517.68 228.44 L517.77 228.14 L517.87 227.82 L517.96 227.46 L518.05 227.09 L518.15 226.68 L518.24 226.24 L518.33 225.78 L518.43 225.28 L518.52 224.76 L518.62 224.19 L518.71 223.60 L518.80 222.97 L518.90 222.30 L518.99 221.60 L519.08 220.86 L519.18 220.08 L519.27 219.26 L519.36 218.40 L519.46 217.50 L519.55 216.55 L519.64 215.57 L519.74 214.54 L519.83 213.47 L519.92 212.35 L520.02 211.19 L520.11 209.98 L520.20 208.73 L520.30 207.43 L520.39 206.09 L520.49 204.69 L520.58 203.26 L520.67 201.77 L520.77 200.24 L520.86 198.66 L520.95 197.03 L521.05 195.36 L521.14 193.64 L521.23 191.88 L521.33 190.07 L521.42 188.21 L521.51 186.31 L521.61 184.37 L521.70 182.38 L521.79 180.34 L521.89 178.27 L521.98 176.15 L522.08 173.99 L522.17 171.80 L522.26 169.56 L522.36 167.28 L522.45 164.97 L522.54 162.62 L522.64 160.24 L522.73 157.83 L522.82 155.38 L522.92 152.90 L523.01 150.39 L523.10 147.86 L523.20 145.30 L523.29 142.71 L523.38 140.11 L523.48 137.48 L523.57 134.83 L523.67 132.17 L523.76 129.49 L523.85 126.79 L523.95 124.09 L524.04 121.37 L524.13 118.65 L524.23 115.92 L524.32 113.19 L524.41 110.45 L524.51 107.72 L524.60 104.99 L524.69 102.26 L524.79 99.54 L524.88 96.83 L524.97 94.14 L525.07 91.45 L525.16 88.78 L525.26 86.14 L525.35 83.51 L525.44 80.90 L525.54 78.32 L525.63 75.76 L525.72 73.24 L525.82 70.74 L525.91 68.29 L526.00 65.86 L526.10 63.48 L526.19 61.13 L526.28 58.83 L526.38 56.57 L526.47 54.36 L526.56 52.19 L526.66 50.08 L526.75 48.02 L526.85 46.01 L526.94 44.06 L527.03 42.17 L527.13 40.34 L527.22 38.56 L527.31 36.85 L527.41 35.21 L527.50 33.63 L527.59 32.12 L527.69 30.68 L527.78 29.31 L527.87 28.01 L527.97 26.79 L528.06 25.63 L528.15 24.56 L528.25 23.56 L528.34 22.63 L528.43 21.79 L528.53 21.02 L528.62 20.33 L528.72 19.73 L528.81 19.20 L528.90 18.75 L529.00 18.39 L529.09 18.11 L529.18 17.91 L529.28 17.79 L529.37 17.76 L529.46 17.81 L529.56 17.94 L529.65 18.15 L529.74 18.44 L529.84 18.82 L529.93 19.28 L530.02 19.82 L530.12 20.44 L530.21 21.14 L530.31 21.91 L530.40 22.77 L530.49 23.70 L530.59 24.72 L530.68 25.80 L530.77 26.96 L530.87 28.19 L530.96 29.50 L531.05 30.88 L531.15 32.32 L531.24 33.84 L531.33 35.42 L531.43 37.07 L531.52 38.78 L531.61 40.55 L531.71 42.38 L531.80 44.27 L531.90 46.22 L531.99 48.22 L532.08 50.28 L532.18 52.38 L532.27 54.54 L532.36 56.74 L532.46 58.99 L532.55 61.29 L532.64 63.62 L532.74 65.99 L532.83 68.40 L532.92 70.85 L533.02 73.32 L533.11 75.83 L533.20 78.37 L533.30 80.93 L533.39 83.52 L533.49 86.13 L533.58 88.75 L533.67 91.40 L533.77 94.06 L533.86 96.73 L533.95 99.42 L534.05 102.11 L534.14 104.81 L534.23 107.51 L534.33 110.22 L534.42 112.92 L534.51 115.62 L534.61 118.32 L534.70 121.02 L534.79 123.70 L534.89 126.38 L534.98 129.04 L535.08 131.69 L535.17 134.33 L535.26 136.94 L535.36 139.54 L535.45 142.12 L535.54 144.67 L535.64 147.20 L535.73 149.70 L535.82 152.18 L535.92 154.63 L536.01 157.05 L536.10 159.44 L536.20 161.79 L536.29 164.11 L536.38 166.40 L536.48 168.64 L536.57 170.86 L536.67 173.03 L536.76 175.16 L536.85 177.26 L536.95 179.31 L537.04 181.33 L537.13 183.30 L537.23 185.22 L537.32 187.11 L537.41 188.95 L537.51 190.74 L537.60 192.49 L537.69 194.20 L537.79 195.86 L537.88 197.48 L537.97 199.05 L538.07 200.57 L538.16 202.05 L538.25 203.49 L538.35 204.87 L538.44 206.22 L538.54 207.52 L538.63 208.77 L538.72 209.98 L538.82 211.15 L538.91 212.27 L539.00 213.35 L539.10 214.39 L539.19 215.38 L539.28 216.34 L539.38 217.25 L539.47 218.12 L539.56 218.96 L539.66 219.76 L539.75 220.51 L539.84 221.24 L539.94 221.92 L540.03 222.57 L540.13 223.19 L540.22 223.77 L540.31 224.32 L540.41 224.84 L540.50 225.33 L540.59 225.79 L540.69 226.23 L540.78 226.63 L540.87 227.01 L540.97 227.36 L541.06 227.69 L541.15 228.00 L541.25 228.28 L541.34 228.54 L541.43 228.79 L541.53 229.01 L541.62 229.22 L541.72 229.40 L541.81 229.58 L541.90 229.73 L542.00 229.87 L542.09 230.00 L542.18 230.12 L542.28 230.22 L542.37 230.32 L542.46 230.40 L542.56 230.48 L542.65 230.54 L542.74 230.60 L542.84 230.65 L542.93 230.70 L543.02 230.74 L543.12 230.77 L543.21 230.80 L543.31 230.82 L543.40 230.84 L543.49 230.86 L543.59 230.88 L543.68 230.89 L543.77 230.90 L543.87 230.91 L543.96 230.91 L544.05 230.91 L544.15 230.92 L544.24 230.92 L544.33 230.92 L544.43 230.91 L544.52 230.91 L544.61 230.90 L544.71 230.89 L544.80 230.88 L544.90 230.87 L544.99 230.86 L545.08 230.84 L545.18 230.82 L545.27 230.79 L545.36 230.76 L545.46 230.72 L545.55 230.68 L545.64 230.64 L545.74 230.58 L545.83 230.52 L545.92 230.45 L546.02 230.38 L546.11 230.29 L546.20 230.19 L546.30 230.09 L546.39 229.97 L546.48 229.84 L546.58 229.69 L546.67 229.53 L546.77 229.35 L546.86 229.16 L546.95 228.95 L547.05 228.73 L547.14 228.48 L547.23 228.22 L547.33 227.93 L547.42 227.62 L547.51 227.29 L547.61 226.93 L547.70 226.55 L547.79 226.14 L547.89 225.71 L547.98 225.24 L548.07 224.75 L548.17 224.23 L548.26 223.68 L548.36 223.09 L548.45 222.48 L548.54 221.82 L548.64 221.14 L548.73 220.42 L548.82 219.66 L548.92 218.87 L549.01 218.04 L549.10 217.17 L549.20 216.26 L549.29 215.32 L549.38 214.33 L549.48 213.30 L549.57 212.23 L549.66 211.12 L549.76 209.97 L549.85 208.77 L549.95 207.53 L550.04 206.25 L550.13 204.93 L550.23 203.56 L550.32 202.15 L550.41 200.69 L550.51 199.19 L550.60 197.65 L550.69 196.06 L550.79 194.43 L550.88 192.76 L550.97 191.04 L551.07 189.29 L551.16 187.49 L551.25 185.64 L551.35 183.76 L551.44 181.84 L551.54 179.87 L551.63 177.87 L551.72 175.83 L551.82 173.75 L551.91 171.63 L552.00 169.48 L552.10 167.30 L552.19 165.08 L552.28 162.82 L552.38 160.54 L552.47 158.22 L552.56 155.88 L552.66 153.51 L552.75 151.11 L552.84 148.69 L552.94 146.24 L553.03 143.78 L553.13 141.29 L553.22 138.78 L553.31 136.26 L553.41 133.72 L553.50 131.17 L553.59 128.61 L553.69 126.03 L553.78 123.45 L553.87 120.87 L553.97 118.27 L554.06 115.68 L554.15 113.09 L554.25 110.49 L554.34 107.90 L554.43 105.32 L554.53 102.75 L554.62 100.18 L554.72 97.63 L554.81 95.09 L554.90 92.56 L555.00 90.06 L555.09 87.57 L555.18 85.11 L555.28 82.67 L555.37 80.26 L555.46 77.88 L555.56 75.53 L555.65 73.21 L555.74 70.92 L555.84 68.67 L555.93 66.46 L556.02 64.30 L556.12 62.17 L556.21 60.09 L556.30 58.05 L556.40 56.06 L556.49 54.13 L556.59 52.24 L556.68 50.41 L556.77 48.63 L556.87 46.91 L556.96 45.25 L557.05 43.65 L557.15 42.11 L557.24 40.63 L557.33 39.22 L557.43 37.87 L557.52 36.59 L557.61 35.37 L557.71 34.23 L557.80 33.15 L557.89 32.15 L557.99 31.22 L558.08 30.36 L558.18 29.58 L558.27 28.87 L558.36 28.23 L558.46 27.67 L558.55 27.19 L558.64 26.78 L558.74 26.45 L558.83 26.20 L558.92 26.02 L559.02 25.93 L559.11 25.91 L559.20 25.96 L559.30 26.10 L559.39 26.31 L559.48 26.60 L559.58 26.97 L559.67 27.42 L559.77 27.94 L559.86 28.53 L559.95 29.21 L560.05 29.95 L560.14 30.77 L560.23 31.66 L560.33 32.63 L560.42 33.66 L560.51 34.77 L560.61 35.94 L560.70 37.19 L560.79 38.50 L560.89 39.87 L560.98 41.31 L561.07 42.81 L561.17 44.37 L561.26 46.00 L561.36 47.68 L561.45 49.42 L561.54 51.21 L561.64 53.06 L561.73 54.96 L561.82 56.91 L561.92 58.90 L562.01 60.95 L562.10 63.04 L562.20 65.17 L562.29 67.34 L562.38 69.55 L562.48 71.80 L562.57 74.08 L562.66 76.40 L562.76 78.75 L562.85 81.12 L562.95 83.53 L563.04 85.95 L563.13 88.41 L563.23 90.88 L563.32 93.37 L563.41 95.87 L563.51 98.40 L563.60 100.93 L563.69 103.48 L563.79 106.03 L563.88 108.59 L563.97 111.15 L564.07 113.72 L564.16 116.29 L564.25 118.85 L564.35 121.41 L564.44 123.97 L564.54 126.52 L564.63 129.06 L564.72 131.59 L564.82 134.11 L564.91 136.61 L565.00 139.10 L565.10 141.57 L565.19 144.02 L565.28 146.46 L565.38 148.86 L565.47 151.25 L565.56 153.61 L565.66 155.94 L565.75 158.25 L565.84 160.53 L565.94 162.77 L566.03 164.99 L566.12 167.17 L566.22 169.32 L566.31 171.44 L566.41 173.52 L566.50 175.56 L566.59 177.57 L566.69 179.53 L566.78 181.46 L566.87 183.36 L566.97 185.21 L567.06 187.02 L567.15 188.79 L567.25 190.52 L567.34 192.20 L567.43 193.85 L567.53 195.45 L567.62 197.01 L567.71 198.53 L567.81 200.01 L567.90 201.45 L568.00 202.84 L568.09 204.19 L568.18 205.49 L568.28 206.76 L568.37 207.98 L568.46 209.17 L568.56 210.31 L568.65 211.41 L568.74 212.47 L568.84 213.49 L568.93 214.47 L569.02 215.41 L569.12 216.32 L569.21 217.19 L569.30 218.02 L569.40 218.81 L569.49 219.57 L569.59 220.29 L569.68 220.98 L569.77 221.64 L569.87 222.26 L569.96 222.85 L570.05 223.42 L570.15 223.95 L570.24 224.45 L570.33 224.93 L570.43 225.38 L570.52 225.80 L570.61 226.19 L570.71 226.57 L570.80 226.92 L570.89 227.24 L570.99 227.55 L571.08 227.83 L571.18 228.10 L571.27 228.34 L571.36 228.57 L571.46 228.78 L571.55 228.97 L571.64 229.15 L571.74 229.32 L571.83 229.47 L571.92 229.61 L572.02 229.73 L572.11 229.85 L572.20 229.95 L572.30 230.05 L572.39 230.13 L572.48 230.21 L572.58 230.28 L572.67 230.34 L572.77 230.40 L572.86 230.45 L572.95 230.49 L573.05 230.53 L573.14 230.56 L573.23 230.59 L573.33 230.61 L573.42 230.63 L573.51 230.65 L573.61 230.66 L573.70 230.67 L573.79 230.68 L573.89 230.68 L573.98 230.68 L574.07 230.68 L574.17 230.67 L574.26 230.67 L574.35 230.65 L574.45 230.64 L574.54 230.62 L574.64 230.60 L574.73 230.57 L574.82 230.54 L574.92 230.50 L575.01 230.46 L575.10 230.42 L575.20 230.36 L575.29 230.30 L575.38 230.24 L575.48 230.16 L575.57 230.08 L575.66 229.99 L575.76 229.89 L575.85 229.78 L575.94 229.66 L576.04 229.52 L576.13 229.38 L576.23 229.22 L576.32 229.05 L576.41 228.86 L576.51 228.65 L576.60 228.43 L576.69 228.20 L576.79 227.94 L576.88 227.67 L576.97 227.37 L577.07 227.06 L577.16 226.72 L577.25 226.36 L577.35 225.98 L577.44 225.57 L577.53 225.14 L577.63 224.68 L577.72 224.19 L577.82 223.68 L577.91 223.13 L578.00 222.56 L578.10 221.96 L578.19 221.32 L578.28 220.66 L578.38 219.96 L578.47 219.22 L578.56 218.46 L578.66 217.66 L578.75 216.82 L578.84 215.94 L578.94 215.03 L579.03 214.08 L579.12 213.10 L579.22 212.07 L579.31 211.01 L579.41 209.91 L579.50 208.77 L579.59 207.58 L579.69 206.36 L579.78 205.10 L579.87 203.80 L579.97 202.45 L580.06 201.07 L580.15 199.64 L580.25 198.18 L580.34 196.67 L580.43 195.13 L580.53 193.54 L580.62 191.91 L580.71 190.24 L580.81 188.54 L580.90 186.79 L581.00 185.01 L581.09 183.19 L581.18 181.33 L581.28 179.43 L581.37 177.50 L581.46 175.53 L581.56 173.53 L581.65 171.49 L581.74 169.42 L581.84 167.32 L581.93 165.19 L582.02 163.03 L582.12 160.84 L582.21 158.62 L582.30 156.38 L582.40 154.11 L582.49 151.82 L582.59 149.50 L582.68 147.16 L582.77 144.81 L582.87 142.44 L582.96 140.05 L583.05 137.64 L583.15 135.22 L583.24 132.79 L583.33 130.35 L583.43 127.91 L583.52 125.45 L583.61 122.99 L583.71 120.53 L583.80 118.07 L583.89 115.61 L583.99 113.15 L584.08 110.69 L584.17 108.24 L584.27 105.80 L584.36 103.37 L584.46 100.96 L584.55 98.55 L584.64 96.17 L584.74 93.80 L584.83 91.45 L584.92 89.12 L585.02 86.82 L585.11 84.54 L585.20 82.29 L585.30 80.07 L585.39 77.88 L585.48 75.73 L585.58 73.61 L585.67 71.53 L585.76 69.48 L585.86 67.48 L585.95 65.52 L586.05 63.61 L586.14 61.74 L586.23 59.92 L586.33 58.14 L586.42 56.42 L586.51 54.75 L586.61 53.14 L586.70 51.58 L586.79 50.08 L586.89 48.63 L586.98 47.25 L587.07 45.92 L587.17 44.66 L587.26 43.46 L587.35 42.33 L587.45 41.26 L587.54 40.26 L587.64 39.32 L587.73 38.46 L587.82 37.66 L587.92 36.93 L588.01 36.27 L588.10 35.68 L588.20 35.17 L588.29 34.72 L588.38 34.35 L588.48 34.05 L588.57 33.83 L588.66 33.68 L588.76 33.60 L588.85 33.59 L588.94 33.66 L589.04 33.80 L589.13 34.01 L589.23 34.30 L589.32 34.66 L589.41 35.09 L589.51 35.59 L589.60 36.16 L589.69 36.81 L589.79 37.52 L589.88 38.31 L589.97 39.16 L590.07 40.08 L590.16 41.07 L590.25 42.12 L590.35 43.24 L590.44 44.42 L590.53 45.67 L590.63 46.98 L590.72 48.35 L590.82 49.77 L590.91 51.26 L591.00 52.80 L591.10 54.39 L591.19 56.04 L591.28 57.75 L591.38 59.50 L591.47 61.30 L591.56 63.15 L591.66 65.04 L591.75 66.98 L591.84 68.96 L591.94 70.98 L592.03 73.04 L592.12 75.14 L592.22 77.27 L592.31 79.43 L592.40 81.63 L592.50 83.86 L592.59 86.11 L592.69 88.39 L592.78 90.69 L592.87 93.01 L592.97 95.35 L593.06 97.72 L593.15 100.09 L593.25 102.49 L593.34 104.89 L593.43 107.30 L593.53 109.72 L593.62 112.15 L593.71 114.59 L593.81 117.02 L593.90 119.46 L593.99 121.89 L594.09 124.33 L594.18 126.76 L594.28 129.18 L594.37 131.59 L594.46 134.00 L594.56 136.39 L594.65 138.77 L594.74 141.14 L594.84 143.49 L594.93 145.82 L595.02 148.14 L595.12 150.43 L595.21 152.70 L595.30 154.95 L595.40 157.18 L595.49 159.38 L595.58 161.55 L595.68 163.70 L595.77 165.81 L595.87 167.90 L595.96 169.95 L596.05 171.98 L596.15 173.97 L596.24 175.92 L596.33 177.85 L596.43 179.73 L596.52 181.59 L596.61 183.40 L596.71 185.18 L596.80 186.92 L596.89 188.62 L596.99 190.29 L597.08 191.91 L597.17 193.50 L597.27 195.05 L597.36 196.56 L597.46 198.03 L597.55 199.46 L597.64 200.85 L597.74 202.20 L597.83 203.51 L597.92 204.78 L598.02 206.01 L598.11 207.21 L598.20 208.36 L598.30 209.48 L598.39 210.56 L598.48 211.60 L598.58 212.60 L598.67 213.57 L598.76 214.49 L598.86 215.39 L598.95 216.25 L599.05 217.07 L599.14 217.86 L599.23 218.62 L599.33 219.34 L599.42 220.03 L599.51 220.69 L599.61 221.32 L599.70 221.92 L599.79 222.49 L599.89 223.03 L599.98 223.54 L600.07 224.03 L600.17 224.49 L600.26 224.92 L600.35 225.33 L600.45 225.72 L600.54 226.09 L600.64 226.43 L600.73 226.75 L600.82 227.06 L600.92 227.34 L601.01 227.60 L601.10 227.85 L601.20 228.08 L601.29 228.29 L601.38 228.49 L601.48 228.68 L601.57 228.85 L601.66 229.01 L601.76 229.15 L601.85 229.28 L601.94 229.41 L602.04 229.52 L602.13 229.62 L602.22 229.71 L602.32 229.80 L602.41 229.87 L602.51 229.94 L602.60 230.01 L602.69 230.06 L602.79 230.11 L602.88 230.15 L602.97 230.19 L603.07 230.22 L603.16 230.25 L603.25 230.27 L603.35 230.29 L603.44 230.30 L603.53 230.31 L603.63 230.31 L603.72 230.31 L603.81 230.31 L603.91 230.30 L604.00 230.29 L604.10 230.27 L604.19 230.25 L604.28 230.22 L604.38 230.19 L604.47 230.15 L604.56 230.11 L604.66 230.06 L604.75 230.01 L604.84 229.94 L604.94 229.88 L605.03 229.80 L605.12 229.72 L605.22 229.62 L605.31 229.52 L605.40 229.41 L605.50 229.29 L605.59 229.16 L605.69 229.01 L605.78 228.86 L605.87 228.69 L605.97 228.50 L606.06 228.31 L606.15 228.09 L606.25 227.87 L606.34 227.62 L606.43 227.36 L606.53 227.08 L606.62 226.78 L606.71 226.46 L606.81 226.12 L606.90 225.76 L606.99 225.38 L607.09 224.97 L607.18 224.54 L607.28 224.09 L607.37 223.61 L607.46 223.10 L607.56 222.57 L607.65 222.01 L607.74 221.42 L607.84 220.80 L607.93 220.15 L608.02 219.47 L608.12 218.76 L608.21 218.02 L608.30 217.25 L608.40 216.44 L608.49 215.60 L608.58 214.72 L608.68 213.81 L608.77 212.86 L608.87 211.88 L608.96 210.86 L609.05 209.81 L609.15 208.72 L609.24 207.59 L609.33 206.42 L609.43 205.22 L609.52 203.98 L609.61 202.70 L609.71 201.38 L609.80 200.02 L609.89 198.63 L609.99 197.20 L610.08 195.73 L610.17 194.22 L610.27 192.68 L610.36 191.10 L610.45 189.48 L610.55 187.82 L610.64 186.13 L610.74 184.40 L610.83 182.64 L610.92 180.85 L611.02 179.02 L611.11 177.15 L611.20 175.26 L611.30 173.33 L611.39 171.37 L611.48 169.38 L611.58 167.36 L611.67 165.31 L611.76 163.24 L611.86 161.14 L611.95 159.02 L612.04 156.87 L612.14 154.70 L612.23 152.50 L612.33 150.29 L612.42 148.06 L612.51 145.81 L612.61 143.55 L612.70 141.27 L612.79 138.97 L612.89 136.67 L612.98 134.36 L613.07 132.03 L613.17 129.71 L613.26 127.37 L613.35 125.03 L613.45 122.70 L613.54 120.36 L613.63 118.02 L613.73 115.69 L613.82 113.36 L613.92 111.04 L614.01 108.72 L614.10 106.42 L614.20 104.13 L614.29 101.86 L614.38 99.60 L614.48 97.36 L614.57 95.14 L614.66 92.94 L614.76 90.76 L614.85 88.61 L614.94 86.48 L615.04 84.39 L615.13 82.32 L615.22 80.29 L615.32 78.29 L615.41 76.33 L615.51 74.41 L615.60 72.52 L615.69 70.67 L615.79 68.87 L615.88 67.11 L615.97 65.40 L616.07 63.73 L616.16 62.12 L616.25 60.55 L616.35 59.03 L616.44 57.57 L616.53 56.16 L616.63 54.80 L616.72 53.51 L616.81 52.27 L616.91 51.09 L617.00 49.97 L617.10 48.91 L617.19 47.91 L617.28 46.97 L617.38 46.10 L617.47 45.29 L617.56 44.55 L617.66 43.87 L617.75 43.26 L617.84 42.72 L617.94 42.25 L618.03 41.84 L618.12 41.50 L618.22 41.23 L618.31 41.03 L618.40 40.89 L618.50 40.83 L618.59 40.84 L618.69 40.91 L618.78 41.06 L618.87 41.27 L618.97 41.55 L619.06 41.90 L619.15 42.32 L619.25 42.80 L619.34 43.36 L619.43 43.98 L619.53 44.66 L619.62 45.41 L619.71 46.23 L619.81 47.11 L619.90 48.05 L619.99 49.05 L620.09 50.12 L620.18 51.25 L620.27 52.43 L620.37 53.67 L620.46 54.98 L620.56 56.33 L620.65 57.74 L620.74 59.21 L620.84 60.72 L620.93 62.29 L621.02 63.90 L621.12 65.57 L621.21 67.28 L621.30 69.03 L621.40 70.83 L621.49 72.67 L621.58 74.55 L621.68 76.46 L621.77 78.42 L621.86 80.40 L621.96 82.42 L622.05 84.48 L622.15 86.56 L622.24 88.67 L622.33 90.81 L622.43 92.97 L622.52 95.15 L622.61 97.35 L622.71 99.58 L622.80 101.82 L622.89 104.07 L622.99 106.34 L623.08 108.62 L623.17 110.91 L623.27 113.21 L623.36 115.51 L623.45 117.82 L623.55 120.14 L623.64 122.45 L623.74 124.77 L623.83 127.08 L623.92 129.38 L624.02 131.69 L624.11 133.98 L624.20 136.27 L624.30 138.55 L624.39 140.81 L624.48 143.06 L624.58 145.30 L624.67 147.52 L624.76 149.73 L624.86 151.91 L624.95 154.08 L625.04 156.22 L625.14 158.34 L625.23 160.44 L625.33 162.52 L625.42 164.56 L625.51 166.59 L625.61 168.58 L625.70 170.55 L625.79 172.48 L625.89 174.39 L625.98 176.26 L626.07 178.10 L626.17 179.91 L626.26 181.69 L626.35 183.43 L626.45 185.14 L626.54 186.81 L626.63 188.45 L626.73 190.06 L626.82 191.62 L626.92 193.15 L627.01 194.65 L627.10 196.11 L627.20 197.53 L627.29 198.91 L627.38 200.26 L627.48 201.57 L627.57 202.84 L627.66 204.08 L627.76 205.28 L627.85 206.44 L627.94 207.57 L628.04 208.66 L628.13 209.71 L628.22 210.73 L628.32 211.71 L628.41 212.66 L628.51 213.58 L628.60 214.46 L628.69 215.31 L628.79 216.12 L628.88 216.91 L628.97 217.66 L629.07 218.38 L629.16 219.07 L629.25 219.73 L629.35 220.36 L629.44 220.96 L629.53 221.54 L629.63 222.08 L629.72 222.60 L629.81 223.10 L629.91 223.57 L630.00 224.02 L630.09 224.44 L630.19 224.84 L630.28 225.22 L630.38 225.58 L630.47 225.91 L630.56 226.23 L630.66 226.53 L630.75 226.81 L630.84 227.07 L630.94 227.32 L631.03 227.55 L631.12 227.76 L631.22 227.96 L631.31 228.15 L631.40 228.32 L631.50 228.48 L631.59 228.63 L631.68 228.77 L631.78 228.90 L631.87 229.01 L631.97 229.12 L632.06 229.22 L632.15 229.31 L632.25 229.39 L632.34 229.46 L632.43 229.52 L632.53 229.58 L632.62 229.63 L632.71 229.68 L632.81 229.72 L632.90 229.75 L632.99 229.77 L633.09 229.80 L633.18 229.81 L633.27 229.82 L633.37 229.83 L633.46 229.82 L633.56 229.82 L633.65 229.81 L633.74 229.79 L633.84 229.77 L633.93 229.74 L634.02 229.70 L634.12 229.66 L634.21 229.62 L634.30 229.56 L634.40 229.50 L634.49 229.44 L634.58 229.36 L634.68 229.28 L634.77 229.19 L634.86 229.09 L634.96 228.98 L635.05 228.86 L635.15 228.73 L635.24 228.59 L635.33 228.44 L635.43 228.27 L635.52 228.10 L635.61 227.91 L635.71 227.70 L635.80 227.49 L635.89 227.25 L635.99 227.00 L636.08 226.74 L636.17 226.45 L636.27 226.15 L636.36 225.83 L636.45 225.49 L636.55 225.13 L636.64 224.75 L636.74 224.35 L636.83 223.92 L636.92 223.47 L637.02 223.00 L637.11 222.51 L637.20 221.98 L637.30 221.44 L637.39 220.86 L637.48 220.26 L637.58 219.63 L637.67 218.97 L637.76 218.28 L637.86 217.56 L637.95 216.81 L638.04 216.04 L638.14 215.22 L638.23 214.38 L638.32 213.51 L638.42 212.60 L638.51 211.66 L638.61 210.68 L638.70 209.67 L638.79 208.63 L638.89 207.55 L638.98 206.44 L639.07 205.29 L639.17 204.10 L639.26 202.88 L639.35 201.63 L639.45 200.34 L639.54 199.01 L639.63 197.65 L639.73 196.25 L639.82 194.82 L639.91 193.36 L640.01 191.85 L640.10 190.32 L640.20 188.75 L640.29 187.14 L640.38 185.50 L640.48 183.83 L640.57 182.13 L640.66 180.39 L640.76 178.63 L640.85 176.83 L640.94 175.00 L641.04 173.15 L641.13 171.26 L641.22 169.35 L641.32 167.41 L641.41 165.45 L641.50 163.46 L641.60 161.44 L641.69 159.41 L641.79 157.35 L641.88 155.27 L641.97 153.18 L642.07 151.06 L642.16 148.93 L642.25 146.78 L642.35 144.62 L642.44 142.45 L642.53 140.26 L642.63 138.07 L642.72 135.86 L642.81 133.65 L642.91 131.44 L643.00 129.22 L643.09 126.99 L643.19 124.77 L643.28 122.55 L643.38 120.33 L643.47 118.12 L643.56 115.91 L643.66 113.71 L643.75 111.51 L643.84 109.33 L643.94 107.16 L644.03 105.01 L644.12 102.87 L644.22 100.75 L644.31 98.65 L644.40 96.57 L644.50 94.51 L644.59 92.48 L644.68 90.47 L644.78 88.49 L644.87 86.55 L644.97 84.63 L645.06 82.74 L645.15 80.89 L645.25 79.08 L645.34 77.30 L645.43 75.56 L645.53 73.87 L645.62 72.21 L645.71 70.60 L645.81 69.03 L645.90 67.51 L645.99 66.04 L646.09 64.61 L646.18 63.24 L646.27 61.92 L646.37 60.65 L646.46 59.43 L646.56 58.27 L646.65 57.16 L646.74 56.11 L646.84 55.12 L646.93 54.19 L647.02 53.32 L647.12 52.50 L647.21 51.75 L647.30 51.06 L647.40 50.43 L647.49 49.87 L647.58 49.37 L647.68 48.93 L647.77 48.56 L647.86 48.25 L647.96 48.00 L648.05 47.82 L648.14 47.71 L648.24 47.66 L648.33 47.68 L648.43 47.76 L648.52 47.90 L648.61 48.12 L648.71 48.39 L648.80 48.73 L648.89 49.14 L648.99 49.61 L649.08 50.14 L649.17 50.73 L649.27 51.39 L649.36 52.11 L649.45 52.89 L649.55 53.73 L649.64 54.63 L649.73 55.59 L649.83 56.60 L649.92 57.68 L650.02 58.80 L650.11 59.99 L650.20 61.22 L650.30 62.51 L650.39 63.86 L650.48 65.25 L650.58 66.69 L650.67 68.17 L650.76 69.71 L650.86 71.29 L650.95 72.91 L651.04 74.58 L651.14 76.28 L651.23 78.03 L651.32 79.81 L651.42 81.63 L651.51 83.48 L651.61 85.37 L651.70 87.28 L651.79 89.23 L651.89 91.21 L651.98 93.21 L652.07 95.23 L652.17 97.28 L652.26 99.36 L652.35 101.45 L652.45 103.56 L652.54 105.68 L652.63 107.82 L652.73 109.98 L652.82 112.14 L652.91 114.31 L653.01 116.50 L653.10 118.69 L653.20 120.88 L653.29 123.08 L653.38 125.27 L653.48 127.47 L653.57 129.67 L653.66 131.86 L653.76 134.05 L653.85 136.24 L653.94 138.41 L654.04 140.58 L654.13 142.73 L654.22 144.88 L654.32 147.01 L654.41 149.12 L654.50 151.22 L654.60 153.31 L654.69 155.37 L654.79 157.42 L654.88 159.44 L654.97 161.44 L655.07 163.42 L655.16 165.38 L655.25 167.31 L655.35 169.22 L655.44 171.10 L655.53 172.95 L655.63 174.78 L655.72 176.57 L655.81 178.34 L655.91 180.07 L656.00 181.78 L656.09 183.45 L656.19 185.09 L656.28 186.70 L656.37 188.28 L656.47 189.82 L656.56 191.33 L656.66 192.81 L656.75 194.25 L656.84 195.66 L656.94 197.03 L657.03 198.37 L657.12 199.68 L657.22 200.95 L657.31 202.18 L657.40 203.38 L657.50 204.55 L657.59 205.68 L657.68 206.78 L657.78 207.85 L657.87 208.88 L657.96 209.87 L658.06 210.84 L658.15 211.77 L658.25 212.67 L658.34 213.54 L658.43 214.38 L658.53 215.18 L658.62 215.96 L658.71 216.70 L658.81 217.42 L658.90 218.10 L658.99 218.76 L659.09 219.39 L659.18 220.00 L659.27 220.57 L659.37 221.12 L659.46 221.65 L659.55 222.15 L659.65 222.63 L659.74 223.08 L659.84 223.51 L659.93 223.92 L660.02 224.31 L660.12 224.68 L660.21 225.03 L660.30 225.36 L660.40 225.67 L660.49 225.96 L660.58 226.24 L660.68 226.50 L660.77 226.74 L660.86 226.97 L660.96 227.19 L661.05 227.39 L661.14 227.57 L661.24 227.75 L661.33 227.91 L661.43 228.06 L661.52 228.20 L661.61 228.33 L661.71 228.44 L661.80 228.55 L661.89 228.65 L661.99 228.74 L662.08 228.82 L662.17 228.90 L662.27 228.96 L662.36 229.02 L662.45 229.07 L662.55 229.11 L662.64 229.15 L662.73 229.18 L662.83 229.20 L662.92 229.22 L663.02 229.23 L663.11 229.23 L663.20 229.23 L663.30 229.22 L663.39 229.21 L663.48 229.19 L663.58 229.16 L663.67 229.13 L663.76 229.09 L663.86 229.04 L663.95 228.98 L664.04 228.92 L664.14 228.85 L664.23 228.77 L664.32 228.68 L664.42 228.59 L664.51 228.48 L664.61 228.37 L664.70 228.24 L664.79 228.11 L664.89 227.96 L664.98 227.81 L665.07 227.64 L665.17 227.46 L665.26 227.26 L665.35 227.06 L665.45 226.83 L665.54 226.60 L665.63 226.34 L665.73 226.08 L665.82 225.79 L665.91 225.49 L666.01 225.17 L666.10 224.83 L666.19 224.47 L666.29 224.10 L666.38 223.70 L666.48 223.28 L666.57 222.84 L666.66 222.37 L666.76 221.89 L666.85 221.38 L666.94 220.84 L667.04 220.28 L667.13 219.69 L667.22 219.08 L667.32 218.44 L667.41 217.78 L667.50 217.08 L667.60 216.36 L667.69 215.61 L667.78 214.83 L667.88 214.02 L667.97 213.18 L668.07 212.30 L668.16 211.40 L668.25 210.47 L668.35 209.50 L668.44 208.50 L668.53 207.47 L668.63 206.40 L668.72 205.31 L668.81 204.18 L668.91 203.02 L669.00 201.82 L669.09 200.59 L669.19 199.33 L669.28 198.03 L669.37 196.70 L669.47 195.34 L669.56 193.95 L669.66 192.52 L669.75 191.06 L669.84 189.57 L669.94 188.05 L670.03 186.49 L670.12 184.91 L670.22 183.29 L670.31 181.64 L670.40 179.97 L670.50 178.26 L670.59 176.53 L670.68 174.77 L670.78 172.99 L670.87 171.17 L670.96 169.33 L671.06 167.47 L671.15 165.59 L671.25 163.68 L671.34 161.75 L671.43 159.80 L671.53 157.83 L671.62 155.84 L671.71 153.83 L671.81 151.81 L671.90 149.77 L671.99 147.72 L672.09 145.66 L672.18 143.59 L672.27 141.50 L672.37 139.41 L672.46 137.31 L672.55 135.21 L672.65 133.10 L672.74 130.99 L672.84 128.88 L672.93 126.76 L673.02 124.65 L673.12 122.54 L673.21 120.44 L673.30 118.35 L673.40 116.26 L673.49 114.18 L673.58 112.11 L673.68 110.06 L673.77 108.02 L673.86 105.99 L673.96 103.98 L674.05 102.00 L674.14 100.03 L674.24 98.08 L674.33 96.16 L674.42 94.27 L674.52 92.40 L674.61 90.56 L674.71 88.75 L674.80 86.97 L674.89 85.23 L674.99 83.51 L675.08 81.84 L675.17 80.20 L675.27 78.60 L675.36 77.04 L675.45 75.53 L675.55 74.05 L675.64 72.62 L675.73 71.24 L675.83 69.90 L675.92 68.61 L676.01 67.37 L676.11 66.18 L676.20 65.04 L676.30 63.95 L676.39 62.91 L676.48 61.93 L676.58 61.00 L676.67 60.13 L676.76 59.32 L676.86 58.56 L676.95 57.86 L677.04 57.22 L677.14 56.63 L677.23 56.11 L677.32 55.65 L677.42 55.24 L677.51 54.90 L677.60 54.62 L677.70 54.40 L677.79 54.24 L677.89 54.14 L677.98 54.11 L678.07 54.13 L678.17 54.22 L678.26 54.37 L678.35 54.58 L678.45 54.85 L678.54 55.18 L678.63 55.57 L678.73 56.02 L678.82 56.54 L678.91 57.11 L679.01 57.74 L679.10 58.43 L679.19 59.17 L679.29 59.98 L679.38 60.83 L679.48 61.75 L679.57 62.72 L679.66 63.74 L679.76 64.81 L679.85 65.94 L679.94 67.12 L680.04 68.34 L680.13 69.62 L680.22 70.94 L680.32 72.31 L680.41 73.72 L680.50 75.18 L680.60 76.68 L680.69 78.22 L680.78 79.80 L680.88 81.42 L680.97 83.08 L681.07 84.77 L681.16 86.50 L681.25 88.26 L681.35 90.05 L681.44 91.87 L681.53 93.71 L681.63 95.59 L681.72 97.49 L681.81 99.41 L681.91 101.36 L682.00 103.32 L682.09 105.31 L682.19 107.31 L682.28 109.33 L682.37 111.36 L682.47 113.41 L682.56 115.46 L682.66 117.53 L682.75 119.60 L682.84 121.68 L682.94 123.76 L683.03 125.85 L683.12 127.94 L683.22 130.03 L683.31 132.12 L683.40 134.20 L683.50 136.29 L683.59 138.36 L683.68 140.43 L683.78 142.49 L683.87 144.55 L683.96 146.59 L684.06 148.62 L684.15 150.63 L684.24 152.64 L684.34 154.62 L684.43 156.59 L684.53 158.54 L684.62 160.47 L684.71 162.39 L684.81 164.28 L684.90 166.15 L684.99 167.99 L685.09 169.82 L685.18 171.62 L685.27 173.39 L685.37 175.14 L685.46 176.86 L685.55 178.55 L685.65 180.22 L685.74 181.85 L685.83 183.46 L685.93 185.04 L686.02 186.58 L686.12 188.10 L686.21 189.59 L686.30 191.04 L686.40 192.47 L686.49 193.86 L686.58 195.22 L686.68 196.55 L686.77 197.84 L686.86 199.10 L686.96 200.34 L687.05 201.53 L687.14 202.70 L687.24 203.84 L687.33 204.94 L687.42 206.01 L687.52 207.05 L687.61 208.05 L687.71 209.03 L687.80 209.97 L687.89 210.89 L687.99 211.77 L688.08 212.62 L688.17 213.45 L688.27 214.24 L688.36 215.01 L688.45 215.74 L688.55 216.45 L688.64 217.13 L688.73 217.79 L688.83 218.42 L688.92 219.02 L689.01 219.60 L689.11 220.15 L689.20 220.68 L689.30 221.18 L689.39 221.67 L689.48 222.13 L689.58 222.56 L689.67 222.98 L689.76 223.38 L689.86 223.75 L689.95 224.11 L690.04 224.45 L690.14 224.77 L690.23 225.08 L690.32 225.36 L690.42 225.63 L690.51 225.89 L690.60 226.13 L690.70 226.35 L690.79 226.56 L690.89 226.76 L690.98 226.95 L691.07 227.12 L691.17 227.28 L691.26 227.43 L691.35 227.57 L691.45 227.69 L691.54 227.81 L691.63 227.92 L691.73 228.02 L691.82 228.11 L691.91 228.19 L692.01 228.26 L692.10 228.32 L692.19 228.38 L692.29 228.42 L692.38 228.46 L692.47 228.50 L692.57 228.52 L692.66 228.54 L692.76 228.55 L692.85 228.55 L692.94 228.55 L693.04 228.54 L693.13 228.52 L693.22 228.50 L693.32 228.46 L693.41 228.42 L693.50 228.38 L693.60 228.32 L693.69 228.26 L693.78 228.19 L693.88 228.11 L693.97 228.02 L694.06 227.92 L694.16 227.81 L694.25 227.70 L694.35 227.57 L694.44 227.43 L694.53 227.28 L694.63 227.12 L694.72 226.95 L694.81 226.77 L694.91 226.57 L695.00 226.36 L695.09 226.14 L695.19 225.90 L695.28 225.65 L695.37 225.38 L695.47 225.10 L695.56 224.80 L695.65 224.48 L695.75 224.14 L695.84 223.79 L695.94 223.42 L696.03 223.02 L696.12 222.61 L696.22 222.18 L696.31 221.72 L696.40 221.25 L696.50 220.75 L696.59 220.23 L696.68 219.68 L696.78 219.11 L696.87 218.52 L696.96 217.90 L697.06 217.26 L697.15 216.58 L697.24 215.89 L697.34 215.16 L697.43 214.41 L697.53 213.63 L697.62 212.82 L697.71 211.98 L697.81 211.12 L697.90 210.22 L697.99 209.29 L698.09 208.34 L698.18 207.35 L698.27 206.33 L698.37 205.29 L698.46 204.21 L698.55 203.10 L698.65 201.96 L698.74 200.79 L698.83 199.58 L698.93 198.35 L699.02 197.09 L699.12 195.79 L699.21 194.46 L699.30 193.11 L699.40 191.72 L699.49 190.30 L699.58 188.86 L699.68 187.38 L699.77 185.87 L699.86 184.34 L699.96 182.78 L700.05 181.19 L700.14 179.57 L700.24 177.93 L700.33 176.26 L700.42 174.56 L700.52 172.84 L700.61 171.10 L700.71 169.33 L700.80 167.54 L700.89 165.73 L700.99 163.90 L701.08 162.05 L701.17 160.18 L701.27 158.30 L701.36 156.39 L701.45 154.47 L701.55 152.54 L701.64 150.60 L701.73 148.64 L701.83 146.67 L701.92 144.69 L702.01 142.70 L702.11 140.71 L702.20 138.71 L702.29 136.71 L702.39 134.70 L702.48 132.69 L702.58 130.68 L702.67 128.67 L702.76 126.67 L702.86 124.67 L702.95 122.67 L703.04 120.68 L703.14 118.70 L703.23 116.73 L703.32 114.77 L703.42 112.82 L703.51 110.89 L703.60 108.97 L703.70 107.07 L703.79 105.19 L703.88 103.33 L703.98 101.49 L704.07 99.67 L704.17 97.88 L704.26 96.11 L704.35 94.38 L704.45 92.67 L704.54 90.99 L704.63 89.34 L704.73 87.73 L704.82 86.15 L704.91 84.61 L705.01 83.10 L705.10 81.63 L705.19 80.20 L705.29 78.82 L705.38 77.47 L705.47 76.17 L705.57 74.91 L705.66 73.70 L705.76 72.53 L705.85 71.42 L705.94 70.35 L706.04 69.33 L706.13 68.36 L706.22 67.44 L706.32 66.57 L706.41 65.75 L706.50 64.99 L706.60 64.29 L706.69 63.63 L706.78 63.04 L706.88 62.50 L706.97 62.01 L707.06 61.58 L707.16 61.21 L707.25 60.90 L707.35 60.64 L707.44 60.44 L707.53 60.30 L707.63 60.22 L707.72 60.19 L707.81 60.23 L707.91 60.32 L708.00 60.47 L708.09 60.68 L708.19 60.94 L708.28 61.27 L708.37 61.65 L708.47 62.08 L708.56 62.58 L708.65 63.13 L708.75 63.73 L708.84 64.39 L708.94 65.10 L709.03 65.87 L709.12 66.69 L709.22 67.56 L709.31 68.49 L709.40 69.46 L709.50 70.48 L709.59 71.56 L709.68 72.68 L709.78 73.84 L709.87 75.06 L709.96 76.31 L710.06 77.62 L710.15 78.96 L710.24 80.34 L710.34 81.77 L710.43 83.23 L710.53 84.74 L710.62 86.27 L710.71 87.85 L710.81 89.45 L710.90 91.09 L710.99 92.76 L711.09 94.46 L711.18 96.19 L711.27 97.94 L711.37 99.72 L711.46 101.53 L711.55 103.35 L711.65 105.20 L711.74 107.07 L711.83 108.95 L711.93 110.85 L712.02 112.77 L712.11 114.70 L712.21 116.64 L712.30 118.60 L712.40 120.56 L712.49 122.53 L712.58 124.50 L712.68 126.48 L712.77 128.47 L712.86 130.46 L712.96 132.44 L713.05 134.43 L713.14 136.41 L713.24 138.39 L713.33 140.37 L713.42 142.34 L713.52 144.30 L713.61 146.26 L713.70 148.20 L713.80 150.14 L713.89 152.06 L713.99 153.97 L714.08 155.86 L714.17 157.74 L714.27 159.60 L714.36 161.45 L714.45 163.27 L714.55 165.08 L714.64 166.87 L714.73 168.64 L714.83 170.38 L714.92 172.10 L715.01 173.80 L715.11 175.47 L715.20 177.12 L715.29 178.74 L715.39 180.34 L715.48 181.91 L715.58 183.46 L715.67 184.97 L715.76 186.46 L715.86 187.92 L715.95 189.35 L716.04 190.75 L716.14 192.13 L716.23 193.47 L716.32 194.78 L716.42 196.07 L716.51 197.32 L716.60 198.54 L716.70 199.73 L716.79 200.90 L716.88 202.03 L716.98 203.13 L717.07 204.20 L717.17 205.24 L717.26 206.26 L717.35 207.24 L717.45 208.19 L717.54 209.12 L717.63 210.01 L717.73 210.88 L717.82 211.71 L717.91 212.52 L718.01 213.31 L718.10 214.06 L718.19 214.79 L718.29 215.49 L718.38 216.17 L718.47 216.81 L718.57 217.44 L718.66 218.04 L718.76 218.62 L718.85 219.17 L718.94 219.70 L719.04 220.20 L719.13 220.69 L719.22 221.15 L719.32 221.59 L719.41 222.02 L719.50 222.42 L719.60 222.80 L719.69 223.17 L719.78 223.51 L719.88 223.84 L719.97 224.15 L720.06 224.45 L720.16 224.73 L720.25 224.99 L720.34 225.24 L720.44 225.47 L720.53 225.69 L720.63 225.90 L720.72 226.09 L720.81 226.27 L720.91 226.44 L721.00 226.60 L721.09 226.75 L721.19 226.88 L721.28 227.01 L721.37 227.12 L721.47 227.22 L721.56 227.32 L721.65 227.41 L721.75 227.48 L721.84 227.55 L721.93 227.61 L722.03 227.66 L722.12 227.70 L722.22 227.74 L722.31 227.76 L722.40 227.78 L722.50 227.79 L722.59 227.79 L722.68 227.79 L722.78 227.78 L722.87 227.75 L722.96 227.73 L723.06 227.69 L723.15 227.64 L723.24 227.59 L723.34 227.53 L723.43 227.46 L723.52 227.38 L723.62 227.29 L723.71 227.19 L723.81 227.09 L723.90 226.97 L723.99 226.84 L724.09 226.70 L724.18 226.55 L724.27 226.39 L724.37 226.22 L724.46 226.04 L724.55 225.84 L724.65 225.63 L724.74 225.41 L724.83 225.17 L724.93 224.92 L725.02 224.65 L725.11 224.37 L725.21 224.07 L725.30 223.76 L725.40 223.43 L725.49 223.08 L725.58 222.71 L725.68 222.33 L725.77 221.92 L725.86 221.50 L725.96 221.05 L726.05 220.59 L726.14 220.10 L726.24 219.60 L726.33 219.07 L726.42 218.51 L726.52 217.94 L726.61 217.34 L726.70 216.71 L726.80 216.07 L726.89 215.39 L726.99 214.69 L727.08 213.97 L727.17 213.22 L727.27 212.44 L727.36 211.64 L727.45 210.80 L727.55 209.94 L727.64 209.06 L727.73 208.14 L727.83 207.20 L727.92 206.23 L728.01 205.22 L728.11 204.19 L728.20 203.14 L728.29 202.05 L728.39 200.93 L728.48 199.78 L728.58 198.61 L728.67 197.41 L728.76 196.17 L728.86 194.91 L728.95 193.62 L729.04 192.30 L729.14 190.95 L729.23 189.58 L729.32 188.17 L729.42 186.74 L729.51 185.29 L729.60 183.80 L729.70 182.29 L729.79 180.76 L729.88 179.20 L729.98 177.61 L730.07 176.00 L730.16 174.37 L730.26 172.71 L730.35 171.04 L730.45 169.34 L730.54 167.62 L730.63 165.89 L730.73 164.13 L730.82 162.36 L730.91 160.57 L731.01 158.76 L731.10 156.94 L731.19 155.10 L731.29 153.25 L731.38 151.40 L731.47 149.53 L731.57 147.65 L731.66 145.76 L731.75 143.86 L731.85 141.96 L731.94 140.06 L732.04 138.15 L732.13 136.24 L732.22 134.33 L732.32 132.41 L732.41 130.51 L732.50 128.60 L732.60 126.70 L732.69 124.80 L732.78 122.91 L732.88 121.03 L732.97 119.16 L733.06 117.30 L733.16 115.46 L733.25 113.62 L733.34 111.81 L733.44 110.01 L733.53 108.23 L733.63 106.47 L733.72 104.73 L733.81 103.01 L733.91 101.32 L734.00 99.65 L734.09 98.01 L734.19 96.39 L734.28 94.81 L734.37 93.25 L734.47 91.73 L734.56 90.24 L734.65 88.79 L734.75 87.37 L734.84 85.99 L734.93 84.64 L735.03 83.34 L735.12 82.07 L735.22 80.84 L735.31 79.66 L735.40 78.52 L735.50 77.43 L735.59 76.38 L735.68 75.38 L735.78 74.42 L735.87 73.51 L735.96 72.65 L736.06 71.84 L736.15 71.08 L736.24 70.37 L736.34 69.71 L736.43 69.10 L736.52 68.54 L736.62 68.04 L736.71 67.59 L736.81 67.19 L736.90 66.85 L736.99 66.56 L737.09 66.33 L737.18 66.15 L737.27 66.03 L737.37 65.96 L737.46 65.95 L737.55 65.99 L737.65 66.08 L737.74 66.23 L737.83 66.44 L737.93 66.70 L738.02 67.01 L738.11 67.38 L738.21 67.80 L738.30 68.28 L738.39 68.81 L738.49 69.39 L738.58 70.02 L738.68 70.70 L738.77 71.43 L738.86 72.22 L738.96 73.05 L739.05 73.93 L739.14 74.86 L739.24 75.83 L739.33 76.86 L739.42 77.92 L739.52 79.03 L739.61 80.19 L739.70 81.38 L739.80 82.62 L739.89 83.90 L739.98 85.22 L740.08 86.57 L740.17 87.96 L740.27 89.39 L740.36 90.85 L740.45 92.34 L740.55 93.87 L740.64 95.43 L740.73 97.01 L740.83 98.63 L740.92 100.27 L741.01 101.94 L741.11 103.63 L741.20 105.34 L741.29 107.08 L741.39 108.83 L741.48 110.60 L741.57 112.39 L741.67 114.20 L741.76 116.02 L741.86 117.85 L741.95 119.70 L742.04 121.56 L742.14 123.42 L742.23 125.29 L742.32 127.17 L742.42 129.06 L742.51 130.94 L742.60 132.83 L742.70 134.72 L742.79 136.61 L742.88 138.50 L742.98 140.39 L743.07 142.27 L743.16 144.14 L743.26 146.01 L743.35 147.88 L743.45 149.73 L743.54 151.57 L743.63 153.41 L743.73 155.23 L743.82 157.03 L743.91 158.83 L744.01 160.60 L744.10 162.37 L744.19 164.11 L744.29 165.84 L744.38 167.55 L744.47 169.24 L744.57 170.90 L744.66 172.55 L744.75 174.18 L744.85 175.78 L744.94 177.36 L745.04 178.92 L745.13 180.45 L745.22 181.96 L745.32 183.44 L745.41 184.90 L745.50 186.33 L745.60 187.74 L745.69 189.12 L745.78 190.47 L745.88 191.79 L745.97 193.09 L746.06 194.35 L746.16 195.59 L746.25 196.80 L746.34 197.99 L746.44 199.14 L746.53 200.27 L746.63 201.37 L746.72 202.44 L746.81 203.48 L746.91 204.49 L747.00 205.48 L747.09 206.44 L747.19 207.37 L747.28 208.27 L747.37 209.15 L747.47 209.99 L747.56 210.81 L747.65 211.61 L747.75 212.38 L747.84 213.12 L747.93 213.84 L748.03 214.53 L748.12 215.20 L748.21 215.84 L748.31 216.46 L748.40 217.06 L748.50 217.63 L748.59 218.18 L748.68 218.71 L748.78 219.21 L748.87 219.70 L748.96 220.17 L749.06 220.61 L749.15 221.03 L749.24 221.44 L749.34 221.83 L749.43 222.20 L749.52 222.55 L749.62 222.88 L749.71 223.20 L749.80 223.50 L749.90 223.79 L749.99 224.06 L750.09 224.31 L750.18 224.55 L750.27 224.78 L750.37 224.99 L750.46 225.19 L750.55 225.38 L750.65 225.56 L750.74 225.72 L750.83 225.87 L750.93 226.02 L751.02 226.15 L751.11 226.27 L751.21 226.38 L751.30 226.48 L751.39 226.56 L751.49 226.65 L751.58 226.72 L751.68 226.78 L751.77 226.83 L751.86 226.87 L751.96 226.91 L752.05 226.94 L752.14 226.96 L752.24 226.97 L752.33 226.97 L752.42 226.96 L752.52 226.94 L752.61 226.92 L752.70 226.89 L752.80 226.85 L752.89 226.80 L752.98 226.74 L753.08 226.67 L753.17 226.59 L753.27 226.51 L753.36 226.41 L753.45 226.31 L753.55 226.19 L753.64 226.06 L753.73 225.93 L753.83 225.78 L753.92 225.62 L754.01 225.45 L754.11 225.27 L754.20 225.07 L754.29 224.86 L754.39 224.64 L754.48 224.41 L754.57 224.16 L754.67 223.89 L754.76 223.62 L754.86 223.32 L754.95 223.01 L755.04 222.69 L755.14 222.35 L755.23 221.99 L755.32 221.61 L755.42 221.21 L755.51 220.80 L755.60 220.37 L755.70 219.91 L755.79 219.44 L755.88 218.95 L755.98 218.43 L756.07 217.90 L756.16 217.34 L756.26 216.76 L756.35 216.16 L756.44 215.53 L756.54 214.88 L756.63 214.21 L756.73 213.51 L756.82 212.79 L756.91 212.04 L757.01 211.27 L757.10 210.47 L757.19 209.64 L757.29 208.79 L757.38 207.92 L757.47 207.01 L757.57 206.08 L757.66 205.13 L757.75 204.14 L757.85 203.13 L757.94 202.09 L758.03 201.03 L758.13 199.93 L758.22 198.81 L758.32 197.67 L758.41 196.49 L758.50 195.29 L758.60 194.06 L758.69 192.81 L758.78 191.52 L758.88 190.22 L758.97 188.88 L759.06 187.52 L759.16 186.14 L759.25 184.73 L759.34 183.29 L759.44 181.83 L759.53 180.35 L759.62 178.84 L759.72 177.32 L759.81 175.77 L759.91 174.20 L760.00 172.60 L760.09 170.99 L760.19 169.36 L760.28 167.71 L760.37 166.04 L760.47 164.36 L760.56 162.66 L760.65 160.94 L760.75 159.21 L760.84 157.47 L760.93 155.72 L761.03 153.95 L761.12 152.17 L761.21 150.39 L761.31 148.59 L761.40 146.79 L761.50 144.98 L761.59 143.17 L761.68 141.35 L761.78 139.54 L761.87 137.72 L761.96 135.90 L762.06 134.08 L762.15 132.26 L762.24 130.45 L762.34 128.64 L762.43 126.84 L762.52 125.05 L762.62 123.26 L762.71 121.49 L762.80 119.73 L762.90 117.98 L762.99 116.24 L763.09 114.52 L763.18 112.81 L763.27 111.13 L763.37 109.46 L763.46 107.81 L763.55 106.19 L763.65 104.59 L763.74 103.01 L763.83 101.46 L763.93 99.94 L764.02 98.44 L764.11 96.97 L764.21 95.54 L764.30 94.13 L764.39 92.76 L764.49 91.42 L764.58 90.12 L764.68 88.85 L764.77 87.62 L764.86 86.43 L764.96 85.28 L765.05 84.17 L765.14 83.10 L765.24 82.07 L765.33 81.08 L765.42 80.14 L765.52 79.24 L765.61 78.39 L765.70 77.59 L765.80 76.83 L765.89 76.11 L765.98 75.45 L766.08 74.83 L766.17 74.27 L766.26 73.75 L766.36 73.28 L766.45 72.87 L766.55 72.50 L766.64 72.19 L766.73 71.92 L766.83 71.71 L766.92 71.55 L767.01 71.44 L767.11 71.39 L767.20 71.38 L767.29 71.43 L767.39 71.53 L767.48 71.68 L767.57 71.88 L767.67 72.14 L767.76 72.44 L767.85 72.80 L767.95 73.21 L768.04 73.66 L768.14 74.17 L768.23 74.73 L768.32 75.33 L768.42 75.99 L768.51 76.69 L768.60 77.44 L768.70 78.23 L768.79 79.07 L768.88 79.96 L768.98 80.89 L769.07 81.86 L769.16 82.88 L769.26 83.93 L769.35 85.03 L769.44 86.17 L769.54 87.35 L769.63 88.56 L769.73 89.82 L769.82 91.10 L769.91 92.43 L770.01 93.78 L770.10 95.17 L770.19 96.59 L770.29 98.04 L770.38 99.52 L770.47 101.03 L770.57 102.56 L770.66 104.12 L770.75 105.71 L770.85 107.31 L770.94 108.94 L771.03 110.59 L771.13 112.26 L771.22 113.94 L771.32 115.64 L771.41 117.36 L771.50 119.09 L771.60 120.83 L771.69 122.59 L771.78 124.35 L771.88 126.13 L771.97 127.91 L772.06 129.69 L772.16 131.48 L772.25 133.28 L772.34 135.08 L772.44 136.88 L772.53 138.68 L772.62 140.47 L772.72 142.27 L772.81 144.06 L772.91 145.85 L773.00 147.63 L773.09 149.41 L773.19 151.17 L773.28 152.93 L773.37 154.68 L773.47 156.41 L773.56 158.14 L773.65 159.85 L773.75 161.55 L773.84 163.23 L773.93 164.90 L774.03 166.55 L774.12 168.18 L774.21 169.80 L774.31 171.40 L774.40 172.98 L774.49 174.53 L774.59 176.07 L774.68 177.59 L774.78 179.08 L774.87 180.55 L774.96 182.00 L775.06 183.42 L775.15 184.82 L775.24 186.20 L775.34 187.55 L775.43 188.88 L775.52 190.18 L775.62 191.46 L775.71 192.71 L775.80 193.93 L775.90 195.13 L775.99 196.30 L776.08 197.44 L776.18 198.56 L776.27 199.65 L776.37 200.72 L776.46 201.76 L776.55 202.77 L776.65 203.76 L776.74 204.72 L776.83 205.65 L776.93 206.56 L777.02 207.44 L777.11 208.29 L777.21 209.12 L777.30 209.93 L777.39 210.71 L777.49 211.46 L777.58 212.19 L777.67 212.90 L777.77 213.58 L777.86 214.24 L777.96 214.87 L778.05 215.48 L778.14 216.07 L778.24 216.64 L778.33 217.19 L778.42 217.71 L778.52 218.22 L778.61 218.70 L778.70 219.17 L778.80 219.61 L778.89 220.04 L778.98 220.45 L779.08 220.84 L779.17 221.21 L779.26 221.56 L779.36 221.90 L779.45 222.22 L779.55 222.53 L779.64 222.82 L779.73 223.09 L779.83 223.35 L779.92 223.60 L780.01 223.83 L780.11 224.05 L780.20 224.26 L780.29 224.45 L780.39 224.63 L780.48 224.80 L780.57 224.96 L780.67 225.10 L780.76 225.24 L780.85 225.36 L780.95 225.48 L781.04 225.58 L781.14 225.67 L781.23 225.76 L781.32 225.83 L781.42 225.89 L781.51 225.95 L781.60 225.99 L781.70 226.03 L781.79 226.06 L781.88 226.07 L781.98 226.08 L782.07 226.08 L782.16 226.07 L782.26 226.06 L782.35 226.03 L782.44 225.99 L782.54 225.95 L782.63 225.89 L782.73 225.83 L782.82 225.76 L782.91 225.67 L783.01 225.58 L783.10 225.48 L783.19 225.37 L783.29 225.24 L783.38 225.11 L783.47 224.96 L783.57 224.81 L783.66 224.64 L783.75 224.46 L783.85 224.27 L783.94 224.06 L784.03 223.84 L784.13 223.61 L784.22 223.37 L784.31 223.11 L784.41 222.84 L784.50 222.55 L784.60 222.25 L784.69 221.93 L784.78 221.59 L784.88 221.24 L784.97 220.87 L785.06 220.49 L785.16 220.08 L785.25 219.66 L785.34 219.22 L785.44 218.76 L785.53 218.28 L785.62 217.78 L785.72 217.27 L785.81 216.73 L785.90 216.16 L786.00 215.58 L786.09 214.98 L786.19 214.35 L786.28 213.70 L786.37 213.03 L786.47 212.34 L786.56 211.62 L786.65 210.88 L786.75 210.11 L786.84 209.32 L786.93 208.50 L787.03 207.66 L787.12 206.80 L787.21 205.91 L787.31 204.99 L787.40 204.05 L787.49 203.09 L787.59 202.10 L787.68 201.08 L787.78 200.04 L787.87 198.97 L787.96 197.87 L788.06 196.75 L788.15 195.61 L788.24 194.44 L788.34 193.24 L788.43 192.02 L788.52 190.78 L788.62 189.51 L788.71 188.22 L788.80 186.90 L788.90 185.56 L788.99 184.19 L789.08 182.81 L789.18 181.40 L789.27 179.97 L789.37 178.52 L789.46 177.04 L789.55 175.55 L789.65 174.04 L789.74 172.51 L789.83 170.96 L789.93 169.39 L790.02 167.81 L790.11 166.21 L790.21 164.59 L790.30 162.96 L790.39 161.32 L790.49 159.66 L790.58 157.99 L790.67 156.31 L790.77 154.62 L790.86 152.93 L790.96 151.22 L791.05 149.51 L791.14 147.79 L791.24 146.06 L791.33 144.34 L791.42 142.61 L791.52 140.87 L791.61 139.14 L791.70 137.41 L791.80 135.68 L791.89 133.95 L791.98 132.23 L792.08 130.51 L792.17 128.80 L792.26 127.09 L792.36 125.40 L792.45 123.72 L792.55 122.04 L792.64 120.38 L792.73 118.74 L792.83 117.11 L792.92 115.49 L793.01 113.89 L793.11 112.32 L793.20 110.76 L793.29 109.22 L793.39 107.71 L793.48 106.21 L793.57 104.75 L793.67 103.31 L793.76 101.89 L793.85 100.51 L793.95 99.15 L794.04 97.83 L794.13 96.53 L794.23 95.27 L794.32 94.04 L794.42 92.85 L794.51 91.69 L794.60 90.57 L794.70 89.49 L794.79 88.44 L794.88 87.43 L794.98 86.47 L795.07 85.54 L795.16 84.66 L795.26 83.82 L795.35 83.02 L795.44 82.26 L795.54 81.55 L795.63 80.89 L795.72 80.26 L795.82 79.69 L795.91 79.16 L796.01 78.68 L796.10 78.25 L796.19 77.86 L796.29 77.52 L796.38 77.24 L796.47 76.99 L796.57 76.80 L796.66 76.66 L796.75 76.56 L796.85 76.52 L796.94 76.52 L797.03 76.58 L797.13 76.68 L797.22 76.83 L797.31 77.03 L797.41 77.28 L797.50 77.57 L797.60 77.92 L797.69 78.31 L797.78 78.75 L797.88 79.24 L797.97 79.77 L798.06 80.35 L798.16 80.98 L798.25 81.65 L798.34 82.36 L798.44 83.12 L798.53 83.93 L798.62 84.77 L798.72 85.66 L798.81 86.59 L798.90 87.55 L799.00 88.56 L799.09 89.61 L799.19 90.69 L799.28 91.81 L799.37 92.97 L799.47 94.16 L799.56 95.38 L799.65 96.64 L799.75 97.93 L799.84 99.25 L799.93 100.60 L800.03 101.98 L800.12 103.39 L800.21 104.82 L800.31 106.28 L800.40 107.76 L800.49 109.27 L800.59 110.79 L800.68 112.34 L800.78 113.91 L800.87 115.49 L800.96 117.10 L801.06 118.71 L801.15 120.35 L801.24 121.99 L801.34 123.65 L801.43 125.32 L801.52 127.00 L801.62 128.68 L801.71 130.38 L801.80 132.08 L801.90 133.78 L801.99 135.49 L802.08 137.20 L802.18 138.91 L802.27 140.63 L802.36 142.34 L802.46 144.05 L802.55 145.76 L802.65 147.46 L802.74 149.16 L802.83 150.85 L802.93 152.53 L803.02 154.21 L803.11 155.88 L803.21 157.54 L803.30 159.18 L803.39 160.82 L803.49 162.44 L803.58 164.05 L803.67 165.64 L803.77 167.22 L803.86 168.78 L803.95 170.33 L804.05 171.86 L804.14 173.37 L804.24 174.86 L804.33 176.33 L804.42 177.79 L804.52 179.22 L804.61 180.63 L804.70 182.02 L804.80 183.39 L804.89 184.74 L804.98 186.06 L805.08 187.36 L805.17 188.64 L805.26 189.89 L805.36 191.12 L805.45 192.33 L805.54 193.51 L805.64 194.67 L805.73 195.80 L805.83 196.91 L805.92 197.99 L806.01 199.05 L806.11 200.08 L806.20 201.09 L806.29 202.07 L806.39 203.03 L806.48 203.96 L806.57 204.87 L806.67 205.76 L806.76 206.62 L806.85 207.45 L806.95 208.26 L807.04 209.05 L807.13 209.81 L807.23 210.55 L807.32 211.27 L807.42 211.96 L807.51 212.63 L807.60 213.28 L807.70 213.91 L807.79 214.51 L807.88 215.09 L807.98 215.66 L808.07 216.20 L808.16 216.72 L808.26 217.22 L808.35 217.70 L808.44 218.17 L808.54 218.61 L808.63 219.04 L808.72 219.44 L808.82 219.83 L808.91 220.21 L809.01 220.56 L809.10 220.90 L809.19 221.23 L809.29 221.54 L809.38 221.83 L809.47 222.11 L809.57 222.37 L809.66 222.62 L809.75 222.86 L809.85 223.08 L809.94 223.29 L810.03 223.49 L810.13 223.67 L810.22 223.85 L810.31 224.01 L810.41 224.16 L810.50 224.29 L810.60 224.42 L810.69 224.54 L810.78 224.64 L810.88 224.74 L810.97 224.82 L811.06 224.90 L811.16 224.96 L811.25 225.02 L811.34 225.06 L811.44 225.10 L811.53 225.13 L811.62 225.14 L811.72 225.15 L811.81 225.15 L811.90 225.14 L812.00 225.12 L812.09 225.09 L812.18 225.05 L812.28 225.00 L812.37 224.94 L812.47 224.88 L812.56 224.80 L812.65 224.71 L812.75 224.61 L812.84 224.50 L812.93 224.38 L813.03 224.25 L813.12 224.11 L813.21 223.96 L813.31 223.79 L813.40 223.62 L813.49 223.43 L813.59 223.23 L813.68 223.02 L813.77 222.79 L813.87 222.55 L813.96 222.30 L814.06 222.03 L814.15 221.75 L814.24 221.46 L814.34 221.15 L814.43 220.82 L814.52 220.48 L814.62 220.12 L814.71 219.74 L814.80 219.35 L814.90 218.94 L814.99 218.51 L815.08 218.07 L815.18 217.60 L815.27 217.12 L815.36 216.62 L815.46 216.10 L815.55 215.56 L815.65 214.99 L815.74 214.41 L815.83 213.81 L815.93 213.18 L816.02 212.54 L816.11 211.87 L816.21 211.18 L816.30 210.47 L816.39 209.73 L816.49 208.97 L816.58 208.19 L816.67 207.39 L816.77 206.56 L816.86 205.71 L816.95 204.83 L817.05 203.93 L817.14 203.01 L817.24 202.06 L817.33 201.09 L817.42 200.09 L817.52 199.08 L817.61 198.03 L817.70 196.96 L817.80 195.87 L817.89 194.76 L817.98 193.62 L818.08 192.46 L818.17 191.27 L818.26 190.07 L818.36 188.83 L818.45 187.58 L818.54 186.31 L818.64 185.01 L818.73 183.69 L818.83 182.35 L818.92 180.99 L819.01 179.61 L819.11 178.21 L819.20 176.79 L819.29 175.35 L819.39 173.90 L819.48 172.42 L819.57 170.93 L819.67 169.43 L819.76 167.91 L819.85 166.37 L819.95 164.82 L820.04 163.26 L820.13 161.69 L820.23 160.10 L820.32 158.50 L820.41 156.90 L820.51 155.28 L820.60 153.66 L820.70 152.03 L820.79 150.39 L820.88 148.75 L820.98 147.11 L821.07 145.46 L821.16 143.81 L821.26 142.16 L821.35 140.51 L821.44 138.86 L821.54 137.21 L821.63 135.57 L821.72 133.93 L821.82 132.30 L821.91 130.67 L822.00 129.05 L822.10 127.44 L822.19 125.85 L822.29 124.26 L822.38 122.68 L822.47 121.12 L822.57 119.58 L822.66 118.05 L822.75 116.53 L822.85 115.04 L822.94 113.56 L823.03 112.11 L823.13 110.67 L823.22 109.26 L823.31 107.88 L823.41 106.52 L823.50 105.18 L823.59 103.87 L823.69 102.59 L823.78 101.34 L823.88 100.12 L823.97 98.93 L824.06 97.77 L824.16 96.65 L824.25 95.56 L824.34 94.50 L824.44 93.48 L824.53 92.50 L824.62 91.55 L824.72 90.64 L824.81 89.77 L824.90 88.94 L825.00 88.15 L825.09 87.40 L825.18 86.69 L825.28 86.03 L825.37 85.41 L825.47 84.83 L825.56 84.29 L825.65 83.80 L825.75 83.35 L825.84 82.95 L825.93 82.59 L826.03 82.28 L826.12 82.01 L826.21 81.79 L826.31 81.62 L826.40 81.49 L826.49 81.41 L826.59 81.37 L826.68 81.38 L826.77 81.44 L826.87 81.55 L826.96 81.70 L827.06 81.89 L827.15 82.14 L827.24 82.42 L827.34 82.76 L827.43 83.14 L827.52 83.56 L827.62 84.03 L827.71 84.54 L827.80 85.10 L827.90 85.70 L827.99 86.34 L828.08 87.02 L828.18 87.75 L828.27 88.51 L828.36 89.32 L828.46 90.17 L828.55 91.05 L828.65 91.97 L828.74 92.93 L828.83 93.93 L828.93 94.96 L829.02 96.03 L829.11 97.13 L829.21 98.26 L829.30 99.43 L829.39 100.63 L829.49 101.85 L829.58 103.11 L829.67 104.39 L829.77 105.70 L829.86 107.04 L829.95 108.41 L830.05 109.79 L830.14 111.20 L830.23 112.63 L830.33 114.08 L830.42 115.56 L830.52 117.05 L830.61 118.55 L830.70 120.08 L830.80 121.62 L830.89 123.17 L830.98 124.73 L831.08 126.31 L831.17 127.90 L831.26 129.49 L831.36 131.10 L831.45 132.71 L831.54 134.33 L831.64 135.95 L831.73 137.58 L831.82 139.21 L831.92 140.84 L832.01 142.47 L832.11 144.10 L832.20 145.73 L832.29 147.36 L832.39 148.98 L832.48 150.60 L832.57 152.22 L832.67 153.82 L832.76 155.42 L832.85 157.01 L832.95 158.60 L833.04 160.17 L833.13 161.73 L833.23 163.28 L833.32 164.82 L833.41 166.34 L833.51 167.85 L833.60 169.35 L833.70 170.83 L833.79 172.29 L833.88 173.74 L833.98 175.17 L834.07 176.58 L834.16 177.97 L834.26 179.35 L834.35 180.70 L834.44 182.04 L834.54 183.35 L834.63 184.65 L834.72 185.92 L834.82 187.17 L834.91 188.40 L835.00 189.61 L835.10 190.80 L835.19 191.96 L835.29 193.10 L835.38 194.22 L835.47 195.31 L835.57 196.38 L835.66 197.43 L835.75 198.46 L835.85 199.46 L835.94 200.43 L836.03 201.39 L836.13 202.32 L836.22 203.22 L836.31 204.11 L836.41 204.97 L836.50 205.81 L836.59 206.62 L836.69 207.41 L836.78 208.18 L836.88 208.93 L836.97 209.65 L837.06 210.35 L837.16 211.03 L837.25 211.69 L837.34 212.33 L837.44 212.95 L837.53 213.54 L837.62 214.12 L837.72 214.67 L837.81 215.21 L837.90 215.73 L838.00 216.22 L838.09 216.70 L838.18 217.16 L838.28 217.60 L838.37 218.03 L838.46 218.43 L838.56 218.82 L838.65 219.20 L838.75 219.55 L838.84 219.89 L838.93 220.22 L839.03 220.53 L839.12 220.82 L839.21 221.10 L839.31 221.37 L839.40 221.62 L839.49 221.86 L839.59 222.09 L839.68 222.30 L839.77 222.50 L839.87 222.69 L839.96 222.86 L840.05 223.02 L840.15 223.18 L840.24 223.32 L840.34 223.45 L840.43 223.56 L840.52 223.67 L840.62 223.77 L840.71 223.85 L840.80 223.93 L840.90 224.00 L840.99 224.05 L841.08 224.10 L841.18 224.13 L841.27 224.16 L841.36 224.17 L841.46 224.18 L841.55 224.18 L841.64 224.17 L841.74 224.14 L841.83 224.11 L841.93 224.07 L842.02 224.02 L842.11 223.95 L842.21 223.88 L842.30 223.80 L842.39 223.71 L842.49 223.60 L842.58 223.49 L842.67 223.36 L842.77 223.23 L842.86 223.08 L842.95 222.92 L843.05 222.75 L843.14 222.57 L843.23 222.37 L843.33 222.17 L843.42 221.95 L843.52 221.72 L843.61 221.47 L843.70 221.21 L843.80 220.94 L843.89 220.65 L843.98 220.35 L844.08 220.03 L844.17 219.70 L844.26 219.35 L844.36 218.98 L844.45 218.60 L844.54 218.21 L844.64 217.79 L844.73 217.36 L844.82 216.91 L844.92 216.44 L845.01 215.96 L845.11 215.46 L845.20 214.93 L845.29 214.39 L845.39 213.83 L845.48 213.25 L845.57 212.65 L845.67 212.03 L845.76 211.38 L845.85 210.72 L845.95 210.04 L846.04 209.33 L846.13 208.60 L846.23 207.85 L846.32 207.08 L846.41 206.29 L846.51 205.48 L846.60 204.64 L846.70 203.78 L846.79 202.90 L846.88 201.99 L846.98 201.06 L847.07 200.11 L847.16 199.14 L847.26 198.15 L847.35 197.13 L847.44 196.09 L847.54 195.02 L847.63 193.94 L847.72 192.83 L847.82 191.70 L847.91 190.55 L848.00 189.38 L848.10 188.19 L848.19 186.97 L848.28 185.74 L848.38 184.48 L848.47 183.21 L848.57 181.92 L848.66 180.60 L848.75 179.27 L848.85 177.92 L848.94 176.56 L849.03 175.17 L849.13 173.77 L849.22 172.35 L849.31 170.92 L849.41 169.48 L849.50 168.02 L849.59 166.54 L849.69 165.06 L849.78 163.56 L849.87 162.05 L849.97 160.53 L850.06 159.00 L850.16 157.47 L850.25 155.92 L850.34 154.37 L850.44 152.81 L850.53 151.25 L850.62 149.69 L850.72 148.12 L850.81 146.54 L850.90 144.97 L851.00 143.40 L851.09 141.83 L851.18 140.26 L851.28 138.69 L851.37 137.12 L851.46 135.57 L851.56 134.01 L851.65 132.47 L851.75 130.93 L851.84 129.40 L851.93 127.88 L852.03 126.38 L852.12 124.88 L852.21 123.40 L852.31 121.94 L852.40 120.48 L852.49 119.05 L852.59 117.63 L852.68 116.24 L852.77 114.86 L852.87 113.50 L852.96 112.17 L853.05 110.86 L853.15 109.57 L853.24 108.31 L853.34 107.07 L853.43 105.86 L853.52 104.68 L853.62 103.53 L853.71 102.41 L853.80 101.32 L853.90 100.26 L853.99 99.23 L854.08 98.23 L854.18 97.27 L854.27 96.35 L854.36 95.45 L854.46 94.60 L854.55 93.78 L854.64 93.00 L854.74 92.26 L854.83 91.56 L854.93 90.90 L855.02 90.27 L855.11 89.69 L855.21 89.15 L855.30 88.65 L855.39 88.19 L855.49 87.77 L855.58 87.40 L855.67 87.07 L855.77 86.78 L855.86 86.53 L855.95 86.33 L856.05 86.18 L856.14 86.06 L856.23 85.99 L856.33 85.97 L856.42 85.99 L856.52 86.05 L856.61 86.15 L856.70 86.30 L856.80 86.50 L856.89 86.73 L856.98 87.01 L857.08 87.34 L857.17 87.70 L857.26 88.11 L857.36 88.56 L857.45 89.05 L857.54 89.58 L857.64 90.16 L857.73 90.77 L857.82 91.43 L857.92 92.12 L858.01 92.85 L858.10 93.62 L858.20 94.43 L858.29 95.27 L858.39 96.15 L858.48 97.07 L858.57 98.01 L858.67 99.00 L858.76 100.01 L858.85 101.06 L858.95 102.14 L859.04 103.25 L859.13 104.39 L859.23 105.56 L859.32 106.75 L859.41 107.98 L859.51 109.22 L859.60 110.50 L859.69 111.79 L859.79 113.11 L859.88 114.45 L859.98 115.81 L860.07 117.19 L860.16 118.59 L860.26 120.01 L860.35 121.45 L860.44 122.90 L860.54 124.36 L860.63 125.84 L860.72 127.33 L860.82 128.83 L860.91 130.34 L861.00 131.86 L861.10 133.38 L861.19 134.92 L861.28 136.46 L861.38 138.00 L861.47 139.55 L861.57 141.11 L861.66 142.66 L861.75 144.21 L861.85 145.77 L861.94 147.32 L862.03 148.87 L862.13 150.42 L862.22 151.97 L862.31 153.51 L862.41 155.04 L862.50 156.57 L862.59 158.09 L862.69 159.60 L862.78 161.10 L862.87 162.59 L862.97 164.07 L863.06 165.54 L863.16 167.00 L863.25 168.44 L863.34 169.88 L863.44 171.29 L863.53 172.69 L863.62 174.08 L863.72 175.45 L863.81 176.81 L863.90 178.14 L864.00 179.46 L864.09 180.76 L864.18 182.05 L864.28 183.31 L864.37 184.55 L864.46 185.78 L864.56 186.98 L864.65 188.17 L864.75 189.33 L864.84 190.47 L864.93 191.60 L865.03 192.70 L865.12 193.77 L865.21 194.83 L865.31 195.87 L865.40 196.88 L865.49 197.87 L865.59 198.84 L865.68 199.79 L865.77 200.71 L865.87 201.62 L865.96 202.50 L866.05 203.36 L866.15 204.20 L866.24 205.01 L866.33 205.80 L866.43 206.58 L866.52 207.33 L866.62 208.06 L866.71 208.77 L866.80 209.45 L866.90 210.12 L866.99 210.77 L867.08 211.39 L867.18 212.00 L867.27 212.58 L867.36 213.15 L867.46 213.70 L867.55 214.23 L867.64 214.74 L867.74 215.23 L867.83 215.70 L867.92 216.16 L868.02 216.59 L868.11 217.02 L868.21 217.42 L868.30 217.81 L868.39 218.18 L868.49 218.54 L868.58 218.88 L868.67 219.20 L868.77 219.51 L868.86 219.81 L868.95 220.09 L869.05 220.35 L869.14 220.61 L869.23 220.85 L869.33 221.07 L869.42 221.29 L869.51 221.49 L869.61 221.68 L869.70 221.85 L869.80 222.02 L869.89 222.17 L869.98 222.31 L870.08 222.44 L870.17 222.56 L870.26 222.67 L870.36 222.77 L870.45 222.85 L870.54 222.93 L870.64 223.00 L870.73 223.05 L870.82 223.10 L870.92 223.13 L871.01 223.16 L871.10 223.17 L871.20 223.18 L871.29 223.17 L871.39 223.16 L871.48 223.13 L871.57 223.10 L871.67 223.05 L871.76 223.00 L871.85 222.93 L871.95 222.86 L872.04 222.77 L872.13 222.67 L872.23 222.56 L872.32 222.45 L872.41 222.32 L872.51 222.18 L872.60 222.02 L872.69 221.86 L872.79 221.68 L872.88 221.50 L872.98 221.30 L873.07 221.08 L873.16 220.86 L873.26 220.62 L873.35 220.37 L873.44 220.10 L873.54 219.82 L873.63 219.53 L873.72 219.22 L873.82 218.90 L873.91 218.56 L874.00 218.21 L874.10 217.84 L874.19 217.46 L874.28 217.06 L874.38 216.64 L874.47 216.21 L874.57 215.76 L874.66 215.29 L874.75 214.80 L874.85 214.30 L874.94 213.78 L875.03 213.24 L875.13 212.68 L875.22 212.10 L875.31 211.50 L875.41 210.88 L875.50 210.25 L875.59 209.59 L875.69 208.91 L875.78 208.22 L875.87 207.50 L875.97 206.76 L876.06 206.00 L876.15 205.22 L876.25 204.42 L876.34 203.60 L876.44 202.75 L876.53 201.89 L876.62 201.00 L876.72 200.09 L876.81 199.17 L876.90 198.22 L877.00 197.24 L877.09 196.25 L877.18 195.24 L877.28 194.20 L877.37 193.15 L877.46 192.07 L877.56 190.98 L877.65 189.86 L877.74 188.73 L877.84 187.57 L877.93 186.39 L878.03 185.20 L878.12 183.99 L878.21 182.76 L878.31 181.51 L878.40 180.24 L878.49 178.96 L878.59 177.65 L878.68 176.34 L878.77 175.01 L878.87 173.66 L878.96 172.30 L879.05 170.92 L879.15 169.53 L879.24 168.13 L879.33 166.72 L879.43 165.29 L879.52 163.86 L879.62 162.41 L879.71 160.96 L879.80 159.49 L879.90 158.02 L879.99 156.55 L880.08 155.06 L880.18 153.57 L880.27 152.08 L880.36 150.59 L880.46 149.09 L880.55 147.59 L880.64 146.09 L880.74 144.59 L880.83 143.09 L880.92 141.60 L881.02 140.11 L881.11 138.62 L881.21 137.13 L881.30 135.66 L881.39 134.19 L881.49 132.73 L881.58 131.27 L881.67 129.83 L881.77 128.40 L881.86 126.98 L881.95 125.58 L882.05 124.19 L882.14 122.81 L882.23 121.45 L882.33 120.11 L882.42 118.79 L882.51 117.48 L882.61 116.20 L882.70 114.94 L882.80 113.70 L882.89 112.48 L882.98 111.29 L883.08 110.12 L883.17 108.98 L883.26 107.86 L883.36 106.77 L883.45 105.71 L883.54 104.68 L883.64 103.68 L883.73 102.71 L883.82 101.78 L883.92 100.87 L884.01 100.00 L884.10 99.16 L884.20 98.36 L884.29 97.59 L884.38 96.86 L884.48 96.16 L884.57 95.50 L884.67 94.88 L884.76 94.30 L884.85 93.75 L884.95 93.24 L885.04 92.78 L885.13 92.35 L885.23 91.96 L885.32 91.62 L885.41 91.31 L885.51 91.04 L885.60 90.82 L885.69 90.63 L885.79 90.49 L885.88 90.39 L885.97 90.33 L886.07 90.32 L886.16 90.34 L886.26 90.40 L886.35 90.51 L886.44 90.66 L886.54 90.85 L886.63 91.08 L886.72 91.35 L886.82 91.67 L886.91 92.02 L887.00 92.41 L887.10 92.84 L887.19 93.32 L887.28 93.83 L887.38 94.38 L887.47 94.96 L887.56 95.59 L887.66 96.25 L887.75 96.95 L887.85 97.69 L887.94 98.46 L888.03 99.26 L888.13 100.10 L888.22 100.97 L888.31 101.88 L888.41 102.81 L888.50 103.78" stroke="#f00" stroke-width="2.0"/><path d="M514.50 231.00 L514.59 231.00 L514.69 231.00 L514.78 231.00 L514.87 231.00 L514.97 230.99 L515.06 230.98 L515.15 230.97 L515.25 230.95 L515.34 230.92 L515.44 230.87 L515.53 230.81 L515.62 230.74 L515.72 230.64 L515.81 230.52 L515.90 230.37 L516.00 230.19 L516.09 229.97 L516.18 229.72 L516.28 229.42 L516.37 229.07 L516.46 228.67 L516.56 228.22 L516.65 227.70 L516.74 227.12 L516.84 226.47 L516.93 225.75 L517.03 224.95 L517.12 224.07 L517.21 223.10 L517.31 222.04 L517.40 220.89 L517.49 219.65 L517.59 218.30 L517.68 216.86 L517.77 215.31 L517.87 213.65 L517.96 211.88 L518.05 210.00 L518.15 208.00 L518.24 205.90 L518.33 203.67 L518.43 201.34 L518.52 198.88 L518.62 196.31 L518.71 193.63 L518.80 190.83 L518.90 187.92 L518.99 184.90 L519.08 181.77 L519.18 178.53 L519.27 175.20 L519.36 171.76 L519.46 168.22 L519.55 164.60 L519.64 160.89 L519.74 157.10 L519.83 153.23 L519.92 149.29 L520.02 145.28 L520.11 141.22 L520.20 137.11 L520.30 132.95 L520.39 128.75 L520.49 124.52 L520.58 120.28 L520.67 116.01 L520.77 111.74 L520.86 107.47 L520.95 103.22 L521.05 98.98 L521.14 94.77 L521.23 90.59 L521.33 86.46 L521.42 82.38 L521.51 78.37 L521.61 74.43 L521.70 70.56 L521.79 66.78 L521.89 63.10 L521.98 59.53 L522.08 56.06 L522.17 52.72 L522.26 49.50 L522.36 46.42 L522.45 43.49 L522.54 40.70 L522.64 38.06 L522.73 35.59 L522.82 33.28 L522.92 31.15 L523.01 29.20 L523.10 27.42 L523.20 25.84 L523.29 24.44 L523.38 23.24 L523.48 22.23 L523.57 21.42 L523.67 20.81 L523.76 20.41 L523.85 20.20 L523.95 20.20 L524.04 20.40 L524.13 20.80 L524.23 21.41 L524.32 22.21 L524.41 23.21 L524.51 24.40 L524.60 25.79 L524.69 27.36 L524.79 29.12 L524.88 31.06 L524.97 33.18 L525.07 35.46 L525.16 37.91 L525.26 40.52 L525.35 43.28 L525.44 46.19 L525.54 49.23 L525.63 52.41 L525.72 55.71 L525.82 59.14 L525.91 62.67 L526.00 66.30 L526.10 70.02 L526.19 73.84 L526.28 77.72 L526.38 81.68 L526.47 85.70 L526.56 89.76 L526.66 93.87 L526.75 98.02 L526.85 102.19 L526.94 106.38 L527.03 110.58 L527.13 114.78 L527.22 118.97 L527.31 123.15 L527.41 127.31 L527.50 131.43 L527.59 135.52 L527.69 139.57 L527.78 143.57 L527.87 147.51 L527.97 151.39 L528.06 155.20 L528.15 158.93 L528.25 162.59 L528.34 166.16 L528.43 169.65 L528.53 173.05 L528.62 176.35 L528.72 179.55 L528.81 182.65 L528.90 185.64 L529.00 188.53 L529.09 191.32 L529.18 193.99 L529.28 196.56 L529.37 199.01 L529.46 201.35 L529.56 203.59 L529.65 205.71 L529.74 207.73 L529.84 209.63 L529.93 211.44 L530.02 213.13 L530.12 214.72 L530.21 216.22 L530.31 217.61 L530.40 218.91 L530.49 220.12 L530.59 221.24 L530.68 222.27 L530.77 223.22 L530.87 224.09 L530.96 224.89 L531.05 225.62 L531.15 226.27 L531.24 226.87 L531.33 227.40 L531.43 227.88 L531.52 228.30 L531.61 228.68 L531.71 229.01 L531.80 229.30 L531.90 229.56 L531.99 229.78 L532.08 229.97 L532.18 230.13 L532.27 230.27 L532.36 230.38 L532.46 230.48 L532.55 230.56 L532.64 230.62 L532.74 230.67 L532.83 230.71 L532.92 230.75 L533.02 230.77 L533.11 230.79 L533.20 230.80 L533.30 230.80 L533.39 230.80 L533.49 230.79 L533.58 230.77 L533.67 230.75 L533.77 230.72 L533.86 230.68 L533.95 230.62 L534.05 230.56 L534.14 230.48 L534.23 230.39 L534.33 230.27 L534.42 230.14 L534.51 229.98 L534.61 229.79 L534.70 229.58 L534.79 229.33 L534.89 229.04 L534.98 228.72 L535.08 228.35 L535.17 227.94 L535.26 227.47 L535.36 226.95 L535.45 226.37 L535.54 225.73 L535.64 225.02 L535.73 224.25 L535.82 223.40 L535.92 222.48 L536.01 221.48 L536.10 220.40 L536.20 219.23 L536.29 217.97 L536.38 216.63 L536.48 215.19 L536.57 213.65 L536.67 212.02 L536.76 210.28 L536.85 208.45 L536.95 206.52 L537.04 204.48 L537.13 202.34 L537.23 200.09 L537.32 197.75 L537.41 195.29 L537.51 192.74 L537.60 190.09 L537.69 187.33 L537.79 184.48 L537.88 181.53 L537.97 178.49 L538.07 175.35 L538.16 172.13 L538.25 168.83 L538.35 165.44 L538.44 161.98 L538.54 158.45 L538.63 154.85 L538.72 151.19 L538.82 147.48 L538.91 143.71 L539.00 139.90 L539.10 136.06 L539.19 132.18 L539.28 128.28 L539.38 124.36 L539.47 120.43 L539.56 116.50 L539.66 112.57 L539.75 108.66 L539.84 104.76 L539.94 100.89 L540.03 97.06 L540.13 93.27 L540.22 89.53 L540.31 85.85 L540.41 82.24 L540.50 78.70 L540.59 75.24 L540.69 71.87 L540.78 68.60 L540.87 65.43 L540.97 62.37 L541.06 59.44 L541.15 56.62 L541.25 53.93 L541.34 51.39 L541.43 48.98 L541.53 46.72 L541.62 44.62 L541.72 42.67 L541.81 40.88 L541.90 39.26 L542.00 37.81 L542.09 36.54 L542.18 35.44 L542.28 34.51 L542.37 33.77 L542.46 33.22 L542.56 32.84 L542.65 32.65 L542.74 32.64 L542.84 32.82 L542.93 33.18 L543.02 33.73 L543.12 34.46 L543.21 35.36 L543.31 36.45 L543.40 37.71 L543.49 39.14 L543.59 40.74 L543.68 42.50 L543.77 44.43 L543.87 46.51 L543.96 48.74 L544.05 51.12 L544.15 53.63 L544.24 56.28 L544.33 59.06 L544.43 61.96 L544.52 64.98 L544.61 68.10 L544.71 71.33 L544.80 74.65 L544.90 78.06 L544.99 81.54 L545.08 85.10 L545.18 88.73 L545.27 92.41 L545.36 96.14 L545.46 99.91 L545.55 103.71 L545.64 107.54 L545.74 111.40 L545.83 115.26 L545.92 119.12 L546.02 122.99 L546.11 126.84 L546.20 130.68 L546.30 134.49 L546.39 138.27 L546.48 142.02 L546.58 145.72 L546.67 149.38 L546.77 152.98 L546.86 156.53 L546.95 160.01 L547.05 163.42 L547.14 166.76 L547.23 170.02 L547.33 173.20 L547.42 176.30 L547.51 179.31 L547.61 182.23 L547.70 185.06 L547.79 187.79 L547.89 190.43 L547.98 192.97 L548.07 195.42 L548.17 197.77 L548.26 200.01 L548.36 202.16 L548.45 204.21 L548.54 206.16 L548.64 208.02 L548.73 209.78 L548.82 211.44 L548.92 213.01 L549.01 214.49 L549.10 215.88 L549.20 217.18 L549.29 218.40 L549.38 219.53 L549.48 220.59 L549.57 221.57 L549.66 222.47 L549.76 223.31 L549.85 224.08 L549.95 224.78 L550.04 225.42 L550.13 226.01 L550.23 226.54 L550.32 227.02 L550.41 227.46 L550.51 227.85 L550.60 228.20 L550.69 228.51 L550.79 228.78 L550.88 229.03 L550.97 229.24 L551.07 229.42 L551.16 229.59 L551.25 229.72 L551.35 229.84 L551.44 229.94 L551.54 230.03 L551.63 230.09 L551.72 230.15 L551.82 230.19 L551.91 230.22 L552.00 230.24 L552.10 230.24 L552.19 230.24 L552.28 230.22 L552.38 230.19 L552.47 230.15 L552.56 230.10 L552.66 230.03 L552.75 229.95 L552.84 229.85 L552.94 229.74 L553.03 229.60 L553.13 229.44 L553.22 229.26 L553.31 229.05 L553.41 228.82 L553.50 228.55 L553.59 228.24 L553.69 227.90 L553.78 227.52 L553.87 227.10 L553.97 226.63 L554.06 226.11 L554.15 225.54 L554.25 224.91 L554.34 224.23 L554.43 223.48 L554.53 222.67 L554.62 221.80 L554.72 220.85 L554.81 219.82 L554.90 218.73 L555.00 217.55 L555.09 216.29 L555.18 214.95 L555.28 213.53 L555.37 212.02 L555.46 210.42 L555.56 208.73 L555.65 206.95 L555.74 205.07 L555.84 203.11 L555.93 201.05 L556.02 198.90 L556.12 196.66 L556.21 194.32 L556.30 191.89 L556.40 189.38 L556.49 186.77 L556.59 184.08 L556.68 181.30 L556.77 178.44 L556.87 175.49 L556.96 172.48 L557.05 169.38 L557.15 166.22 L557.24 162.99 L557.33 159.70 L557.43 156.35 L557.52 152.95 L557.61 149.51 L557.71 146.01 L557.80 142.49 L557.89 138.93 L557.99 135.34 L558.08 131.74 L558.18 128.12 L558.27 124.50 L558.36 120.87 L558.46 117.25 L558.55 113.65 L558.64 110.07 L558.74 106.51 L558.83 102.99 L558.92 99.51 L559.02 96.08 L559.11 92.70 L559.20 89.39 L559.30 86.14 L559.39 82.97 L559.48 79.89 L559.58 76.89 L559.67 73.99 L559.77 71.19 L559.86 68.50 L559.95 65.93 L560.05 63.47 L560.14 61.14 L560.23 58.94 L560.33 56.88 L560.42 54.95 L560.51 53.17 L560.61 51.54 L560.70 50.05 L560.79 48.73 L560.89 47.56 L560.98 46.55 L561.07 45.71 L561.17 45.03 L561.26 44.52 L561.36 44.17 L561.45 43.99 L561.54 43.99 L561.64 44.14 L561.73 44.47 L561.82 44.97 L561.92 45.63 L562.01 46.45 L562.10 47.43 L562.20 48.58 L562.29 49.88 L562.38 51.34 L562.48 52.95 L562.57 54.70 L562.66 56.59 L562.76 58.63 L562.85 60.80 L562.95 63.09 L563.04 65.51 L563.13 68.05 L563.23 70.70 L563.32 73.45 L563.41 76.31 L563.51 79.26 L563.60 82.30 L563.69 85.42 L563.79 88.61 L563.88 91.87 L563.97 95.19 L564.07 98.57 L564.16 101.99 L564.25 105.45 L564.35 108.95 L564.44 112.47 L564.54 116.02 L564.63 119.57 L564.72 123.14 L564.82 126.70 L564.91 130.26 L565.00 133.80 L565.10 137.32 L565.19 140.82 L565.28 144.30 L565.38 147.73 L565.47 151.12 L565.56 154.47 L565.66 157.77 L565.75 161.01 L565.84 164.19 L565.94 167.31 L566.03 170.37 L566.12 173.35 L566.22 176.25 L566.31 179.08 L566.41 181.84 L566.50 184.51 L566.59 187.09 L566.69 189.59 L566.78 192.01 L566.87 194.34 L566.97 196.58 L567.06 198.73 L567.15 200.79 L567.25 202.77 L567.34 204.65 L567.43 206.45 L567.53 208.16 L567.62 209.78 L567.71 211.32 L567.81 212.78 L567.90 214.15 L568.00 215.45 L568.09 216.66 L568.18 217.80 L568.28 218.87 L568.37 219.87 L568.46 220.80 L568.56 221.66 L568.65 222.46 L568.74 223.19 L568.84 223.88 L568.93 224.50 L569.02 225.08 L569.12 225.60 L569.21 226.08 L569.30 226.51 L569.40 226.91 L569.49 227.26 L569.59 227.58 L569.68 227.87 L569.77 228.12 L569.87 228.35 L569.96 228.54 L570.05 228.72 L570.15 228.87 L570.24 229.00 L570.33 229.11 L570.43 229.20 L570.52 229.27 L570.61 229.32 L570.71 229.36 L570.80 229.39 L570.89 229.40 L570.99 229.39 L571.08 229.37 L571.18 229.33 L571.27 229.28 L571.36 229.21 L571.46 229.12 L571.55 229.01 L571.64 228.89 L571.74 228.74 L571.83 228.57 L571.92 228.38 L572.02 228.16 L572.11 227.91 L572.20 227.63 L572.30 227.32 L572.39 226.97 L572.48 226.59 L572.58 226.17 L572.67 225.70 L572.77 225.19 L572.86 224.63 L572.95 224.03 L573.05 223.37 L573.14 222.65 L573.23 221.87 L573.33 221.04 L573.42 220.14 L573.51 219.18 L573.61 218.15 L573.70 217.04 L573.79 215.87 L573.89 214.62 L573.98 213.30 L574.07 211.90 L574.17 210.42 L574.26 208.86 L574.35 207.21 L574.45 205.49 L574.54 203.68 L574.64 201.79 L574.73 199.81 L574.82 197.76 L574.92 195.62 L575.01 193.39 L575.10 191.09 L575.20 188.70 L575.29 186.24 L575.38 183.69 L575.48 181.08 L575.57 178.39 L575.66 175.62 L575.76 172.80 L575.85 169.90 L575.94 166.95 L576.04 163.93 L576.13 160.87 L576.23 157.75 L576.32 154.59 L576.41 151.38 L576.51 148.14 L576.60 144.87 L576.69 141.58 L576.79 138.26 L576.88 134.93 L576.97 131.58 L577.07 128.24 L577.16 124.90 L577.25 121.56 L577.35 118.24 L577.44 114.94 L577.53 111.67 L577.63 108.43 L577.72 105.23 L577.82 102.08 L577.91 98.98 L578.00 95.94 L578.10 92.96 L578.19 90.05 L578.28 87.22 L578.38 84.48 L578.47 81.82 L578.56 79.26 L578.66 76.79 L578.75 74.43 L578.84 72.18 L578.94 70.05 L579.03 68.04 L579.12 66.15 L579.22 64.38 L579.31 62.75 L579.41 61.26 L579.50 59.90 L579.59 58.69 L579.69 57.62 L579.78 56.70 L579.87 55.92 L579.97 55.30 L580.06 54.83 L580.15 54.51 L580.25 54.34 L580.34 54.33 L580.43 54.48 L580.53 54.77 L580.62 55.22 L580.71 55.82 L580.81 56.57 L580.90 57.46 L581.00 58.51 L581.09 59.69 L581.18 61.02 L581.28 62.48 L581.37 64.08 L581.46 65.81 L581.56 67.67 L581.65 69.65 L581.74 71.74 L581.84 73.95 L581.93 76.27 L582.02 78.70 L582.12 81.22 L582.21 83.83 L582.30 86.53 L582.40 89.31 L582.49 92.17 L582.59 95.09 L582.68 98.08 L582.77 101.13 L582.87 104.23 L582.96 107.38 L583.05 110.56 L583.15 113.77 L583.24 117.02 L583.33 120.28 L583.43 123.56 L583.52 126.84 L583.61 130.13 L583.71 133.41 L583.80 136.69 L583.89 139.95 L583.99 143.19 L584.08 146.41 L584.17 149.60 L584.27 152.75 L584.36 155.86 L584.46 158.93 L584.55 161.95 L584.64 164.92 L584.74 167.84 L584.83 170.69 L584.92 173.49 L585.02 176.22 L585.11 178.88 L585.20 181.47 L585.30 183.99 L585.39 186.44 L585.48 188.80 L585.58 191.10 L585.67 193.31 L585.76 195.45 L585.86 197.50 L585.95 199.48 L586.05 201.38 L586.14 203.19 L586.23 204.93 L586.33 206.59 L586.42 208.17 L586.51 209.67 L586.61 211.10 L586.70 212.45 L586.79 213.73 L586.89 214.94 L586.98 216.07 L587.07 217.14 L587.17 218.15 L587.26 219.08 L587.35 219.96 L587.45 220.78 L587.54 221.54 L587.64 222.25 L587.73 222.90 L587.82 223.51 L587.92 224.06 L588.01 224.58 L588.10 225.04 L588.20 225.47 L588.29 225.86 L588.38 226.22 L588.48 226.53 L588.57 226.82 L588.66 227.08 L588.76 227.31 L588.85 227.51 L588.94 227.68 L589.04 227.83 L589.13 227.96 L589.23 228.07 L589.32 228.16 L589.41 228.23 L589.51 228.27 L589.60 228.30 L589.69 228.31 L589.79 228.31 L589.88 228.28 L589.97 228.24 L590.07 228.17 L590.16 228.09 L590.25 227.99 L590.35 227.86 L590.44 227.71 L590.53 227.54 L590.63 227.35 L590.72 227.12 L590.82 226.88 L590.91 226.60 L591.00 226.29 L591.10 225.94 L591.19 225.56 L591.28 225.15 L591.38 224.69 L591.47 224.20 L591.56 223.66 L591.66 223.07 L591.75 222.44 L591.84 221.75 L591.94 221.01 L592.03 220.22 L592.12 219.37 L592.22 218.46 L592.31 217.49 L592.40 216.46 L592.50 215.36 L592.59 214.20 L592.69 212.97 L592.78 211.67 L592.87 210.30 L592.97 208.85 L593.06 207.33 L593.15 205.74 L593.25 204.08 L593.34 202.33 L593.43 200.52 L593.53 198.63 L593.62 196.66 L593.71 194.62 L593.81 192.51 L593.90 190.32 L593.99 188.06 L594.09 185.73 L594.18 183.33 L594.28 180.86 L594.37 178.33 L594.46 175.74 L594.56 173.09 L594.65 170.38 L594.74 167.62 L594.84 164.81 L594.93 161.95 L595.02 159.04 L595.12 156.10 L595.21 153.12 L595.30 150.11 L595.40 147.08 L595.49 144.03 L595.58 140.95 L595.68 137.87 L595.77 134.78 L595.87 131.69 L595.96 128.60 L596.05 125.53 L596.15 122.47 L596.24 119.43 L596.33 116.41 L596.43 113.43 L596.52 110.49 L596.61 107.59 L596.71 104.74 L596.80 101.94 L596.89 99.21 L596.99 96.54 L597.08 93.94 L597.17 91.42 L597.27 88.99 L597.36 86.63 L597.46 84.38 L597.55 82.21 L597.64 80.15 L597.74 78.20 L597.83 76.35 L597.92 74.62 L598.02 73.00 L598.11 71.51 L598.20 70.14 L598.30 68.90 L598.39 67.79 L598.48 66.81 L598.58 65.96 L598.67 65.25 L598.76 64.68 L598.86 64.24 L598.95 63.95 L599.05 63.80 L599.14 63.78 L599.23 63.91 L599.33 64.18 L599.42 64.58 L599.51 65.13 L599.61 65.81 L599.70 66.62 L599.79 67.57 L599.89 68.66 L599.98 69.87 L600.07 71.20 L600.17 72.66 L600.26 74.24 L600.35 75.94 L600.45 77.75 L600.54 79.66 L600.64 81.68 L600.73 83.80 L600.82 86.02 L600.92 88.33 L601.01 90.72 L601.10 93.20 L601.20 95.75 L601.29 98.37 L601.38 101.05 L601.48 103.80 L601.57 106.59 L601.66 109.44 L601.76 112.33 L601.85 115.26 L601.94 118.22 L602.04 121.20 L602.13 124.21 L602.22 127.23 L602.32 130.27 L602.41 133.30 L602.51 136.34 L602.60 139.37 L602.69 142.39 L602.79 145.39 L602.88 148.38 L602.97 151.33 L603.07 154.26 L603.16 157.16 L603.25 160.02 L603.35 162.84 L603.44 165.61 L603.53 168.33 L603.63 171.01 L603.72 173.63 L603.81 176.19 L603.91 178.69 L604.00 181.13 L604.10 183.51 L604.19 185.82 L604.28 188.06 L604.38 190.23 L604.47 192.34 L604.56 194.37 L604.66 196.33 L604.75 198.23 L604.84 200.04 L604.94 201.79 L605.03 203.46 L605.12 205.07 L605.22 206.60 L605.31 208.06 L605.40 209.45 L605.50 210.78 L605.59 212.03 L605.69 213.22 L605.78 214.35 L605.87 215.41 L605.97 216.42 L606.06 217.36 L606.15 218.24 L606.25 219.07 L606.34 219.85 L606.43 220.57 L606.53 221.24 L606.62 221.87 L606.71 222.45 L606.81 222.98 L606.90 223.48 L606.99 223.93 L607.09 224.35 L607.18 224.73 L607.28 225.07 L607.37 225.38 L607.46 225.66 L607.56 225.91 L607.65 226.14 L607.74 226.33 L607.84 226.50 L607.93 226.65 L608.02 226.77 L608.12 226.87 L608.21 226.95 L608.30 227.00 L608.40 227.03 L608.49 227.05 L608.58 227.04 L608.68 227.01 L608.77 226.96 L608.87 226.89 L608.96 226.79 L609.05 226.68 L609.15 226.54 L609.24 226.37 L609.33 226.18 L609.43 225.97 L609.52 225.73 L609.61 225.45 L609.71 225.15 L609.80 224.82 L609.89 224.45 L609.99 224.05 L610.08 223.61 L610.17 223.13 L610.27 222.61 L610.36 222.05 L610.45 221.44 L610.55 220.79 L610.64 220.09 L610.74 219.34 L610.83 218.54 L610.92 217.69 L611.02 216.78 L611.11 215.81 L611.20 214.78 L611.30 213.70 L611.39 212.55 L611.48 211.34 L611.58 210.07 L611.67 208.73 L611.76 207.33 L611.86 205.86 L611.95 204.32 L612.04 202.71 L612.14 201.04 L612.23 199.30 L612.33 197.49 L612.42 195.61 L612.51 193.67 L612.61 191.66 L612.70 189.59 L612.79 187.45 L612.89 185.25 L612.98 182.98 L613.07 180.66 L613.17 178.28 L613.26 175.85 L613.35 173.36 L613.45 170.83 L613.54 168.24 L613.63 165.62 L613.73 162.95 L613.82 160.24 L613.92 157.50 L614.01 154.73 L614.10 151.94 L614.20 149.12 L614.29 146.29 L614.38 143.44 L614.48 140.59 L614.57 137.73 L614.66 134.87 L614.76 132.02 L614.85 129.18 L614.94 126.36 L615.04 123.55 L615.13 120.77 L615.22 118.03 L615.32 115.32 L615.41 112.65 L615.51 110.03 L615.60 107.46 L615.69 104.94 L615.79 102.49 L615.88 100.10 L615.97 97.79 L616.07 95.55 L616.16 93.39 L616.25 91.32 L616.35 89.34 L616.44 87.44 L616.53 85.65 L616.63 83.96 L616.72 82.37 L616.81 80.89 L616.91 79.52 L617.00 78.27 L617.10 77.13 L617.19 76.11 L617.28 75.21 L617.38 74.43 L617.47 73.78 L617.56 73.25 L617.66 72.85 L617.75 72.58 L617.84 72.44 L617.94 72.42 L618.03 72.53 L618.12 72.77 L618.22 73.14 L618.31 73.64 L618.40 74.26 L618.50 75.00 L618.59 75.87 L618.69 76.86 L618.78 77.96 L618.87 79.18 L618.97 80.52 L619.06 81.96 L619.15 83.51 L619.25 85.16 L619.34 86.92 L619.43 88.77 L619.53 90.71 L619.62 92.74 L619.71 94.85 L619.81 97.05 L619.90 99.32 L619.99 101.66 L620.09 104.06 L620.18 106.53 L620.27 109.05 L620.37 111.62 L620.46 114.24 L620.56 116.90 L620.65 119.59 L620.74 122.32 L620.84 125.07 L620.93 127.84 L621.02 130.63 L621.12 133.43 L621.21 136.24 L621.30 139.05 L621.40 141.85 L621.49 144.65 L621.58 147.44 L621.68 150.20 L621.77 152.95 L621.86 155.68 L621.96 158.37 L622.05 161.04 L622.15 163.66 L622.24 166.25 L622.33 168.80 L622.43 171.30 L622.52 173.76 L622.61 176.16 L622.71 178.51 L622.80 180.81 L622.89 183.05 L622.99 185.23 L623.08 187.36 L623.17 189.42 L623.27 191.42 L623.36 193.35 L623.45 195.22 L623.55 197.03 L623.64 198.77 L623.74 200.44 L623.83 202.05 L623.92 203.60 L624.02 205.08 L624.11 206.50 L624.20 207.85 L624.30 209.14 L624.39 210.37 L624.48 211.54 L624.58 212.65 L624.67 213.70 L624.76 214.69 L624.86 215.63 L624.95 216.52 L625.04 217.35 L625.14 218.13 L625.23 218.86 L625.33 219.55 L625.42 220.18 L625.51 220.78 L625.61 221.33 L625.70 221.84 L625.79 222.31 L625.89 222.75 L625.98 223.14 L626.07 223.51 L626.17 223.84 L626.26 224.14 L626.35 224.40 L626.45 224.64 L626.54 224.86 L626.63 225.04 L626.73 225.20 L626.82 225.33 L626.92 225.44 L627.01 225.52 L627.10 225.58 L627.20 225.62 L627.29 225.64 L627.38 225.63 L627.48 225.60 L627.57 225.54 L627.66 225.46 L627.76 225.36 L627.85 225.24 L627.94 225.08 L628.04 224.91 L628.13 224.71 L628.22 224.48 L628.32 224.22 L628.41 223.93 L628.51 223.61 L628.60 223.26 L628.69 222.87 L628.79 222.45 L628.88 222.00 L628.97 221.50 L629.07 220.97 L629.16 220.39 L629.25 219.78 L629.35 219.12 L629.44 218.41 L629.53 217.65 L629.63 216.85 L629.72 216.00 L629.81 215.09 L629.91 214.14 L630.00 213.12 L630.09 212.06 L630.19 210.93 L630.28 209.75 L630.38 208.51 L630.47 207.21 L630.56 205.85 L630.66 204.43 L630.75 202.94 L630.84 201.40 L630.94 199.79 L631.03 198.13 L631.12 196.40 L631.22 194.61 L631.31 192.76 L631.40 190.86 L631.50 188.89 L631.59 186.87 L631.68 184.79 L631.78 182.66 L631.87 180.47 L631.97 178.23 L632.06 175.95 L632.15 173.62 L632.25 171.24 L632.34 168.82 L632.43 166.37 L632.53 163.88 L632.62 161.36 L632.71 158.81 L632.81 156.23 L632.90 153.63 L632.99 151.02 L633.09 148.39 L633.18 145.75 L633.27 143.10 L633.37 140.45 L633.46 137.81 L633.56 135.17 L633.65 132.55 L633.74 129.94 L633.84 127.35 L633.93 124.79 L634.02 122.26 L634.12 119.76 L634.21 117.30 L634.30 114.89 L634.40 112.52 L634.49 110.21 L634.58 107.95 L634.68 105.76 L634.77 103.63 L634.86 101.57 L634.96 99.59 L635.05 97.69 L635.15 95.86 L635.24 94.13 L635.33 92.48 L635.43 90.93 L635.52 89.47 L635.61 88.11 L635.71 86.85 L635.80 85.70 L635.89 84.65 L635.99 83.72 L636.08 82.89 L636.17 82.18 L636.27 81.58 L636.36 81.09 L636.45 80.73 L636.55 80.47 L636.64 80.34 L636.74 80.32 L636.83 80.42 L636.92 80.64 L637.02 80.98 L637.11 81.43 L637.20 81.99 L637.30 82.67 L637.39 83.46 L637.48 84.36 L637.58 85.37 L637.67 86.49 L637.76 87.71 L637.86 89.03 L637.95 90.45 L638.04 91.96 L638.14 93.57 L638.23 95.27 L638.32 97.05 L638.42 98.91 L638.51 100.85 L638.61 102.86 L638.70 104.94 L638.79 107.09 L638.89 109.30 L638.98 111.56 L639.07 113.88 L639.17 116.25 L639.26 118.66 L639.35 121.11 L639.45 123.59 L639.54 126.10 L639.63 128.64 L639.73 131.20 L639.82 133.78 L639.91 136.37 L640.01 138.96 L640.10 141.56 L640.20 144.16 L640.29 146.75 L640.38 149.34 L640.48 151.91 L640.57 154.46 L640.66 157.00 L640.76 159.51 L640.85 161.99 L640.94 164.44 L641.04 166.86 L641.13 169.24 L641.22 171.58 L641.32 173.89 L641.41 176.14 L641.50 178.35 L641.60 180.52 L641.69 182.63 L641.79 184.69 L641.88 186.69 L641.97 188.64 L642.07 190.54 L642.16 192.38 L642.25 194.16 L642.35 195.88 L642.44 197.55 L642.53 199.15 L642.63 200.70 L642.72 202.19 L642.81 203.62 L642.91 204.99 L643.00 206.30 L643.09 207.55 L643.19 208.75 L643.28 209.89 L643.38 210.98 L643.47 212.01 L643.56 212.99 L643.66 213.92 L643.75 214.80 L643.84 215.63 L643.94 216.41 L644.03 217.14 L644.12 217.83 L644.22 218.47 L644.31 219.07 L644.40 219.64 L644.50 220.16 L644.59 220.64 L644.68 221.09 L644.78 221.50 L644.87 221.87 L644.97 222.22 L645.06 222.53 L645.15 222.81 L645.25 223.06 L645.34 223.28 L645.43 223.48 L645.53 223.65 L645.62 223.79 L645.71 223.90 L645.81 223.99 L645.90 224.06 L645.99 224.10 L646.09 224.11 L646.18 224.11 L646.27 224.07 L646.37 224.01 L646.46 223.93 L646.56 223.83 L646.65 223.69 L646.74 223.53 L646.84 223.35 L646.93 223.14 L647.02 222.89 L647.12 222.62 L647.21 222.32 L647.30 221.99 L647.40 221.63 L647.49 221.23 L647.58 220.80 L647.68 220.34 L647.77 219.83 L647.86 219.29 L647.96 218.71 L648.05 218.09 L648.14 217.42 L648.24 216.72 L648.33 215.96 L648.43 215.17 L648.52 214.32 L648.61 213.43 L648.71 212.48 L648.80 211.49 L648.89 210.44 L648.99 209.35 L649.08 208.19 L649.17 206.99 L649.27 205.73 L649.36 204.41 L649.45 203.04 L649.55 201.62 L649.64 200.14 L649.73 198.60 L649.83 197.01 L649.92 195.36 L650.02 193.66 L650.11 191.90 L650.20 190.09 L650.30 188.23 L650.39 186.32 L650.48 184.35 L650.58 182.34 L650.67 180.28 L650.76 178.18 L650.86 176.04 L650.95 173.85 L651.04 171.62 L651.14 169.36 L651.23 167.07 L651.32 164.74 L651.42 162.39 L651.51 160.02 L651.61 157.62 L651.70 155.20 L651.79 152.77 L651.89 150.33 L651.98 147.88 L652.07 145.43 L652.17 142.97 L652.26 140.52 L652.35 138.08 L652.45 135.66 L652.54 133.25 L652.63 130.85 L652.73 128.49 L652.82 126.15 L652.91 123.85 L653.01 121.58 L653.10 119.36 L653.20 117.18 L653.29 115.05 L653.38 112.97 L653.48 110.95 L653.57 108.99 L653.66 107.10 L653.76 105.28 L653.85 103.53 L653.94 101.85 L654.04 100.26 L654.13 98.74 L654.22 97.31 L654.32 95.97 L654.41 94.73 L654.50 93.57 L654.60 92.51 L654.69 91.55 L654.79 90.69 L654.88 89.93 L654.97 89.27 L655.07 88.72 L655.16 88.28 L655.25 87.94 L655.35 87.70 L655.44 87.58 L655.53 87.56 L655.63 87.65 L655.72 87.85 L655.81 88.15 L655.91 88.56 L656.00 89.08 L656.09 89.70 L656.19 90.42 L656.28 91.25 L656.37 92.17 L656.47 93.19 L656.56 94.31 L656.66 95.52 L656.75 96.82 L656.84 98.20 L656.94 99.68 L657.03 101.23 L657.12 102.86 L657.22 104.57 L657.31 106.35 L657.40 108.20 L657.50 110.11 L657.59 112.09 L657.68 114.12 L657.78 116.20 L657.87 118.34 L657.96 120.52 L658.06 122.73 L658.15 124.99 L658.25 127.28 L658.34 129.60 L658.43 131.94 L658.53 134.31 L658.62 136.69 L658.71 139.08 L658.81 141.49 L658.90 143.89 L658.99 146.30 L659.09 148.71 L659.18 151.10 L659.27 153.49 L659.37 155.87 L659.46 158.23 L659.55 160.56 L659.65 162.88 L659.74 165.17 L659.84 167.43 L659.93 169.66 L660.02 171.85 L660.12 174.01 L660.21 176.13 L660.30 178.20 L660.40 180.24 L660.49 182.23 L660.58 184.17 L660.68 186.07 L660.77 187.92 L660.86 189.71 L660.96 191.46 L661.05 193.15 L661.14 194.80 L661.24 196.38 L661.33 197.92 L661.43 199.40 L661.52 200.83 L661.61 202.21 L661.71 203.53 L661.80 204.79 L661.89 206.01 L661.99 207.17 L662.08 208.28 L662.17 209.35 L662.27 210.36 L662.36 211.32 L662.45 212.23 L662.55 213.10 L662.64 213.91 L662.73 214.69 L662.83 215.42 L662.92 216.11 L663.02 216.75 L663.11 217.36 L663.20 217.92 L663.30 218.45 L663.39 218.94 L663.48 219.39 L663.58 219.81 L663.67 220.19 L663.76 220.55 L663.86 220.87 L663.95 221.16 L664.04 221.42 L664.14 221.65 L664.23 221.85 L664.32 222.02 L664.42 222.17 L664.51 222.29 L664.61 222.38 L664.70 222.45 L664.79 222.49 L664.89 222.51 L664.98 222.50 L665.07 222.47 L665.17 222.41 L665.26 222.33 L665.35 222.21 L665.45 222.08 L665.54 221.91 L665.63 221.72 L665.73 221.50 L665.82 221.25 L665.91 220.98 L666.01 220.67 L666.10 220.33 L666.19 219.96 L666.29 219.56 L666.38 219.12 L666.48 218.65 L666.57 218.14 L666.66 217.60 L666.76 217.02 L666.85 216.39 L666.94 215.73 L667.04 215.03 L667.13 214.28 L667.22 213.50 L667.32 212.66 L667.41 211.78 L667.50 210.86 L667.60 209.89 L667.69 208.87 L667.78 207.80 L667.88 206.68 L667.97 205.52 L668.07 204.30 L668.16 203.03 L668.25 201.71 L668.35 200.35 L668.44 198.93 L668.53 197.46 L668.63 195.94 L668.72 194.37 L668.81 192.75 L668.91 191.08 L669.00 189.36 L669.09 187.60 L669.19 185.79 L669.28 183.94 L669.37 182.04 L669.47 180.11 L669.56 178.13 L669.66 176.12 L669.75 174.07 L669.84 171.98 L669.94 169.87 L670.03 167.72 L670.12 165.55 L670.22 163.35 L670.31 161.14 L670.40 158.90 L670.50 156.66 L670.59 154.40 L670.68 152.13 L670.78 149.85 L670.87 147.58 L670.96 145.30 L671.06 143.03 L671.15 140.77 L671.25 138.53 L671.34 136.30 L671.43 134.09 L671.53 131.90 L671.62 129.74 L671.71 127.61 L671.81 125.52 L671.90 123.47 L671.99 121.46 L672.09 119.50 L672.18 117.58 L672.27 115.72 L672.37 113.92 L672.46 112.18 L672.55 110.50 L672.65 108.89 L672.74 107.35 L672.84 105.88 L672.93 104.49 L673.02 103.18 L673.12 101.94 L673.21 100.80 L673.30 99.73 L673.40 98.76 L673.49 97.88 L673.58 97.08 L673.68 96.38 L673.77 95.78 L673.86 95.27 L673.96 94.86 L674.05 94.55 L674.14 94.33 L674.24 94.21 L674.33 94.20 L674.42 94.28 L674.52 94.46 L674.61 94.73 L674.71 95.11 L674.80 95.58 L674.89 96.15 L674.99 96.81 L675.08 97.56 L675.17 98.41 L675.27 99.34 L675.36 100.36 L675.45 101.47 L675.55 102.66 L675.64 103.94 L675.73 105.29 L675.83 106.71 L675.92 108.21 L676.01 109.78 L676.11 111.42 L676.20 113.12 L676.30 114.88 L676.39 116.69 L676.48 118.56 L676.58 120.48 L676.67 122.44 L676.76 124.45 L676.86 126.50 L676.95 128.58 L677.04 130.69 L677.14 132.83 L677.23 135.00 L677.32 137.18 L677.42 139.39 L677.51 141.60 L677.60 143.83 L677.70 146.06 L677.79 148.29 L677.89 150.52 L677.98 152.75 L678.07 154.97 L678.17 157.18 L678.26 159.38 L678.35 161.55 L678.45 163.71 L678.54 165.85 L678.63 167.96 L678.73 170.05 L678.82 172.10 L678.91 174.13 L679.01 176.11 L679.10 178.07 L679.19 179.98 L679.29 181.86 L679.38 183.69 L679.48 185.48 L679.57 187.23 L679.66 188.93 L679.76 190.59 L679.85 192.20 L679.94 193.76 L680.04 195.28 L680.13 196.74 L680.22 198.16 L680.32 199.53 L680.41 200.85 L680.50 202.12 L680.60 203.34 L680.69 204.52 L680.78 205.64 L680.88 206.72 L680.97 207.75 L681.07 208.74 L681.16 209.68 L681.25 210.57 L681.35 211.42 L681.44 212.23 L681.53 212.99 L681.63 213.71 L681.72 214.39 L681.81 215.03 L681.91 215.64 L682.00 216.20 L682.09 216.73 L682.19 217.22 L682.28 217.68 L682.37 218.10 L682.47 218.49 L682.56 218.84 L682.66 219.17 L682.75 219.46 L682.84 219.73 L682.94 219.96 L683.03 220.17 L683.12 220.35 L683.22 220.50 L683.31 220.62 L683.40 220.72 L683.50 220.79 L683.59 220.84 L683.68 220.85 L683.78 220.85 L683.87 220.81 L683.96 220.75 L684.06 220.67 L684.15 220.55 L684.24 220.41 L684.34 220.25 L684.43 220.05 L684.53 219.83 L684.62 219.58 L684.71 219.30 L684.81 218.98 L684.90 218.64 L684.99 218.27 L685.09 217.86 L685.18 217.43 L685.27 216.95 L685.37 216.45 L685.46 215.90 L685.55 215.32 L685.65 214.71 L685.74 214.05 L685.83 213.36 L685.93 212.62 L686.02 211.85 L686.12 211.03 L686.21 210.17 L686.30 209.27 L686.40 208.32 L686.49 207.33 L686.58 206.30 L686.68 205.22 L686.77 204.09 L686.86 202.92 L686.96 201.70 L687.05 200.43 L687.14 199.12 L687.24 197.77 L687.33 196.36 L687.42 194.91 L687.52 193.42 L687.61 191.88 L687.71 190.30 L687.80 188.67 L687.89 187.00 L687.99 185.30 L688.08 183.55 L688.17 181.76 L688.27 179.94 L688.36 178.08 L688.45 176.19 L688.55 174.27 L688.64 172.31 L688.73 170.33 L688.83 168.33 L688.92 166.30 L689.01 164.25 L689.11 162.18 L689.20 160.10 L689.30 158.01 L689.39 155.90 L689.48 153.79 L689.58 151.68 L689.67 149.57 L689.76 147.46 L689.86 145.36 L689.95 143.26 L690.04 141.18 L690.14 139.12 L690.23 137.07 L690.32 135.05 L690.42 133.05 L690.51 131.09 L690.60 129.16 L690.70 127.26 L690.79 125.41 L690.89 123.59 L690.98 121.83 L691.07 120.12 L691.17 118.45 L691.26 116.85 L691.35 115.30 L691.45 113.82 L691.54 112.40 L691.63 111.05 L691.73 109.77 L691.82 108.56 L691.91 107.42 L692.01 106.37 L692.10 105.39 L692.19 104.49 L692.29 103.68 L692.38 102.95 L692.47 102.31 L692.57 101.75 L692.66 101.28 L692.76 100.90 L692.85 100.61 L692.94 100.41 L693.04 100.30 L693.13 100.28 L693.22 100.36 L693.32 100.52 L693.41 100.77 L693.50 101.11 L693.60 101.54 L693.69 102.06 L693.78 102.67 L693.88 103.36 L693.97 104.13 L694.06 104.99 L694.16 105.93 L694.25 106.95 L694.35 108.04 L694.44 109.21 L694.53 110.45 L694.63 111.76 L694.72 113.14 L694.81 114.58 L694.91 116.08 L695.00 117.64 L695.09 119.26 L695.19 120.93 L695.28 122.65 L695.37 124.42 L695.47 126.23 L695.56 128.09 L695.65 129.97 L695.75 131.89 L695.84 133.85 L695.94 135.82 L696.03 137.83 L696.12 139.85 L696.22 141.89 L696.31 143.94 L696.40 146.00 L696.50 148.07 L696.59 150.14 L696.68 152.21 L696.78 154.28 L696.87 156.35 L696.96 158.40 L697.06 160.45 L697.15 162.48 L697.24 164.50 L697.34 166.49 L697.43 168.47 L697.53 170.42 L697.62 172.34 L697.71 174.24 L697.81 176.10 L697.90 177.94 L697.99 179.74 L698.09 181.51 L698.18 183.24 L698.27 184.93 L698.37 186.58 L698.46 188.19 L698.55 189.76 L698.65 191.29 L698.74 192.78 L698.83 194.22 L698.93 195.62 L699.02 196.97 L699.12 198.28 L699.21 199.55 L699.30 200.77 L699.40 201.95 L699.49 203.08 L699.58 204.17 L699.68 205.21 L699.77 206.21 L699.86 207.17 L699.96 208.08 L700.05 208.95 L700.14 209.78 L700.24 210.57 L700.33 211.32 L700.42 212.03 L700.52 212.70 L700.61 213.33 L700.71 213.93 L700.80 214.49 L700.89 215.01 L700.99 215.50 L701.08 215.96 L701.17 216.38 L701.27 216.77 L701.36 217.13 L701.45 217.46 L701.55 217.75 L701.64 218.02 L701.73 218.26 L701.83 218.47 L701.92 218.65 L702.01 218.80 L702.11 218.93 L702.20 219.03 L702.29 219.10 L702.39 219.15 L702.48 219.16 L702.58 219.16 L702.67 219.12 L702.76 219.06 L702.86 218.98 L702.95 218.86 L703.04 218.72 L703.14 218.55 L703.23 218.36 L703.32 218.13 L703.42 217.88 L703.51 217.60 L703.60 217.29 L703.70 216.94 L703.79 216.57 L703.88 216.17 L703.98 215.73 L704.07 215.26 L704.17 214.76 L704.26 214.22 L704.35 213.65 L704.45 213.04 L704.54 212.39 L704.63 211.71 L704.73 210.99 L704.82 210.23 L704.91 209.44 L705.01 208.60 L705.10 207.72 L705.19 206.80 L705.29 205.84 L705.38 204.84 L705.47 203.80 L705.57 202.72 L705.66 201.59 L705.76 200.42 L705.85 199.21 L705.94 197.95 L706.04 196.65 L706.13 195.32 L706.22 193.94 L706.32 192.52 L706.41 191.05 L706.50 189.55 L706.60 188.02 L706.69 186.44 L706.78 184.83 L706.88 183.18 L706.97 181.49 L707.06 179.78 L707.16 178.03 L707.25 176.25 L707.35 174.45 L707.44 172.62 L707.53 170.77 L707.63 168.89 L707.72 166.99 L707.81 165.08 L707.91 163.15 L708.00 161.21 L708.09 159.26 L708.19 157.30 L708.28 155.34 L708.37 153.38 L708.47 151.41 L708.56 149.46 L708.65 147.50 L708.75 145.56 L708.84 143.63 L708.94 141.72 L709.03 139.83 L709.12 137.96 L709.22 136.11 L709.31 134.29 L709.40 132.51 L709.50 130.76 L709.59 129.04 L709.68 127.37 L709.78 125.74 L709.87 124.16 L709.96 122.63 L710.06 121.15 L710.15 119.72 L710.24 118.35 L710.34 117.05 L710.43 115.80 L710.53 114.62 L710.62 113.51 L710.71 112.46 L710.81 111.49 L710.90 110.59 L710.99 109.76 L711.09 109.01 L711.18 108.34 L711.27 107.75 L711.37 107.23 L711.46 106.80 L711.55 106.45 L711.65 106.18 L711.74 106.00 L711.83 105.89 L711.93 105.88 L712.02 105.94 L712.11 106.09 L712.21 106.32 L712.30 106.63 L712.40 107.02 L712.49 107.50 L712.58 108.05 L712.68 108.69 L712.77 109.40 L712.86 110.18 L712.96 111.04 L713.05 111.98 L713.14 112.98 L713.24 114.06 L713.33 115.20 L713.42 116.40 L713.52 117.67 L713.61 118.99 L713.70 120.38 L713.80 121.82 L713.89 123.31 L713.99 124.85 L714.08 126.43 L714.17 128.06 L714.27 129.73 L714.36 131.44 L714.45 133.19 L714.55 134.96 L714.64 136.76 L714.73 138.59 L714.83 140.45 L714.92 142.32 L715.01 144.20 L715.11 146.11 L715.20 148.02 L715.29 149.94 L715.39 151.86 L715.48 153.79 L715.58 155.71 L715.67 157.63 L715.76 159.55 L715.86 161.45 L715.95 163.35 L716.04 165.23 L716.14 167.09 L716.23 168.94 L716.32 170.77 L716.42 172.57 L716.51 174.35 L716.60 176.10 L716.70 177.82 L716.79 179.52 L716.88 181.18 L716.98 182.81 L717.07 184.41 L717.17 185.97 L717.26 187.49 L717.35 188.98 L717.45 190.43 L717.54 191.85 L717.63 193.22 L717.73 194.55 L717.82 195.84 L717.91 197.10 L718.01 198.31 L718.10 199.48 L718.19 200.61 L718.29 201.69 L718.38 202.74 L718.47 203.75 L718.57 204.72 L718.66 205.64 L718.76 206.53 L718.85 207.38 L718.94 208.18 L719.04 208.95 L719.13 209.69 L719.22 210.38 L719.32 211.04 L719.41 211.66 L719.50 212.25 L719.60 212.80 L719.69 213.32 L719.78 213.80 L719.88 214.25 L719.97 214.67 L720.06 215.06 L720.16 215.42 L720.25 215.74 L720.34 216.04 L720.44 216.31 L720.53 216.55 L720.63 216.76 L720.72 216.94 L720.81 217.09 L720.91 217.22 L721.00 217.32 L721.09 217.39 L721.19 217.44 L721.28 217.46 L721.37 217.45 L721.47 217.42 L721.56 217.36 L721.65 217.27 L721.75 217.16 L721.84 217.02 L721.93 216.85 L722.03 216.65 L722.12 216.43 L722.22 216.18 L722.31 215.90 L722.40 215.59 L722.50 215.25 L722.59 214.88 L722.68 214.48 L722.78 214.05 L722.87 213.58 L722.96 213.09 L723.06 212.56 L723.15 211.99 L723.24 211.40 L723.34 210.77 L723.43 210.10 L723.52 209.40 L723.62 208.66 L723.71 207.88 L723.81 207.07 L723.90 206.22 L723.99 205.33 L724.09 204.40 L724.18 203.44 L724.27 202.43 L724.37 201.39 L724.46 200.31 L724.55 199.19 L724.65 198.03 L724.74 196.83 L724.83 195.59 L724.93 194.32 L725.02 193.01 L725.11 191.66 L725.21 190.27 L725.30 188.85 L725.40 187.39 L725.49 185.90 L725.58 184.38 L725.68 182.82 L725.77 181.24 L725.86 179.62 L725.96 177.98 L726.05 176.31 L726.14 174.62 L726.24 172.90 L726.33 171.17 L726.42 169.41 L726.52 167.64 L726.61 165.85 L726.70 164.05 L726.80 162.24 L726.89 160.43 L726.99 158.60 L727.08 156.78 L727.17 154.95 L727.27 153.13 L727.36 151.31 L727.45 149.49 L727.55 147.69 L727.64 145.90 L727.73 144.13 L727.83 142.38 L727.92 140.64 L728.01 138.94 L728.11 137.25 L728.20 135.60 L728.29 133.98 L728.39 132.40 L728.48 130.85 L728.58 129.35 L728.67 127.89 L728.76 126.47 L728.86 125.11 L728.95 123.79 L729.04 122.53 L729.14 121.32 L729.23 120.17 L729.32 119.09 L729.42 118.06 L729.51 117.10 L729.60 116.20 L729.70 115.37 L729.79 114.61 L729.88 113.91 L729.98 113.29 L730.07 112.75 L730.16 112.27 L730.26 111.87 L730.35 111.55 L730.45 111.30 L730.54 111.13 L730.63 111.03 L730.73 111.01 L730.82 111.07 L730.91 111.21 L731.01 111.42 L731.10 111.70 L731.19 112.06 L731.29 112.50 L731.38 113.01 L731.47 113.59 L731.57 114.24 L731.66 114.96 L731.75 115.75 L731.85 116.61 L731.94 117.53 L732.04 118.52 L732.13 119.57 L732.22 120.68 L732.32 121.84 L732.41 123.07 L732.50 124.34 L732.60 125.67 L732.69 127.04 L732.78 128.46 L732.88 129.92 L732.97 131.43 L733.06 132.97 L733.16 134.55 L733.25 136.16 L733.34 137.80 L733.44 139.47 L733.53 141.16 L733.63 142.87 L733.72 144.61 L733.81 146.36 L733.91 148.12 L734.00 149.89 L734.09 151.68 L734.19 153.46 L734.28 155.25 L734.37 157.04 L734.47 158.83 L734.56 160.62 L734.65 162.39 L734.75 164.16 L734.84 165.92 L734.93 167.66 L735.03 169.38 L735.12 171.09 L735.22 172.78 L735.31 174.45 L735.40 176.10 L735.50 177.72 L735.59 179.31 L735.68 180.88 L735.78 182.41 L735.87 183.92 L735.96 185.39 L736.06 186.84 L736.15 188.25 L736.24 189.62 L736.34 190.96 L736.43 192.27 L736.52 193.53 L736.62 194.77 L736.71 195.96 L736.81 197.12 L736.90 198.24 L736.99 199.32 L737.09 200.37 L737.18 201.37 L737.27 202.34 L737.37 203.27 L737.46 204.17 L737.55 205.03 L737.65 205.85 L737.74 206.63 L737.83 207.38 L737.93 208.09 L738.02 208.77 L738.11 209.41 L738.21 210.02 L738.30 210.60 L738.39 211.14 L738.49 211.65 L738.58 212.12 L738.68 212.57 L738.77 212.98 L738.86 213.37 L738.96 213.72 L739.05 214.04 L739.14 214.34 L739.24 214.60 L739.33 214.84 L739.42 215.05 L739.52 215.23 L739.61 215.39 L739.70 215.51 L739.80 215.61 L739.89 215.69 L739.98 215.73 L740.08 215.75 L740.17 215.75 L740.27 215.71 L740.36 215.65 L740.45 215.57 L740.55 215.46 L740.64 215.32 L740.73 215.15 L740.83 214.96 L740.92 214.73 L741.01 214.48 L741.11 214.21 L741.20 213.90 L741.29 213.57 L741.39 213.20 L741.48 212.81 L741.57 212.38 L741.67 211.93 L741.76 211.44 L741.86 210.92 L741.95 210.37 L742.04 209.79 L742.14 209.17 L742.23 208.52 L742.32 207.84 L742.42 207.12 L742.51 206.37 L742.60 205.59 L742.70 204.76 L742.79 203.91 L742.88 203.01 L742.98 202.08 L743.07 201.12 L743.16 200.12 L743.26 199.08 L743.35 198.01 L743.45 196.90 L743.54 195.76 L743.63 194.58 L743.73 193.37 L743.82 192.12 L743.91 190.84 L744.01 189.52 L744.10 188.18 L744.19 186.80 L744.29 185.39 L744.38 183.95 L744.47 182.49 L744.57 181.00 L744.66 179.48 L744.75 177.93 L744.85 176.37 L744.94 174.78 L745.04 173.17 L745.13 171.54 L745.22 169.90 L745.32 168.24 L745.41 166.57 L745.50 164.89 L745.60 163.21 L745.69 161.51 L745.78 159.81 L745.88 158.11 L745.97 156.41 L746.06 154.71 L746.16 153.02 L746.25 151.34 L746.34 149.67 L746.44 148.01 L746.53 146.36 L746.63 144.74 L746.72 143.13 L746.81 141.55 L746.91 139.99 L747.00 138.46 L747.09 136.96 L747.19 135.50 L747.28 134.07 L747.37 132.68 L747.47 131.33 L747.56 130.02 L747.65 128.76 L747.75 127.54 L747.84 126.38 L747.93 125.26 L748.03 124.20 L748.12 123.20 L748.21 122.25 L748.31 121.36 L748.40 120.53 L748.50 119.77 L748.59 119.06 L748.68 118.43 L748.78 117.85 L748.87 117.35 L748.96 116.91 L749.06 116.54 L749.15 116.24 L749.24 116.01 L749.34 115.85 L749.43 115.76 L749.52 115.74 L749.62 115.79 L749.71 115.92 L749.80 116.11 L749.90 116.37 L749.99 116.70 L750.09 117.10 L750.18 117.57 L750.27 118.10 L750.37 118.70 L750.46 119.36 L750.55 120.09 L750.65 120.88 L750.74 121.73 L750.83 122.64 L750.93 123.60 L751.02 124.62 L751.11 125.70 L751.21 126.82 L751.30 128.00 L751.39 129.22 L751.49 130.49 L751.58 131.80 L751.68 133.15 L751.77 134.54 L751.86 135.96 L751.96 137.42 L752.05 138.91 L752.14 140.43 L752.24 141.97 L752.33 143.54 L752.42 145.13 L752.52 146.73 L752.61 148.36 L752.70 149.99 L752.80 151.64 L752.89 153.29 L752.98 154.95 L753.08 156.62 L753.17 158.29 L753.27 159.95 L753.36 161.61 L753.45 163.27 L753.55 164.92 L753.64 166.56 L753.73 168.19 L753.83 169.80 L753.92 171.40 L754.01 172.99 L754.11 174.55 L754.20 176.09 L754.29 177.62 L754.39 179.12 L754.48 180.59 L754.57 182.04 L754.67 183.46 L754.76 184.85 L754.86 186.22 L754.95 187.55 L755.04 188.85 L755.14 190.12 L755.23 191.36 L755.32 192.57 L755.42 193.74 L755.51 194.88 L755.60 195.98 L755.70 197.06 L755.79 198.09 L755.88 199.09 L755.98 200.06 L756.07 200.99 L756.16 201.89 L756.26 202.75 L756.35 203.58 L756.44 204.37 L756.54 205.13 L756.63 205.85 L756.73 206.54 L756.82 207.20 L756.91 207.83 L757.01 208.42 L757.10 208.98 L757.19 209.51 L757.29 210.01 L757.38 210.48 L757.47 210.91 L757.57 211.32 L757.66 211.70 L757.75 212.04 L757.85 212.36 L757.94 212.65 L758.03 212.92 L758.13 213.15 L758.22 213.36 L758.32 213.54 L758.41 213.69 L758.50 213.82 L758.60 213.92 L758.69 213.99 L758.78 214.04 L758.88 214.06 L758.97 214.05 L759.06 214.02 L759.16 213.96 L759.25 213.88 L759.34 213.77 L759.44 213.63 L759.53 213.47 L759.62 213.27 L759.72 213.06 L759.81 212.81 L759.91 212.54 L760.00 212.24 L760.09 211.91 L760.19 211.55 L760.28 211.16 L760.37 210.75 L760.47 210.30 L760.56 209.83 L760.65 209.32 L760.75 208.79 L760.84 208.22 L760.93 207.62 L761.03 206.99 L761.12 206.33 L761.21 205.64 L761.31 204.91 L761.40 204.15 L761.50 203.36 L761.59 202.53 L761.68 201.67 L761.78 200.78 L761.87 199.86 L761.96 198.90 L762.06 197.91 L762.15 196.88 L762.24 195.82 L762.34 194.73 L762.43 193.61 L762.52 192.46 L762.62 191.28 L762.71 190.06 L762.80 188.82 L762.90 187.54 L762.99 186.24 L763.09 184.91 L763.18 183.55 L763.27 182.17 L763.37 180.77 L763.46 179.34 L763.55 177.89 L763.65 176.41 L763.74 174.92 L763.83 173.42 L763.93 171.89 L764.02 170.36 L764.11 168.81 L764.21 167.24 L764.30 165.68 L764.39 164.10 L764.49 162.52 L764.58 160.93 L764.68 159.35 L764.77 157.77 L764.86 156.19 L764.96 154.62 L765.05 153.05 L765.14 151.50 L765.24 149.96 L765.33 148.43 L765.42 146.92 L765.52 145.43 L765.61 143.96 L765.70 142.52 L765.80 141.10 L765.89 139.72 L765.98 138.36 L766.08 137.04 L766.17 135.75 L766.26 134.50 L766.36 133.29 L766.45 132.13 L766.55 131.00 L766.64 129.93 L766.73 128.90 L766.83 127.92 L766.92 126.99 L767.01 126.11 L767.11 125.29 L767.20 124.53 L767.29 123.82 L767.39 123.17 L767.48 122.58 L767.57 122.05 L767.67 121.59 L767.76 121.18 L767.85 120.84 L767.95 120.56 L768.04 120.35 L768.14 120.20 L768.23 120.12 L768.32 120.10 L768.42 120.14 L768.51 120.25 L768.60 120.43 L768.70 120.67 L768.79 120.97 L768.88 121.34 L768.98 121.77 L769.07 122.26 L769.16 122.81 L769.26 123.42 L769.35 124.09 L769.44 124.81 L769.54 125.60 L769.63 126.43 L769.73 127.32 L769.82 128.26 L769.91 129.25 L770.01 130.29 L770.10 131.38 L770.19 132.50 L770.29 133.67 L770.38 134.88 L770.47 136.13 L770.57 137.41 L770.66 138.73 L770.75 140.08 L770.85 141.46 L770.94 142.86 L771.03 144.29 L771.13 145.75 L771.22 147.22 L771.32 148.71 L771.41 150.21 L771.50 151.73 L771.60 153.26 L771.69 154.80 L771.78 156.34 L771.88 157.89 L771.97 159.44 L772.06 161.00 L772.16 162.55 L772.25 164.09 L772.34 165.63 L772.44 167.16 L772.53 168.69 L772.62 170.20 L772.72 171.70 L772.81 173.18 L772.91 174.65 L773.00 176.10 L773.09 177.53 L773.19 178.93 L773.28 180.32 L773.37 181.69 L773.47 183.03 L773.56 184.34 L773.65 185.63 L773.75 186.89 L773.84 188.13 L773.93 189.33 L774.03 190.51 L774.12 191.65 L774.21 192.77 L774.31 193.85 L774.40 194.90 L774.49 195.93 L774.59 196.92 L774.68 197.87 L774.78 198.80 L774.87 199.69 L774.96 200.55 L775.06 201.38 L775.15 202.18 L775.24 202.94 L775.34 203.68 L775.43 204.38 L775.52 205.04 L775.62 205.68 L775.71 206.29 L775.80 206.87 L775.90 207.41 L775.99 207.93 L776.08 208.41 L776.18 208.87 L776.27 209.29 L776.37 209.69 L776.46 210.06 L776.55 210.40 L776.65 210.72 L776.74 211.00 L776.83 211.26 L776.93 211.49 L777.02 211.69 L777.11 211.87 L777.21 212.02 L777.30 212.15 L777.39 212.24 L777.49 212.32 L777.58 212.36 L777.67 212.38 L777.77 212.38 L777.86 212.35 L777.96 212.29 L778.05 212.21 L778.14 212.10 L778.24 211.97 L778.33 211.81 L778.42 211.62 L778.52 211.41 L778.61 211.17 L778.70 210.90 L778.80 210.60 L778.89 210.28 L778.98 209.93 L779.08 209.56 L779.17 209.15 L779.26 208.72 L779.36 208.26 L779.45 207.77 L779.55 207.25 L779.64 206.70 L779.73 206.12 L779.83 205.51 L779.92 204.87 L780.01 204.20 L780.11 203.50 L780.20 202.76 L780.29 202.00 L780.39 201.21 L780.48 200.39 L780.57 199.53 L780.67 198.64 L780.76 197.73 L780.85 196.78 L780.95 195.80 L781.04 194.80 L781.14 193.76 L781.23 192.69 L781.32 191.60 L781.42 190.47 L781.51 189.32 L781.60 188.14 L781.70 186.94 L781.79 185.71 L781.88 184.45 L781.98 183.17 L782.07 181.87 L782.16 180.55 L782.26 179.20 L782.35 177.84 L782.44 176.46 L782.54 175.06 L782.63 173.65 L782.73 172.22 L782.82 170.78 L782.91 169.33 L783.01 167.87 L783.10 166.40 L783.19 164.93 L783.29 163.46 L783.38 161.98 L783.47 160.50 L783.57 159.03 L783.66 157.56 L783.75 156.09 L783.85 154.64 L783.94 153.19 L784.03 151.76 L784.13 150.34 L784.22 148.94 L784.31 147.56 L784.41 146.20 L784.50 144.86 L784.60 143.55 L784.69 142.26 L784.78 141.01 L784.88 139.78 L784.97 138.59 L785.06 137.44 L785.16 136.32 L785.25 135.24 L785.34 134.20 L785.44 133.20 L785.53 132.25 L785.62 131.35 L785.72 130.49 L785.81 129.68 L785.90 128.92 L786.00 128.21 L786.09 127.56 L786.19 126.96 L786.28 126.41 L786.37 125.92 L786.47 125.49 L786.56 125.12 L786.65 124.80 L786.75 124.54 L786.84 124.35 L786.93 124.21 L787.03 124.13 L787.12 124.11 L787.21 124.15 L787.31 124.25 L787.40 124.41 L787.49 124.63 L787.59 124.91 L787.68 125.25 L787.78 125.64 L787.87 126.09 L787.96 126.60 L788.06 127.16 L788.15 127.78 L788.24 128.45 L788.34 129.17 L788.43 129.94 L788.52 130.76 L788.62 131.63 L788.71 132.54 L788.80 133.50 L788.90 134.50 L788.99 135.54 L789.08 136.62 L789.18 137.74 L789.27 138.89 L789.37 140.08 L789.46 141.30 L789.55 142.55 L789.65 143.82 L789.74 145.12 L789.83 146.45 L789.93 147.79 L790.02 149.16 L790.11 150.54 L790.21 151.94 L790.30 153.35 L790.39 154.77 L790.49 156.20 L790.58 157.64 L790.67 159.08 L790.77 160.53 L790.86 161.97 L790.96 163.42 L791.05 164.86 L791.14 166.30 L791.24 167.73 L791.33 169.16 L791.42 170.57 L791.52 171.97 L791.61 173.36 L791.70 174.74 L791.80 176.10 L791.89 177.44 L791.98 178.77 L792.08 180.07 L792.17 181.36 L792.26 182.62 L792.36 183.86 L792.45 185.08 L792.55 186.27 L792.64 187.44 L792.73 188.58 L792.83 189.70 L792.92 190.78 L793.01 191.84 L793.11 192.87 L793.20 193.88 L793.29 194.85 L793.39 195.79 L793.48 196.71 L793.57 197.59 L793.67 198.45 L793.76 199.28 L793.85 200.07 L793.95 200.84 L794.04 201.57 L794.13 202.28 L794.23 202.95 L794.32 203.60 L794.42 204.21 L794.51 204.80 L794.60 205.36 L794.70 205.89 L794.79 206.39 L794.88 206.86 L794.98 207.30 L795.07 207.72 L795.16 208.11 L795.26 208.47 L795.35 208.80 L795.44 209.10 L795.54 209.38 L795.63 209.64 L795.72 209.86 L795.82 210.06 L795.91 210.24 L796.01 210.38 L796.10 210.51 L796.19 210.60 L796.29 210.67 L796.38 210.72 L796.47 210.74 L796.57 210.74 L796.66 210.71 L796.75 210.65 L796.85 210.57 L796.94 210.47 L797.03 210.34 L797.13 210.18 L797.22 210.00 L797.31 209.79 L797.41 209.56 L797.50 209.30 L797.60 209.01 L797.69 208.70 L797.78 208.36 L797.88 207.99 L797.97 207.60 L798.06 207.18 L798.16 206.73 L798.25 206.25 L798.34 205.75 L798.44 205.22 L798.53 204.66 L798.62 204.07 L798.72 203.45 L798.81 202.81 L798.90 202.13 L799.00 201.43 L799.09 200.70 L799.19 199.94 L799.28 199.15 L799.37 198.33 L799.47 197.48 L799.56 196.61 L799.65 195.71 L799.75 194.78 L799.84 193.82 L799.93 192.83 L800.03 191.82 L800.12 190.78 L800.21 189.71 L800.31 188.62 L800.40 187.51 L800.49 186.37 L800.59 185.20 L800.68 184.02 L800.78 182.81 L800.87 181.59 L800.96 180.34 L801.06 179.08 L801.15 177.79 L801.24 176.50 L801.34 175.18 L801.43 173.86 L801.52 172.52 L801.62 171.17 L801.71 169.82 L801.80 168.45 L801.90 167.08 L801.99 165.71 L802.08 164.33 L802.18 162.95 L802.27 161.57 L802.36 160.20 L802.46 158.83 L802.55 157.47 L802.65 156.11 L802.74 154.77 L802.83 153.44 L802.93 152.12 L803.02 150.82 L803.11 149.54 L803.21 148.27 L803.30 147.03 L803.39 145.81 L803.49 144.62 L803.58 143.46 L803.67 142.32 L803.77 141.22 L803.86 140.15 L803.95 139.11 L804.05 138.11 L804.14 137.15 L804.24 136.23 L804.33 135.35 L804.42 134.51 L804.52 133.72 L804.61 132.97 L804.70 132.27 L804.80 131.61 L804.89 131.01 L804.98 130.45 L805.08 129.95 L805.17 129.49 L805.26 129.09 L805.36 128.75 L805.45 128.45 L805.54 128.22 L805.64 128.03 L805.73 127.90 L805.83 127.83 L805.92 127.81 L806.01 127.85 L806.11 127.94 L806.20 128.09 L806.29 128.29 L806.39 128.54 L806.48 128.85 L806.57 129.21 L806.67 129.63 L806.76 130.10 L806.85 130.61 L806.95 131.18 L807.04 131.80 L807.13 132.46 L807.23 133.18 L807.32 133.93 L807.42 134.73 L807.51 135.58 L807.60 136.46 L807.70 137.39 L807.79 138.35 L807.88 139.35 L807.98 140.38 L808.07 141.45 L808.16 142.55 L808.26 143.68 L808.35 144.83 L808.44 146.01 L808.54 147.22 L808.63 148.45 L808.72 149.70 L808.82 150.96 L808.91 152.25 L809.01 153.55 L809.10 154.86 L809.19 156.18 L809.29 157.51 L809.38 158.85 L809.47 160.19 L809.57 161.54 L809.66 162.89 L809.75 164.23 L809.85 165.58 L809.94 166.92 L810.03 168.26 L810.13 169.59 L810.22 170.92 L810.31 172.23 L810.41 173.54 L810.50 174.83 L810.60 176.10 L810.69 177.37 L810.78 178.61 L810.88 179.84 L810.97 181.05 L811.06 182.24 L811.16 183.41 L811.25 184.56 L811.34 185.69 L811.44 186.79 L811.53 187.87 L811.62 188.93 L811.72 189.96 L811.81 190.97 L811.90 191.95 L812.00 192.90 L812.09 193.83 L812.18 194.73 L812.28 195.60 L812.37 196.44 L812.47 197.26 L812.56 198.05 L812.65 198.81 L812.75 199.55 L812.84 200.25 L812.93 200.93 L813.03 201.58 L813.12 202.20 L813.21 202.80 L813.31 203.36 L813.40 203.90 L813.49 204.41 L813.59 204.90 L813.68 205.35 L813.77 205.78 L813.87 206.19 L813.96 206.56 L814.06 206.91 L814.15 207.24 L814.24 207.53 L814.34 207.81 L814.43 208.05 L814.52 208.27 L814.62 208.47 L814.71 208.64 L814.80 208.78 L814.90 208.90 L814.99 209.00 L815.08 209.07 L815.18 209.12 L815.27 209.14 L815.36 209.13 L815.46 209.10 L815.55 209.05 L815.65 208.97 L815.74 208.87 L815.83 208.74 L815.93 208.59 L816.02 208.41 L816.11 208.21 L816.21 207.99 L816.30 207.73 L816.39 207.46 L816.49 207.15 L816.58 206.82 L816.67 206.47 L816.77 206.09 L816.86 205.68 L816.95 205.25 L817.05 204.79 L817.14 204.30 L817.24 203.79 L817.33 203.25 L817.42 202.68 L817.52 202.09 L817.61 201.47 L817.70 200.82 L817.80 200.15 L817.89 199.45 L817.98 198.72 L818.08 197.97 L818.17 197.18 L818.26 196.38 L818.36 195.54 L818.45 194.68 L818.54 193.79 L818.64 192.88 L818.73 191.95 L818.83 190.98 L818.92 190.00 L819.01 188.99 L819.11 187.96 L819.20 186.90 L819.29 185.82 L819.39 184.73 L819.48 183.61 L819.57 182.47 L819.67 181.32 L819.76 180.14 L819.85 178.95 L819.95 177.75 L820.04 176.53 L820.13 175.30 L820.23 174.06 L820.32 172.80 L820.41 171.54 L820.51 170.27 L820.60 168.99 L820.70 167.71 L820.79 166.43 L820.88 165.14 L820.98 163.86 L821.07 162.57 L821.16 161.29 L821.26 160.01 L821.35 158.75 L821.44 157.48 L821.54 156.23 L821.63 154.99 L821.72 153.77 L821.82 152.56 L821.91 151.37 L822.00 150.19 L822.10 149.04 L822.19 147.91 L822.29 146.81 L822.38 145.73 L822.47 144.67 L822.57 143.65 L822.66 142.66 L822.75 141.70 L822.85 140.77 L822.94 139.88 L823.03 139.03 L823.13 138.21 L823.22 137.43 L823.31 136.70 L823.41 136.01 L823.50 135.36 L823.59 134.75 L823.69 134.19 L823.78 133.68 L823.88 133.21 L823.97 132.79 L824.06 132.42 L824.16 132.10 L824.25 131.83 L824.34 131.61 L824.44 131.43 L824.53 131.31 L824.62 131.24 L824.72 131.23 L824.81 131.26 L824.90 131.34 L825.00 131.48 L825.09 131.66 L825.18 131.90 L825.28 132.18 L825.37 132.52 L825.47 132.90 L825.56 133.33 L825.65 133.81 L825.75 134.33 L825.84 134.90 L825.93 135.51 L826.03 136.17 L826.12 136.87 L826.21 137.61 L826.31 138.39 L826.40 139.20 L826.49 140.06 L826.59 140.95 L826.68 141.87 L826.77 142.83 L826.87 143.82 L826.96 144.84 L827.06 145.88 L827.15 146.95 L827.24 148.05 L827.34 149.17 L827.43 150.31 L827.52 151.47 L827.62 152.64 L827.71 153.84 L827.80 155.04 L827.90 156.26 L827.99 157.49 L828.08 158.73 L828.18 159.98 L828.27 161.23 L828.36 162.48 L828.46 163.74 L828.55 165.00 L828.65 166.26 L828.74 167.51 L828.83 168.76 L828.93 170.01 L829.02 171.25 L829.11 172.48 L829.21 173.70 L829.30 174.91 L829.39 176.11 L829.49 177.29 L829.58 178.47 L829.67 179.62 L829.77 180.76 L829.86 181.88 L829.95 182.99 L830.05 184.07 L830.14 185.14 L830.23 186.18 L830.33 187.20 L830.42 188.20 L830.52 189.18 L830.61 190.13 L830.70 191.06 L830.80 191.97 L830.89 192.85 L830.98 193.71 L831.08 194.54 L831.17 195.35 L831.26 196.13 L831.36 196.88 L831.45 197.61 L831.54 198.32 L831.64 198.99 L831.73 199.64 L831.82 200.27 L831.92 200.86 L832.01 201.43 L832.11 201.98 L832.20 202.50 L832.29 202.99 L832.39 203.46 L832.48 203.90 L832.57 204.32 L832.67 204.71 L832.76 205.07 L832.85 205.41 L832.95 205.72 L833.04 206.01 L833.13 206.28 L833.23 206.52 L833.32 206.73 L833.41 206.92 L833.51 207.09 L833.60 207.23 L833.70 207.34 L833.79 207.44 L833.88 207.51 L833.98 207.55 L834.07 207.57 L834.16 207.57 L834.26 207.54 L834.35 207.49 L834.44 207.42 L834.54 207.32 L834.63 207.19 L834.72 207.05 L834.82 206.88 L834.91 206.68 L835.00 206.46 L835.10 206.22 L835.19 205.95 L835.29 205.65 L835.38 205.34 L835.47 204.99 L835.57 204.63 L835.66 204.23 L835.75 203.82 L835.85 203.37 L835.94 202.91 L836.03 202.41 L836.13 201.89 L836.22 201.35 L836.31 200.78 L836.41 200.19 L836.50 199.57 L836.59 198.92 L836.69 198.25 L836.78 197.55 L836.88 196.83 L836.97 196.09 L837.06 195.32 L837.16 194.52 L837.25 193.70 L837.34 192.86 L837.44 191.99 L837.53 191.10 L837.62 190.19 L837.72 189.26 L837.81 188.30 L837.90 187.33 L838.00 186.33 L838.09 185.31 L838.18 184.27 L838.28 183.22 L838.37 182.15 L838.46 181.06 L838.56 179.96 L838.65 178.84 L838.75 177.71 L838.84 176.56 L838.93 175.41 L839.03 174.24 L839.12 173.06 L839.21 171.88 L839.31 170.69 L839.40 169.50 L839.49 168.30 L839.59 167.10 L839.68 165.90 L839.77 164.70 L839.87 163.50 L839.96 162.30 L840.05 161.12 L840.15 159.93 L840.24 158.76 L840.34 157.59 L840.43 156.44 L840.52 155.30 L840.62 154.18 L840.71 153.07 L840.80 151.98 L840.90 150.91 L840.99 149.86 L841.08 148.83 L841.18 147.83 L841.27 146.85 L841.36 145.90 L841.46 144.98 L841.55 144.09 L841.64 143.23 L841.74 142.40 L841.83 141.61 L841.93 140.86 L842.02 140.14 L842.11 139.46 L842.21 138.81 L842.30 138.21 L842.39 137.65 L842.49 137.13 L842.58 136.66 L842.67 136.22 L842.77 135.84 L842.86 135.49 L842.95 135.19 L843.05 134.94 L843.14 134.74 L843.23 134.58 L843.33 134.46 L843.42 134.40 L843.52 134.38 L843.61 134.41 L843.70 134.49 L843.80 134.61 L843.89 134.78 L843.98 135.00 L844.08 135.26 L844.17 135.57 L844.26 135.92 L844.36 136.32 L844.45 136.76 L844.54 137.24 L844.64 137.77 L844.73 138.33 L844.82 138.94 L844.92 139.58 L845.01 140.27 L845.11 140.99 L845.20 141.75 L845.29 142.54 L845.39 143.36 L845.48 144.22 L845.57 145.10 L845.67 146.02 L845.76 146.96 L845.85 147.93 L845.95 148.92 L846.04 149.94 L846.13 150.98 L846.23 152.04 L846.32 153.11 L846.41 154.20 L846.51 155.31 L846.60 156.43 L846.70 157.57 L846.79 158.71 L846.88 159.87 L846.98 161.03 L847.07 162.19 L847.16 163.36 L847.26 164.54 L847.35 165.71 L847.44 166.89 L847.54 168.06 L847.63 169.23 L847.72 170.40 L847.82 171.56 L847.91 172.71 L848.00 173.86 L848.10 174.99 L848.19 176.12 L848.28 177.23 L848.38 178.33 L848.47 179.42 L848.57 180.49 L848.66 181.55 L848.75 182.59 L848.85 183.61 L848.94 184.62 L849.03 185.60 L849.13 186.57 L849.22 187.52 L849.31 188.44 L849.41 189.35 L849.50 190.23 L849.59 191.09 L849.69 191.93 L849.78 192.74 L849.87 193.54 L849.97 194.30 L850.06 195.05 L850.16 195.77 L850.25 196.47 L850.34 197.14 L850.44 197.78 L850.53 198.41 L850.62 199.00 L850.72 199.58 L850.81 200.13 L850.90 200.65 L851.00 201.15 L851.09 201.62 L851.18 202.07 L851.28 202.50 L851.37 202.90 L851.46 203.28 L851.56 203.63 L851.65 203.96 L851.75 204.26 L851.84 204.54 L851.93 204.80 L852.03 205.03 L852.12 205.24 L852.21 205.42 L852.31 205.58 L852.40 205.72 L852.49 205.83 L852.59 205.92 L852.68 205.99 L852.77 206.03 L852.87 206.05 L852.96 206.05 L853.05 206.03 L853.15 205.98 L853.24 205.91 L853.34 205.81 L853.43 205.69 L853.52 205.55 L853.62 205.38 L853.71 205.20 L853.80 204.98 L853.90 204.75 L853.99 204.49 L854.08 204.21 L854.18 203.90 L854.27 203.57 L854.36 203.22 L854.46 202.84 L854.55 202.44 L854.64 202.01 L854.74 201.56 L854.83 201.09 L854.93 200.59 L855.02 200.07 L855.11 199.52 L855.21 198.95 L855.30 198.36 L855.39 197.74 L855.49 197.10 L855.58 196.44 L855.67 195.75 L855.77 195.04 L855.86 194.31 L855.95 193.55 L856.05 192.77 L856.14 191.97 L856.23 191.15 L856.33 190.31 L856.42 189.44 L856.52 188.56 L856.61 187.65 L856.70 186.73 L856.80 185.78 L856.89 184.82 L856.98 183.85 L857.08 182.85 L857.17 181.84 L857.26 180.82 L857.36 179.78 L857.45 178.73 L857.54 177.66 L857.64 176.59 L857.73 175.50 L857.82 174.41 L857.92 173.31 L858.01 172.20 L858.10 171.09 L858.20 169.97 L858.29 168.85 L858.39 167.73 L858.48 166.60 L858.57 165.48 L858.67 164.36 L858.76 163.25 L858.85 162.14 L858.95 161.04 L859.04 159.94 L859.13 158.86 L859.23 157.78 L859.32 156.72 L859.41 155.68 L859.51 154.65 L859.60 153.63 L859.69 152.64 L859.79 151.66 L859.88 150.71 L859.98 149.77 L860.07 148.87 L860.16 147.99 L860.26 147.13 L860.35 146.31 L860.44 145.51 L860.54 144.74 L860.63 144.01 L860.72 143.31 L860.82 142.64 L860.91 142.01 L861.00 141.41 L861.10 140.86 L861.19 140.34 L861.28 139.85 L861.38 139.41 L861.47 139.01 L861.57 138.65 L861.66 138.33 L861.75 138.06 L861.85 137.82 L861.94 137.63 L862.03 137.48 L862.13 137.38 L862.22 137.32 L862.31 137.30 L862.41 137.33 L862.50 137.40 L862.59 137.51 L862.69 137.66 L862.78 137.86 L862.87 138.11 L862.97 138.39 L863.06 138.71 L863.16 139.08 L863.25 139.49 L863.34 139.93 L863.44 140.42 L863.53 140.94 L863.62 141.50 L863.72 142.10 L863.81 142.73 L863.90 143.40 L864.00 144.10 L864.09 144.83 L864.18 145.60 L864.28 146.39 L864.37 147.21 L864.46 148.06 L864.56 148.93 L864.65 149.83 L864.75 150.75 L864.84 151.70 L864.93 152.66 L865.03 153.64 L865.12 154.64 L865.21 155.66 L865.31 156.69 L865.40 157.73 L865.49 158.79 L865.59 159.85 L865.68 160.93 L865.77 162.01 L865.87 163.10 L865.96 164.19 L866.05 165.29 L866.15 166.38 L866.24 167.48 L866.33 168.58 L866.43 169.67 L866.52 170.76 L866.62 171.85 L866.71 172.93 L866.80 174.00 L866.90 175.07 L866.99 176.12 L867.08 177.17 L867.18 178.21 L867.27 179.23 L867.36 180.24 L867.46 181.23 L867.55 182.21 L867.64 183.18 L867.74 184.13 L867.83 185.06 L867.92 185.97 L868.02 186.87 L868.11 187.75 L868.21 188.60 L868.30 189.44 L868.39 190.26 L868.49 191.05 L868.58 191.83 L868.67 192.58 L868.77 193.31 L868.86 194.02 L868.95 194.71 L869.05 195.37 L869.14 196.01 L869.23 196.63 L869.33 197.23 L869.42 197.80 L869.51 198.35 L869.61 198.87 L869.70 199.38 L869.80 199.85 L869.89 200.31 L869.98 200.74 L870.08 201.15 L870.17 201.54 L870.26 201.90 L870.36 202.24 L870.45 202.56 L870.54 202.85 L870.64 203.12 L870.73 203.37 L870.82 203.59 L870.92 203.79 L871.01 203.97 L871.10 204.13 L871.20 204.26 L871.29 204.37 L871.39 204.46 L871.48 204.52 L871.57 204.57 L871.67 204.59 L871.76 204.58 L871.85 204.56 L871.95 204.51 L872.04 204.44 L872.13 204.35 L872.23 204.24 L872.32 204.10 L872.41 203.94 L872.51 203.76 L872.60 203.56 L872.69 203.33 L872.79 203.08 L872.88 202.81 L872.98 202.51 L873.07 202.20 L873.16 201.86 L873.26 201.49 L873.35 201.11 L873.44 200.70 L873.54 200.27 L873.63 199.82 L873.72 199.34 L873.82 198.84 L873.91 198.32 L874.00 197.77 L874.10 197.21 L874.19 196.62 L874.28 196.01 L874.38 195.37 L874.47 194.72 L874.57 194.04 L874.66 193.34 L874.75 192.63 L874.85 191.89 L874.94 191.13 L875.03 190.35 L875.13 189.55 L875.22 188.73 L875.31 187.89 L875.41 187.03 L875.50 186.16 L875.59 185.27 L875.69 184.36 L875.78 183.44 L875.87 182.50 L875.97 181.55 L876.06 180.59 L876.15 179.61 L876.25 178.62 L876.34 177.62 L876.44 176.61 L876.53 175.59 L876.62 174.57 L876.72 173.54 L876.81 172.50 L876.90 171.45 L877.00 170.41 L877.09 169.36 L877.18 168.31 L877.28 167.26 L877.37 166.21 L877.46 165.17 L877.56 164.13 L877.65 163.09 L877.74 162.06 L877.84 161.04 L877.93 160.03 L878.03 159.03 L878.12 158.04 L878.21 157.07 L878.31 156.11 L878.40 155.17 L878.49 154.24 L878.59 153.33 L878.68 152.45 L878.77 151.58 L878.87 150.74 L878.96 149.92 L879.05 149.13 L879.15 148.36 L879.24 147.62 L879.33 146.91 L879.43 146.23 L879.52 145.58 L879.62 144.96 L879.71 144.37 L879.80 143.82 L879.90 143.30 L879.99 142.82 L880.08 142.37 L880.18 141.96 L880.27 141.59 L880.36 141.26 L880.46 140.96 L880.55 140.70 L880.64 140.49 L880.74 140.31 L880.83 140.17 L880.92 140.07 L881.02 140.02 L881.11 140.00 L881.21 140.02 L881.30 140.09 L881.39 140.19 L881.49 140.33 L881.58 140.52 L881.67 140.74 L881.77 141.00 L881.86 141.30 L881.95 141.64 L882.05 142.02 L882.14 142.43 L882.23 142.88 L882.33 143.36 L882.42 143.88 L882.51 144.43 L882.61 145.02 L882.70 145.64 L882.80 146.28 L882.89 146.96 L882.98 147.67 L883.08 148.40 L883.17 149.17 L883.26 149.95 L883.36 150.76 L883.45 151.60 L883.54 152.45 L883.64 153.33 L883.73 154.22 L883.82 155.14 L883.92 156.07 L884.01 157.01 L884.10 157.97 L884.20 158.94 L884.29 159.93 L884.38 160.92 L884.48 161.92 L884.57 162.93 L884.67 163.94 L884.76 164.96 L884.85 165.98 L884.95 167.01 L885.04 168.03 L885.13 169.06 L885.23 170.08 L885.32 171.11 L885.41 172.12 L885.51 173.14 L885.60 174.14 L885.69 175.14 L885.79 176.13 L885.88 177.12 L885.97 178.09 L886.07 179.05 L886.16 180.00 L886.26 180.94 L886.35 181.86 L886.44 182.77 L886.54 183.67 L886.63 184.55 L886.72 185.41 L886.82 186.26 L886.91 187.09 L887.00 187.90 L887.10 188.69 L887.19 189.47 L887.28 190.22 L887.38 190.96 L887.47 191.67 L887.56 192.37 L887.66 193.04 L887.75 193.70 L887.85 194.33 L887.94 194.94 L888.03 195.53 L888.13 196.10 L888.22 196.65 L888.31 197.17 L888.41 197.67 L888.50 198.16" stroke="#00f" stroke-width="2.0" stroke-dasharray="9.8 5.73"/></g>
<path d="M58.30 242.00L58.30 239.00M58.30 1.30L58.30 4.30M73.27 242.00L73.27 239.00M73.27 1.30L73.27 4.30M88.24 242.00L88.24 239.00M88.24 1.30L88.24 4.30M103.20 242.00L103.20 239.00M103.20 1.30L103.20 4.30M118.17 242.00L118.17 239.00M118.17 1.30L118.17 4.30M133.14 242.00L133.14 239.00M133.14 1.30L133.14 4.30M148.11 242.00L148.11 239.00M148.11 1.30L148.11 4.30M163.08 242.00L163.08 239.00M163.08 1.30L163.08 4.30M178.04 242.00L178.04 239.00M178.04 1.30L178.04 4.30M193.01 242.00L193.01 239.00M193.01 1.30L193.01 4.30M207.98 242.00L207.98 239.00M207.98 1.30L207.98 4.30M222.95 242.00L222.95 239.00M222.95 1.30L222.95 4.30M237.92 242.00L237.92 239.00M237.92 1.30L237.92 4.30M252.88 242.00L252.88 239.00M252.88 1.30L252.88 4.30M267.85 242.00L267.85 239.00M267.85 1.30L267.85 4.30M282.82 242.00L282.82 239.00M282.82 1.30L282.82 4.30M297.79 242.00L297.79 239.00M297.79 1.30L297.79 4.30M312.76 242.00L312.76 239.00M312.76 1.30L312.76 4.30M327.72 242.00L327.72 239.00M327.72 1.30L327.72 4.30M342.69 242.00L342.69 239.00M342.69 1.30L342.69 4.30M357.66 242.00L357.66 239.00M357.66 1.30L357.66 4.30M372.63 242.00L372.63 239.00M372.63 1.30L372.63 4.30M387.60 242.00L387.60 239.00M387.60 1.30L387.60 4.30M402.56 242.00L402.56 239.00M402.56 1.30L402.56 4.30M417.53 242.00L417.53 239.00M417.53 1.30L417.53 4.30M432.50 242.00L432.50 239.00M432.50 1.30L432.50 4.30M58.30 242.00L58.30 237.40M58.30 1.30L58.30 5.90M133.14 242.00L133.14 237.40M133.14 1.30L133.14 5.90M207.98 242.00L207.98 237.40M207.98 1.30L207.98 5.90M282.82 242.00L282.82 237.40M282.82 1.30L282.82 5.90M357.66 242.00L357.66 237.40M357.66 1.30L357.66 5.90M432.50 242.00L432.50 237.40M432.50 1.30L432.50 5.90M51.00 236.93L54.00 236.93M440.00 236.93L437.00 236.93M51.00 229.90L54.00 229.90M440.00 229.90L437.00 229.90M51.00 222.87L54.00 222.87M440.00 222.87L437.00 222.87M51.00 215.83L54.00 215.83M440.00 215.83L437.00 215.83M51.00 208.80L54.00 208.80M440.00 208.80L437.00 208.80M51.00 201.76L54.00 201.76M440.00 201.76L437.00 201.76M51.00 194.73L54.00 194.73M440.00 194.73L437.00 194.73M51.00 187.70L54.00 187.70M440.00 187.70L437.00 187.70M51.00 180.66L54.00 180.66M440.00 180.66L437.00 180.66M51.00 173.63L54.00 173.63M440.00 173.63L437.00 173.63M51.00 166.59L54.00 166.59M440.00 166.59L437.00 166.59M51.00 159.56L54.00 159.56M440.00 159.56L437.00 159.56M51.00 152.53L54.00 152.53M440.00 152.53L437.00 152.53M51.00 145.49L54.00 145.49M440.00 145.49L437.00 145.49M51.00 138.46L54.00 138.46M440.00 138.46L437.00 138.46M51.00 131.42L54.00 131.42M440.00 131.42L437.00 131.42M51.00 124.39L54.00 124.39M440.00 124.39L437.00 124.39M51.00 117.36L54.00 117.36M440.00 117.36L437.00 117.36M51.00 110.32L54.00 110.32M440.00 110.32L437.00 110.32M51.00 103.29L54.00 103.29M440.00 103.29L437.00 103.29M51.00 96.25L54.00 96.25M440.00 96.25L437.00 96.25M51.00 89.22L54.00 89.22M440.00 89.22L437.00 89.22M51.00 82.19L54.00 82.19M440.00 82.19L437.00 82.19M51.00 75.15L54.00 75.15M440.00 75.15L437.00 75.15M51.00 68.12L54.00 68.12M440.00 68.12L437.00 68.12M51.00 61.08L54.00 61.08M440.00 61.08L437.00 61.08M51.00 54.05L54.00 54.05M440.00 54.05L437.00 54.05M51.00 47.02L54.00 47.02M440.00 47.02L437.00 47.02M51.00 39.98L54.00 39.98M440.00 39.98L437.00 39.98M51.00 32.95L54.00 32.95M440.00 32.95L437.00 32.95M51.00 25.91L54.00 25.91M440.00 25.91L437.00 25.91M51.00 18.88L54.00 18.88M440.00 18.88L437.00 18.88M51.00 11.85L54.00 11.85M440.00 11.85L437.00 11.85M51.00 4.81L54.00 4.81M440.00 4.81L437.00 4.81M51.00 229.90L55.60 229.90M440.00 229.90L435.40 229.90M51.00 194.73L55.60 194.73M440.00 194.73L435.40 194.73M51.00 159.56L55.60 159.56M440.00 159.56L435.40 159.56M51.00 124.39L55.60 124.39M440.00 124.39L435.40 124.39M51.00 89.22L55.60 89.22M440.00 89.22L435.40 89.22M51.00 54.05L55.60 54.05M440.00 54.05L435.40 54.05M51.00 18.88L55.60 18.88M440.00 18.88L435.40 18.88" stroke="#000" stroke-width="2.0" fill="none"/>
<path d="M514.50 243.20L514.50 240.20M514.50 2.45L514.50 5.45M529.46 243.20L529.46 240.20M529.46 2.45L529.46 5.45M544.42 243.20L544.42 240.20M544.42 2.45L544.42 5.45M559.38 243.20L559.38 240.20M559.38 2.45L559.38 5.45M574.34 243.20L574.34 240.20M574.34 2.45L574.34 5.45M589.30 243.20L589.30 240.20M589.30 2.45L589.30 5.45M604.26 243.20L604.26 240.20M604.26 2.45L604.26 5.45M619.22 243.20L619.22 240.20M619.22 2.45L619.22 5.45M634.18 243.20L634.18 240.20M634.18 2.45L634.18 5.45M649.14 243.20L649.14 240.20M649.14 2.45L649.14 5.45M664.10 243.20L664.10 240.20M664.10 2.45L664.10 5.45M679.06 243.20L679.06 240.20M679.06 2.45L679.06 5.45M694.02 243.20L694.02 240.20M694.02 2.45L694.02 5.45M708.98 243.20L708.98 240.20M708.98 2.45L708.98 5.45M723.94 243.20L723.94 240.20M723.94 2.45L723.94 5.45M738.90 243.20L738.90 240.20M738.90 2.45L738.90 5.45M753.86 243.20L753.86 240.20M753.86 2.45L753.86 5.45M768.82 243.20L768.82 240.20M768.82 2.45L768.82 5.45M783.78 243.20L783.78 240.20M783.78 2.45L783.78 5.45M798.74 243.20L798.74 240.20M798.74 2.45L798.74 5.45M813.70 243.20L813.70 240.20M813.70 2.45L813.70 5.45M828.66 243.20L828.66 240.20M828.66 2.45L828.66 5.45M843.62 243.20L843.62 240.20M843.62 2.45L843.62 5.45M858.58 243.20L858.58 240.20M858.58 2.45L858.58 5.45M873.54 243.20L873.54 240.20M873.54 2.45L873.54 5.45M888.50 243.20L888.50 240.20M888.50 2.45L888.50 5.45M514.50 243.20L514.50 238.60M514.50 2.45L514.50 7.05M589.30 243.20L589.30 238.60M589.30 2.45L589.30 7.05M664.10 243.20L664.10 238.60M664.10 2.45L664.10 7.05M738.90 243.20L738.90 238.60M738.90 2.45L738.90 7.05M813.70 243.20L813.70 238.60M813.70 2.45L813.70 7.05M888.50 243.20L888.50 238.60M888.50 2.45L888.50 7.05M507.00 241.88L510.00 241.88M896.10 241.88L893.10 241.88M507.00 231.00L510.00 231.00M896.10 231.00L893.10 231.00M507.00 220.12L510.00 220.12M896.10 220.12L893.10 220.12M507.00 209.25L510.00 209.25M896.10 209.25L893.10 209.25M507.00 198.38L510.00 198.38M896.10 198.38L893.10 198.38M507.00 187.50L510.00 187.50M896.10 187.50L893.10 187.50M507.00 176.62L510.00 176.62M896.10 176.62L893.10 176.62M507.00 165.75L510.00 165.75M896.10 165.75L893.10 165.75M507.00 154.88L510.00 154.88M896.10 154.88L893.10 154.88M507.00 144.00L510.00 144.00M896.10 144.00L893.10 144.00M507.00 133.12L510.00 133.12M896.10 133.12L893.10 133.12M507.00 122.25L510.00 122.25M896.10 122.25L893.10 122.25M507.00 111.37L510.00 111.37M896.10 111.37L893.10 111.37M507.00 100.50L510.00 100.50M896.10 100.50L893.10 100.50M507.00 89.62L510.00 89.62M896.10 89.62L893.10 89.62M507.00 78.75L510.00 78.75M896.10 78.75L893.10 78.75M507.00 67.88L510.00 67.88M896.10 67.88L893.10 67.88M507.00 57.00L510.00 57.00M896.10 57.00L893.10 57.00M507.00 46.12L510.00 46.12M896.10 46.12L893.10 46.12M507.00 35.25L510.00 35.25M896.10 35.25L893.10 35.25M507.00 24.38L510.00 24.38M896.10 24.38L893.10 24.38M507.00 13.50L510.00 13.50M896.10 13.50L893.10 13.50M507.00 231.00L511.60 231.00M896.10 231.00L891.50 231.00M507.00 187.50L511.60 187.50M896.10 187.50L891.50 187.50M507.00 144.00L511.60 144.00M896.10 144.00L891.50 144.00M507.00 100.50L511.60 100.50M896.10 100.50L891.50 100.50M507.00 57.00L511.60 57.00M896.10 57.00L891.50 57.00M507.00 13.50L511.60 13.50M896.10 13.50L891.50 13.50" stroke="#000" stroke-width="2.0" fill="none"/>
<path d="M51 0.325V242H440V0.325" fill="none" stroke="#000" stroke-width="2.45" stroke-linejoin="miter"/><path d="M49.775 1.425H441.225" fill="none" stroke="#000" stroke-width="2.2"/><rect x="507" y="2.45" width="389.1" height="240.75" fill="none" stroke="#000" stroke-width="2.45"/>
<g font-size="16" fill="#000"><text transform="translate(58.30,261.3) scale(0.97,1)" text-anchor="middle">0</text><text transform="translate(133.14,261.3) scale(0.97,1)" text-anchor="middle">50</text><text transform="translate(207.98,261.3) scale(0.97,1)" text-anchor="middle">100</text><rect x="195.95" y="259.10" width="2.92" height="2.80" fill="#fff"/><rect x="200.39" y="259.10" width="2.80" height="2.80" fill="#fff"/><text transform="translate(282.82,261.3) scale(0.97,1)" text-anchor="middle">150</text><rect x="270.79" y="259.10" width="2.92" height="2.80" fill="#fff"/><rect x="275.23" y="259.10" width="2.80" height="2.80" fill="#fff"/><text transform="translate(357.66,261.3) scale(0.97,1)" text-anchor="middle">200</text><text transform="translate(432.50,261.3) scale(0.97,1)" text-anchor="middle">250</text><text transform="translate(47.4,235.65) scale(0.97,1)" text-anchor="end">0.0</text><text transform="translate(47.4,200.48) scale(0.97,1)" text-anchor="end">0.1</text><rect x="39.68" y="198.28" width="2.92" height="2.80" fill="#fff"/><rect x="44.12" y="198.28" width="2.80" height="2.80" fill="#fff"/><text transform="translate(47.4,165.31) scale(0.97,1)" text-anchor="end">0.2</text><text transform="translate(47.4,130.14) scale(0.97,1)" text-anchor="end">0.3</text><text transform="translate(47.4,94.97) scale(0.97,1)" text-anchor="end">0.4</text><text transform="translate(47.4,59.80) scale(0.97,1)" text-anchor="end">0.5</text><text transform="translate(47.4,24.63) scale(0.97,1)" text-anchor="end">0.6</text><text transform="translate(514.50,262.3) scale(0.97,1)" text-anchor="middle">0.0</text><text transform="translate(589.30,262.3) scale(0.97,1)" text-anchor="middle">0.5</text><text transform="translate(664.10,262.3) scale(0.97,1)" text-anchor="middle">1.0</text><rect x="654.22" y="260.10" width="2.92" height="2.80" fill="#fff"/><rect x="658.66" y="260.10" width="2.80" height="2.80" fill="#fff"/><text transform="translate(738.90,262.3) scale(0.97,1)" text-anchor="middle">1.5</text><rect x="729.02" y="260.10" width="2.92" height="2.80" fill="#fff"/><rect x="733.46" y="260.10" width="2.80" height="2.80" fill="#fff"/><text transform="translate(813.70,262.3) scale(0.97,1)" text-anchor="middle">2.0</text><text transform="translate(888.50,262.3) scale(0.97,1)" text-anchor="middle">2.5</text><text transform="translate(502.8,236.35) scale(0.97,1)" text-anchor="end">0.0</text><text transform="translate(502.8,192.85) scale(0.97,1)" text-anchor="end">0.2</text><text transform="translate(502.8,149.35) scale(0.97,1)" text-anchor="end">0.4</text><text transform="translate(502.8,105.85) scale(0.97,1)" text-anchor="end">0.6</text><text transform="translate(502.8,62.35) scale(0.97,1)" text-anchor="end">0.8</text><text transform="translate(502.8,18.85) scale(0.97,1)" text-anchor="end">1.0</text><rect x="482.14" y="16.65" width="2.92" height="2.80" fill="#fff"/><rect x="486.58" y="16.65" width="2.80" height="2.80" fill="#fff"/></g>
<g fill="#000" stroke="#000" stroke-width="0.15" stroke-linejoin="round"><text transform="translate(12.9,191.8) rotate(-90)" font-size="16" font-weight="bold">Δ<tspan dx="1.3">E</tspan><tspan font-size="13.5" font-style="italic" dy="4.1" dx="0.8">B</tspan><tspan dy="-4.1" dx="0.6">/</tspan><tspan font-style="italic" dx="0.7">ω</tspan><tspan font-size="11.5" dy="4.1" dx="-1.3">0</tspan></text><text transform="translate(12.9,72.0) rotate(-90)" font-size="16.6" font-weight="bold">(a)</text><text transform="translate(468.6,191.8) rotate(-90)" font-size="16" font-weight="bold">Δ<tspan dx="1.3">E</tspan><tspan font-size="13.5" font-style="italic" dy="4.1" dx="0.8">B</tspan><tspan dy="-4.1" dx="0.6">/</tspan><tspan font-style="italic" dx="0.7">ω</tspan><tspan font-size="11.5" dy="4.1" dx="-1.3">0</tspan></text><text transform="translate(468.6,73.0) rotate(-90)" font-size="16.6" font-weight="bold">(b)</text><text x="245.6" y="292.3" text-anchor="middle" font-size="16" font-weight="bold"><tspan font-style="italic">λ</tspan><tspan dx="0.7">t</tspan></text><text x="701.6" y="293.3" text-anchor="middle" font-size="16" font-weight="bold"><tspan font-style="italic">λ</tspan><tspan dx="0.7">t</tspan></text><path d="M292.8 38.55L337.3 38.55" stroke="#000" stroke-width="2.7" fill="none" stroke-dasharray="9.8 5.6"/><text x="343.4" y="42.0" font-size="12.9" font-weight="bold"><tspan font-style="italic">v</tspan>=−0.49</text><path d="M292.8 61.45L337.3 61.45" stroke="#f00" stroke-width="2.6" fill="none"/><text x="343.4" y="64.7" font-size="12.9" font-weight="bold"><tspan font-style="italic">v</tspan>=−0.3</text><path d="M292.8 84.15L337.3 84.15" stroke="#00f" stroke-width="2.0" fill="none" stroke-dasharray="9.8 5.6"/><text x="343.4" y="87.2" font-size="12.9" font-weight="bold"><tspan font-style="italic">v</tspan>=0</text></g>
</svg>
</body></html>
